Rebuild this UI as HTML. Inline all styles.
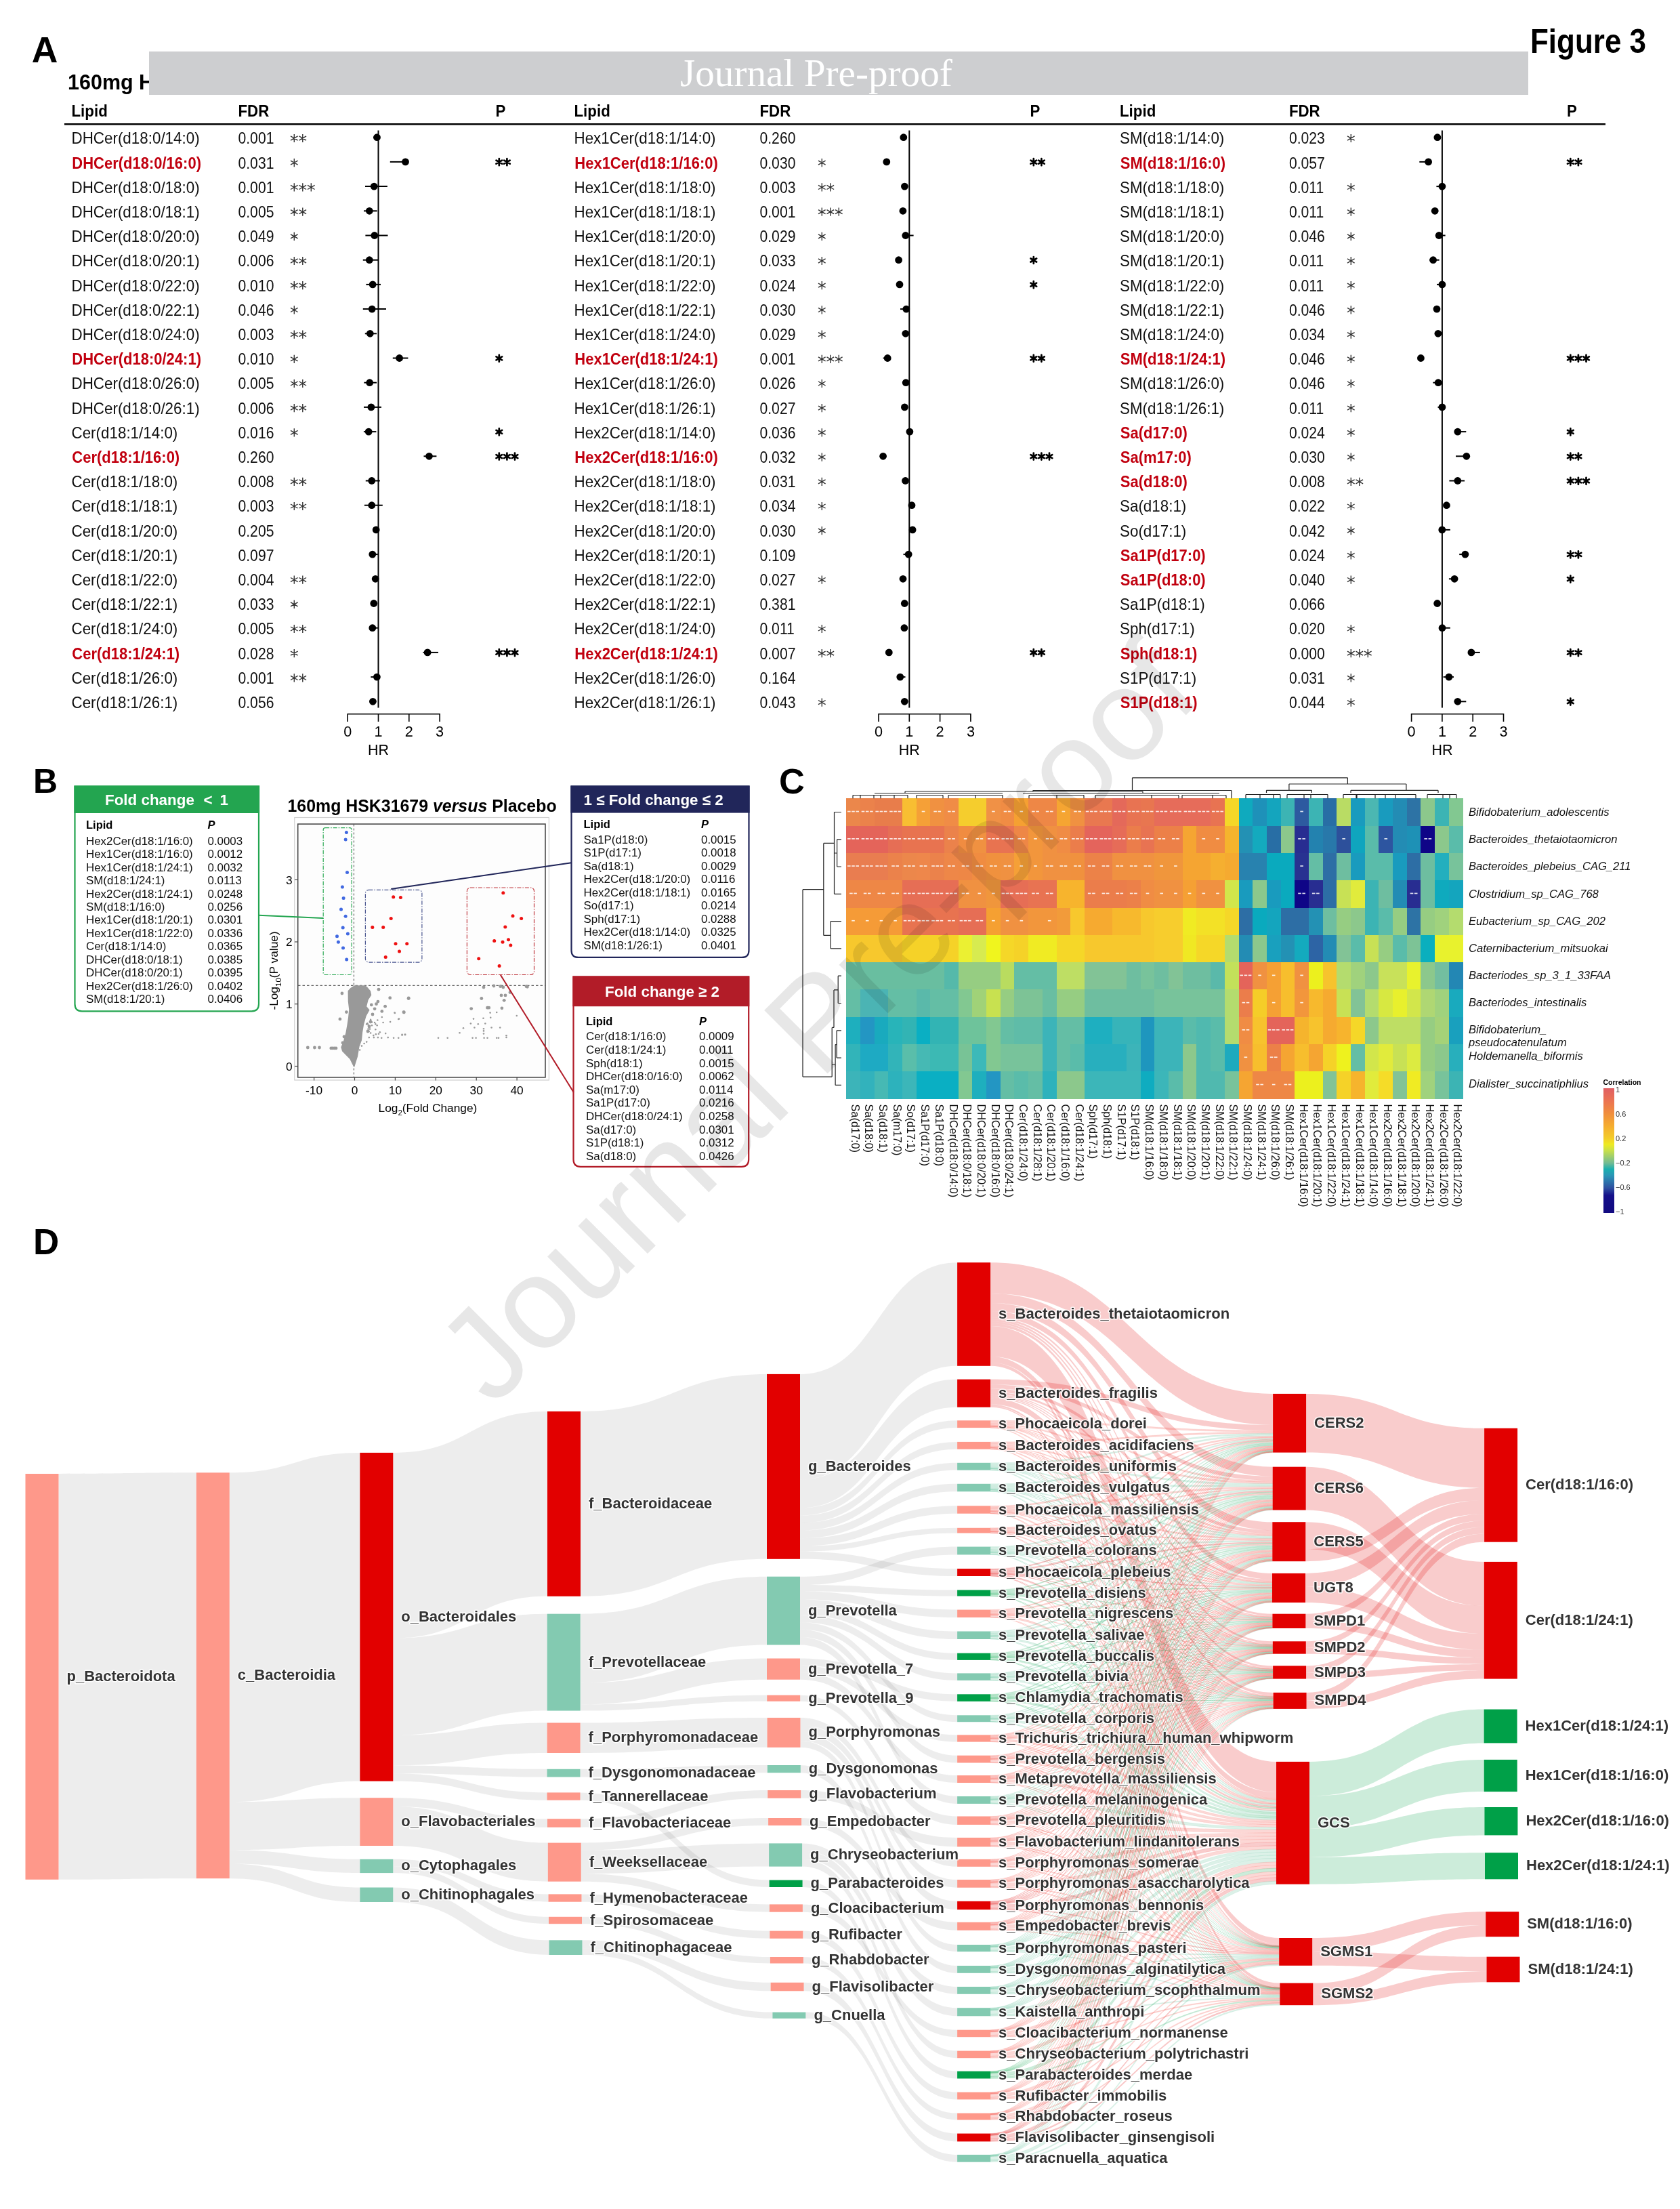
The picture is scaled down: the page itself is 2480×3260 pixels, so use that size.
<!DOCTYPE html>
<html><head><meta charset="utf-8"><title>Figure 3</title>
<style>
html,body{margin:0;padding:0;background:#fff;}
body{width:2480px;height:3260px;overflow:hidden;}
svg{display:block;font-family:"Liberation Sans",sans-serif;}
</style></head><body>
<svg width="2480" height="3260" viewBox="0 0 2480 3260" xmlns="http://www.w3.org/2000/svg">
<text x="46.8" y="91.8" font-size="53.5" font-weight="bold">A</text>
<text x="100" y="132.4" font-size="30.5" font-weight="bold">160mg HSK31679 versus Placebo</text>
<rect x="220" y="76" width="2036" height="64" fill="#cdced0"/>
<text x="1004" y="127.3" font-family="Liberation Serif, serif" font-size="57.2" fill="#fff">Journal Pre-proof</text>
<text x="2259" y="78" font-size="49.3" font-weight="bold" textLength="171" lengthAdjust="spacingAndGlyphs">Figure 3</text>
<text transform="translate(105.5,172.3) scale(0.918,1)" font-size="24.3" font-weight="bold">Lipid</text>
<text transform="translate(351.5,172.3) scale(0.918,1)" font-size="24.3" font-weight="bold">FDR</text>
<text transform="translate(731.5,172.3) scale(0.918,1)" font-size="24.3" font-weight="bold">P</text>
<text transform="translate(847.5,172.3) scale(0.918,1)" font-size="24.3" font-weight="bold">Lipid</text>
<text transform="translate(1121.5,172.3) scale(0.918,1)" font-size="24.3" font-weight="bold">FDR</text>
<text transform="translate(1520.5,172.3) scale(0.918,1)" font-size="24.3" font-weight="bold">P</text>
<text transform="translate(1653.0,172.3) scale(0.918,1)" font-size="24.3" font-weight="bold">Lipid</text>
<text transform="translate(1902.9,172.3) scale(0.918,1)" font-size="24.3" font-weight="bold">FDR</text>
<text transform="translate(2313.0,172.3) scale(0.918,1)" font-size="24.3" font-weight="bold">P</text>
<line x1="95" y1="183.3" x2="2370" y2="183.3" stroke="#000" stroke-width="2.4"/>
<line x1="558.5" y1="192.5" x2="558.5" y2="1044.6" stroke="#000" stroke-width="2"/>
<path d="M513.2 1065V1053.7H649.1V1065M558.5 1053.7V1065M603.8 1053.7V1065" fill="none" stroke="#000" stroke-width="1.6"/>
<text transform="translate(513.2,1086.7) scale(0.95,1)" font-size="22.8" text-anchor="middle">0</text>
<text transform="translate(558.5,1086.7) scale(0.95,1)" font-size="22.8" text-anchor="middle">1</text>
<text transform="translate(603.8,1086.7) scale(0.95,1)" font-size="22.8" text-anchor="middle">2</text>
<text transform="translate(649.1,1086.7) scale(0.95,1)" font-size="22.8" text-anchor="middle">3</text>
<text transform="translate(558.5,1114) scale(0.95,1)" font-size="22.6" text-anchor="middle">HR</text>
<text transform="translate(105.5,212.4) scale(0.945,1)" font-size="23.7" fill="#111">DHCer(d18:0/14:0)</text>
<text transform="translate(351.5,212.4) scale(0.885,1)" font-size="23.9" fill="#111">0.001</text>
<line x1="551" y1="202.7" x2="559" y2="202.7" stroke="#000" stroke-width="2"/>
<circle cx="556.5" cy="202.7" r="5.4"/>
<text transform="translate(106.3,248.6) scale(0.913,1)" font-size="24.1" font-weight="bold" fill="#c1000f">DHCer(d18:0/16:0)</text>
<text transform="translate(351.5,248.6) scale(0.885,1)" font-size="23.9" fill="#111">0.031</text>
<line x1="575.8" y1="238.9" x2="602" y2="238.9" stroke="#000" stroke-width="2"/>
<circle cx="598.5" cy="238.9" r="5.4"/>
<text transform="translate(105.5,284.8) scale(0.945,1)" font-size="23.7" fill="#111">DHCer(d18:0/18:0)</text>
<text transform="translate(351.5,284.8) scale(0.885,1)" font-size="23.9" fill="#111">0.001</text>
<line x1="539" y1="275.1" x2="571.9" y2="275.1" stroke="#000" stroke-width="2"/>
<circle cx="552.2" cy="275.1" r="5.4"/>
<text transform="translate(105.5,321.0) scale(0.945,1)" font-size="23.7" fill="#111">DHCer(d18:0/18:1)</text>
<text transform="translate(351.5,321.0) scale(0.885,1)" font-size="23.9" fill="#111">0.005</text>
<line x1="537" y1="311.3" x2="556.7" y2="311.3" stroke="#000" stroke-width="2"/>
<circle cx="545.3" cy="311.3" r="5.4"/>
<text transform="translate(105.5,357.2) scale(0.945,1)" font-size="23.7" fill="#111">DHCer(d18:0/20:0)</text>
<text transform="translate(351.5,357.2) scale(0.885,1)" font-size="23.9" fill="#111">0.049</text>
<line x1="539.4" y1="347.5" x2="572.5" y2="347.5" stroke="#000" stroke-width="2"/>
<circle cx="552.8" cy="347.5" r="5.4"/>
<text transform="translate(105.5,393.4) scale(0.945,1)" font-size="23.7" fill="#111">DHCer(d18:0/20:1)</text>
<text transform="translate(351.5,393.4) scale(0.885,1)" font-size="23.9" fill="#111">0.006</text>
<line x1="535.8" y1="383.7" x2="558" y2="383.7" stroke="#000" stroke-width="2"/>
<circle cx="545.3" cy="383.7" r="5.4"/>
<text transform="translate(105.5,429.6) scale(0.945,1)" font-size="23.7" fill="#111">DHCer(d18:0/22:0)</text>
<text transform="translate(351.5,429.6) scale(0.885,1)" font-size="23.9" fill="#111">0.010</text>
<line x1="540.4" y1="419.9" x2="562" y2="419.9" stroke="#000" stroke-width="2"/>
<circle cx="550.2" cy="419.9" r="5.4"/>
<text transform="translate(105.5,465.8) scale(0.945,1)" font-size="23.7" fill="#111">DHCer(d18:0/22:1)</text>
<text transform="translate(351.5,465.8) scale(0.885,1)" font-size="23.9" fill="#111">0.046</text>
<line x1="535.8" y1="456.1" x2="570" y2="456.1" stroke="#000" stroke-width="2"/>
<circle cx="549.2" cy="456.1" r="5.4"/>
<text transform="translate(105.5,502.0) scale(0.945,1)" font-size="23.7" fill="#111">DHCer(d18:0/24:0)</text>
<text transform="translate(351.5,502.0) scale(0.885,1)" font-size="23.9" fill="#111">0.003</text>
<line x1="538.8" y1="492.3" x2="556" y2="492.3" stroke="#000" stroke-width="2"/>
<circle cx="546.3" cy="492.3" r="5.4"/>
<text transform="translate(106.3,538.2) scale(0.913,1)" font-size="24.1" font-weight="bold" fill="#c1000f">DHCer(d18:0/24:1)</text>
<text transform="translate(351.5,538.2) scale(0.885,1)" font-size="23.9" fill="#111">0.010</text>
<line x1="579.8" y1="528.5" x2="602.4" y2="528.5" stroke="#000" stroke-width="2"/>
<circle cx="589.6" cy="528.5" r="5.4"/>
<text transform="translate(105.5,574.4) scale(0.945,1)" font-size="23.7" fill="#111">DHCer(d18:0/26:0)</text>
<text transform="translate(351.5,574.4) scale(0.885,1)" font-size="23.9" fill="#111">0.005</text>
<line x1="537.4" y1="564.7" x2="556" y2="564.7" stroke="#000" stroke-width="2"/>
<circle cx="545.7" cy="564.7" r="5.4"/>
<text transform="translate(105.5,610.6) scale(0.945,1)" font-size="23.7" fill="#111">DHCer(d18:0/26:1)</text>
<text transform="translate(351.5,610.6) scale(0.885,1)" font-size="23.9" fill="#111">0.006</text>
<line x1="537" y1="600.9" x2="563" y2="600.9" stroke="#000" stroke-width="2"/>
<circle cx="547.9" cy="600.9" r="5.4"/>
<text transform="translate(105.5,646.8) scale(0.945,1)" font-size="23.7" fill="#111">Cer(d18:1/14:0)</text>
<text transform="translate(351.5,646.8) scale(0.885,1)" font-size="23.9" fill="#111">0.016</text>
<line x1="536.9" y1="637.1" x2="555.4" y2="637.1" stroke="#000" stroke-width="2"/>
<circle cx="544.2" cy="637.1" r="5.4"/>
<text transform="translate(106.3,683.0) scale(0.913,1)" font-size="24.1" font-weight="bold" fill="#c1000f">Cer(d18:1/16:0)</text>
<text transform="translate(351.5,683.0) scale(0.885,1)" font-size="23.9" fill="#111">0.260</text>
<line x1="625.5" y1="673.3" x2="644.4" y2="673.3" stroke="#000" stroke-width="2"/>
<circle cx="633.5" cy="673.3" r="5.4"/>
<text transform="translate(105.5,719.2) scale(0.945,1)" font-size="23.7" fill="#111">Cer(d18:1/18:0)</text>
<text transform="translate(351.5,719.2) scale(0.885,1)" font-size="23.9" fill="#111">0.008</text>
<line x1="539.8" y1="709.5" x2="560.8" y2="709.5" stroke="#000" stroke-width="2"/>
<circle cx="548.8" cy="709.5" r="5.4"/>
<text transform="translate(105.5,755.4) scale(0.945,1)" font-size="23.7" fill="#111">Cer(d18:1/18:1)</text>
<text transform="translate(351.5,755.4) scale(0.885,1)" font-size="23.9" fill="#111">0.003</text>
<line x1="537.9" y1="745.7" x2="564.8" y2="745.7" stroke="#000" stroke-width="2"/>
<circle cx="548.8" cy="745.7" r="5.4"/>
<text transform="translate(105.5,791.6) scale(0.945,1)" font-size="23.7" fill="#111">Cer(d18:1/20:0)</text>
<text transform="translate(351.5,791.6) scale(0.885,1)" font-size="23.9" fill="#111">0.205</text>
<circle cx="555.2" cy="781.9" r="5.4"/>
<text transform="translate(105.5,827.8) scale(0.945,1)" font-size="23.7" fill="#111">Cer(d18:1/20:1)</text>
<text transform="translate(351.5,827.8) scale(0.885,1)" font-size="23.9" fill="#111">0.097</text>
<line x1="549.8" y1="818.1" x2="557.8" y2="818.1" stroke="#000" stroke-width="2"/>
<circle cx="549.8" cy="818.1" r="5.4"/>
<text transform="translate(105.5,864.0) scale(0.945,1)" font-size="23.7" fill="#111">Cer(d18:1/22:0)</text>
<text transform="translate(351.5,864.0) scale(0.885,1)" font-size="23.9" fill="#111">0.004</text>
<circle cx="554.2" cy="854.3" r="5.4"/>
<text transform="translate(105.5,900.2) scale(0.945,1)" font-size="23.7" fill="#111">Cer(d18:1/22:1)</text>
<text transform="translate(351.5,900.2) scale(0.885,1)" font-size="23.9" fill="#111">0.033</text>
<circle cx="551.8" cy="890.5" r="5.4"/>
<text transform="translate(105.5,936.4) scale(0.945,1)" font-size="23.7" fill="#111">Cer(d18:1/24:0)</text>
<text transform="translate(351.5,936.4) scale(0.885,1)" font-size="23.9" fill="#111">0.005</text>
<line x1="549.8" y1="926.7" x2="557.8" y2="926.7" stroke="#000" stroke-width="2"/>
<circle cx="549.8" cy="926.7" r="5.4"/>
<text transform="translate(106.3,972.6) scale(0.913,1)" font-size="24.1" font-weight="bold" fill="#c1000f">Cer(d18:1/24:1)</text>
<text transform="translate(351.5,972.6) scale(0.885,1)" font-size="23.9" fill="#111">0.028</text>
<line x1="624.5" y1="962.9" x2="647" y2="962.9" stroke="#000" stroke-width="2"/>
<circle cx="631.1" cy="962.9" r="5.4"/>
<text transform="translate(105.5,1008.8) scale(0.945,1)" font-size="23.7" fill="#111">Cer(d18:1/26:0)</text>
<text transform="translate(351.5,1008.8) scale(0.885,1)" font-size="23.9" fill="#111">0.001</text>
<line x1="547.4" y1="999.1" x2="556.4" y2="999.1" stroke="#000" stroke-width="2"/>
<circle cx="556.4" cy="999.1" r="5.4"/>
<text transform="translate(105.5,1045.0) scale(0.945,1)" font-size="23.7" fill="#111">Cer(d18:1/26:1)</text>
<text transform="translate(351.5,1045.0) scale(0.885,1)" font-size="23.9" fill="#111">0.056</text>
<circle cx="550.4" cy="1035.3" r="5.4"/>
<path d="M434.3 197.9L434.3 210.1M429.0 200.9L439.6 207.1M439.6 200.9L429.0 207.1M446.8 197.9L446.8 210.1M441.5 200.9L452.1 207.1M452.1 200.9L441.5 207.1M434.3 234.1L434.3 246.3M429.0 237.1L439.6 243.2M439.6 237.1L429.0 243.2M434.3 270.3L434.3 282.5M429.0 273.4L439.6 279.5M439.6 273.4L429.0 279.5M446.8 270.3L446.8 282.5M441.5 273.4L452.1 279.5M452.1 273.4L441.5 279.5M459.3 270.3L459.3 282.5M454.0 273.4L464.6 279.5M464.6 273.4L454.0 279.5M434.3 306.5L434.3 318.7M429.0 309.6L439.6 315.7M439.6 309.6L429.0 315.7M446.8 306.5L446.8 318.7M441.5 309.6L452.1 315.7M452.1 309.6L441.5 315.7M434.3 342.7L434.3 354.9M429.0 345.8L439.6 351.9M439.6 345.8L429.0 351.9M434.3 378.9L434.3 391.1M429.0 381.9L439.6 388.1M439.6 381.9L429.0 388.1M446.8 378.9L446.8 391.1M441.5 381.9L452.1 388.1M452.1 381.9L441.5 388.1M434.3 415.1L434.3 427.3M429.0 418.1L439.6 424.2M439.6 418.1L429.0 424.2M446.8 415.1L446.8 427.3M441.5 418.1L452.1 424.2M452.1 418.1L441.5 424.2M434.3 451.3L434.3 463.5M429.0 454.4L439.6 460.5M439.6 454.4L429.0 460.5M434.3 487.5L434.3 499.7M429.0 490.6L439.6 496.7M439.6 490.6L429.0 496.7M446.8 487.5L446.8 499.7M441.5 490.6L452.1 496.7M452.1 490.6L441.5 496.7M434.3 523.7L434.3 535.9M429.0 526.8L439.6 532.8M439.6 526.8L429.0 532.8M434.3 559.9L434.3 572.1M429.0 563.0L439.6 569.0M439.6 563.0L429.0 569.0M446.8 559.9L446.8 572.1M441.5 563.0L452.1 569.0M452.1 563.0L441.5 569.0M434.3 596.1L434.3 608.3M429.0 599.2L439.6 605.2M439.6 599.2L429.0 605.2M446.8 596.1L446.8 608.3M441.5 599.2L452.1 605.2M452.1 599.2L441.5 605.2M434.3 632.3L434.3 644.5M429.0 635.4L439.6 641.4M439.6 635.4L429.0 641.4M434.3 704.7L434.3 716.9M429.0 707.8L439.6 713.8M439.6 707.8L429.0 713.8M446.8 704.7L446.8 716.9M441.5 707.8L452.1 713.8M452.1 707.8L441.5 713.8M434.3 740.9L434.3 753.1M429.0 744.0L439.6 750.0M439.6 744.0L429.0 750.0M446.8 740.9L446.8 753.1M441.5 744.0L452.1 750.0M452.1 744.0L441.5 750.0M434.3 849.5L434.3 861.7M429.0 852.5L439.6 858.6M439.6 852.5L429.0 858.6M446.8 849.5L446.8 861.7M441.5 852.5L452.1 858.6M452.1 852.5L441.5 858.6M434.3 885.7L434.3 897.9M429.0 888.8L439.6 894.8M439.6 888.8L429.0 894.8M434.3 921.9L434.3 934.1M429.0 925.0L439.6 931.0M439.6 925.0L429.0 931.0M446.8 921.9L446.8 934.1M441.5 925.0L452.1 931.0M452.1 925.0L441.5 931.0M434.3 958.1L434.3 970.3M429.0 961.2L439.6 967.2M439.6 961.2L429.0 967.2M434.3 994.3L434.3 1006.5M429.0 997.4L439.6 1003.5M439.6 997.4L429.0 1003.5M446.8 994.3L446.8 1006.5M441.5 997.4L452.1 1003.5M452.1 997.4L441.5 1003.5" stroke="#333" stroke-width="1.4" fill="none"/>
<path d="M736.8 234.2L736.8 244.2M732.5 236.7L741.1 241.7M741.1 236.7L732.5 241.7M748.4 234.2L748.4 244.2M744.1 236.7L752.7 241.7M752.7 236.7L744.1 241.7M736.8 523.8L736.8 533.8M732.5 526.3L741.1 531.3M741.1 526.3L732.5 531.3M736.8 632.4L736.8 642.4M732.5 634.9L741.1 639.9M741.1 634.9L732.5 639.9M736.8 668.6L736.8 678.6M732.5 671.1L741.1 676.1M741.1 671.1L732.5 676.1M748.4 668.6L748.4 678.6M744.1 671.1L752.7 676.1M752.7 671.1L744.1 676.1M760.0 668.6L760.0 678.6M755.7 671.1L764.3 676.1M764.3 671.1L755.7 676.1M736.8 958.2L736.8 968.2M732.5 960.7L741.1 965.7M741.1 960.7L732.5 965.7M748.4 958.2L748.4 968.2M744.1 960.7L752.7 965.7M752.7 960.7L744.1 965.7M760.0 958.2L760.0 968.2M755.7 960.7L764.3 965.7M764.3 960.7L755.7 965.7" stroke="#000" stroke-width="2.7" stroke-linecap="round" fill="none"/>
<line x1="1342.3" y1="192.5" x2="1342.3" y2="1044.6" stroke="#000" stroke-width="2"/>
<path d="M1297.0 1065V1053.7H1432.9V1065M1342.3 1053.7V1065M1387.6 1053.7V1065" fill="none" stroke="#000" stroke-width="1.6"/>
<text transform="translate(1297.0,1086.7) scale(0.95,1)" font-size="22.8" text-anchor="middle">0</text>
<text transform="translate(1342.3,1086.7) scale(0.95,1)" font-size="22.8" text-anchor="middle">1</text>
<text transform="translate(1387.6,1086.7) scale(0.95,1)" font-size="22.8" text-anchor="middle">2</text>
<text transform="translate(1432.9,1086.7) scale(0.95,1)" font-size="22.8" text-anchor="middle">3</text>
<text transform="translate(1342.3,1114) scale(0.95,1)" font-size="22.6" text-anchor="middle">HR</text>
<text transform="translate(847.5,212.4) scale(0.945,1)" font-size="23.7" fill="#111">Hex1Cer(d18:1/14:0)</text>
<text transform="translate(1121.5,212.4) scale(0.885,1)" font-size="23.9" fill="#111">0.260</text>
<circle cx="1333.8" cy="202.7" r="5.4"/>
<text transform="translate(848.3,248.6) scale(0.913,1)" font-size="24.1" font-weight="bold" fill="#c1000f">Hex1Cer(d18:1/16:0)</text>
<text transform="translate(1121.5,248.6) scale(0.885,1)" font-size="23.9" fill="#111">0.030</text>
<circle cx="1308.8" cy="238.9" r="5.4"/>
<text transform="translate(847.5,284.8) scale(0.945,1)" font-size="23.7" fill="#111">Hex1Cer(d18:1/18:0)</text>
<text transform="translate(1121.5,284.8) scale(0.885,1)" font-size="23.9" fill="#111">0.003</text>
<circle cx="1335.4" cy="275.1" r="5.4"/>
<text transform="translate(847.5,321.0) scale(0.945,1)" font-size="23.7" fill="#111">Hex1Cer(d18:1/18:1)</text>
<text transform="translate(1121.5,321.0) scale(0.885,1)" font-size="23.9" fill="#111">0.001</text>
<circle cx="1332.9" cy="311.3" r="5.4"/>
<text transform="translate(847.5,357.2) scale(0.945,1)" font-size="23.7" fill="#111">Hex1Cer(d18:1/20:0)</text>
<text transform="translate(1121.5,357.2) scale(0.885,1)" font-size="23.9" fill="#111">0.029</text>
<line x1="1336.8" y1="347.5" x2="1348.6" y2="347.5" stroke="#000" stroke-width="2"/>
<circle cx="1336.8" cy="347.5" r="5.4"/>
<text transform="translate(847.5,393.4) scale(0.945,1)" font-size="23.7" fill="#111">Hex1Cer(d18:1/20:1)</text>
<text transform="translate(1121.5,393.4) scale(0.885,1)" font-size="23.9" fill="#111">0.033</text>
<circle cx="1326.6" cy="383.7" r="5.4"/>
<text transform="translate(847.5,429.6) scale(0.945,1)" font-size="23.7" fill="#111">Hex1Cer(d18:1/22:0)</text>
<text transform="translate(1121.5,429.6) scale(0.885,1)" font-size="23.9" fill="#111">0.024</text>
<circle cx="1328" cy="419.9" r="5.4"/>
<text transform="translate(847.5,465.8) scale(0.945,1)" font-size="23.7" fill="#111">Hex1Cer(d18:1/22:1)</text>
<text transform="translate(1121.5,465.8) scale(0.885,1)" font-size="23.9" fill="#111">0.030</text>
<line x1="1329" y1="456.1" x2="1337.8" y2="456.1" stroke="#000" stroke-width="2"/>
<circle cx="1337.8" cy="456.1" r="5.4"/>
<text transform="translate(847.5,502.0) scale(0.945,1)" font-size="23.7" fill="#111">Hex1Cer(d18:1/24:0)</text>
<text transform="translate(1121.5,502.0) scale(0.885,1)" font-size="23.9" fill="#111">0.029</text>
<circle cx="1336.8" cy="492.3" r="5.4"/>
<text transform="translate(848.3,538.2) scale(0.913,1)" font-size="24.1" font-weight="bold" fill="#c1000f">Hex1Cer(d18:1/24:1)</text>
<text transform="translate(1121.5,538.2) scale(0.885,1)" font-size="23.9" fill="#111">0.001</text>
<line x1="1303.7" y1="528.5" x2="1310.2" y2="528.5" stroke="#000" stroke-width="2"/>
<circle cx="1310.2" cy="528.5" r="5.4"/>
<text transform="translate(847.5,574.4) scale(0.945,1)" font-size="23.7" fill="#111">Hex1Cer(d18:1/26:0)</text>
<text transform="translate(1121.5,574.4) scale(0.885,1)" font-size="23.9" fill="#111">0.026</text>
<circle cx="1337.2" cy="564.7" r="5.4"/>
<text transform="translate(847.5,610.6) scale(0.945,1)" font-size="23.7" fill="#111">Hex1Cer(d18:1/26:1)</text>
<text transform="translate(1121.5,610.6) scale(0.885,1)" font-size="23.9" fill="#111">0.027</text>
<circle cx="1335.4" cy="600.9" r="5.4"/>
<text transform="translate(847.5,646.8) scale(0.945,1)" font-size="23.7" fill="#111">Hex2Cer(d18:1/14:0)</text>
<text transform="translate(1121.5,646.8) scale(0.885,1)" font-size="23.9" fill="#111">0.036</text>
<circle cx="1342.9" cy="637.1" r="5.4"/>
<text transform="translate(848.3,683.0) scale(0.913,1)" font-size="24.1" font-weight="bold" fill="#c1000f">Hex2Cer(d18:1/16:0)</text>
<text transform="translate(1121.5,683.0) scale(0.885,1)" font-size="23.9" fill="#111">0.032</text>
<circle cx="1303.6" cy="673.3" r="5.4"/>
<text transform="translate(847.5,719.2) scale(0.945,1)" font-size="23.7" fill="#111">Hex2Cer(d18:1/18:0)</text>
<text transform="translate(1121.5,719.2) scale(0.885,1)" font-size="23.9" fill="#111">0.031</text>
<circle cx="1336.5" cy="709.5" r="5.4"/>
<text transform="translate(847.5,755.4) scale(0.945,1)" font-size="23.7" fill="#111">Hex2Cer(d18:1/18:1)</text>
<text transform="translate(1121.5,755.4) scale(0.885,1)" font-size="23.9" fill="#111">0.034</text>
<circle cx="1346" cy="745.7" r="5.4"/>
<text transform="translate(847.5,791.6) scale(0.945,1)" font-size="23.7" fill="#111">Hex2Cer(d18:1/20:0)</text>
<text transform="translate(1121.5,791.6) scale(0.885,1)" font-size="23.9" fill="#111">0.030</text>
<circle cx="1347.1" cy="781.9" r="5.4"/>
<text transform="translate(847.5,827.8) scale(0.945,1)" font-size="23.7" fill="#111">Hex2Cer(d18:1/20:1)</text>
<text transform="translate(1121.5,827.8) scale(0.885,1)" font-size="23.9" fill="#111">0.109</text>
<line x1="1333.5" y1="818.1" x2="1341.2" y2="818.1" stroke="#000" stroke-width="2"/>
<circle cx="1341.2" cy="818.1" r="5.4"/>
<text transform="translate(847.5,864.0) scale(0.945,1)" font-size="23.7" fill="#111">Hex2Cer(d18:1/22:0)</text>
<text transform="translate(1121.5,864.0) scale(0.885,1)" font-size="23.9" fill="#111">0.027</text>
<circle cx="1333" cy="854.3" r="5.4"/>
<text transform="translate(847.5,900.2) scale(0.945,1)" font-size="23.7" fill="#111">Hex2Cer(d18:1/22:1)</text>
<text transform="translate(1121.5,900.2) scale(0.885,1)" font-size="23.9" fill="#111">0.381</text>
<circle cx="1335.3" cy="890.5" r="5.4"/>
<text transform="translate(847.5,936.4) scale(0.945,1)" font-size="23.7" fill="#111">Hex2Cer(d18:1/24:0)</text>
<text transform="translate(1121.5,936.4) scale(0.885,1)" font-size="23.9" fill="#111">0.011</text>
<circle cx="1334.9" cy="926.7" r="5.4"/>
<text transform="translate(848.3,972.6) scale(0.913,1)" font-size="24.1" font-weight="bold" fill="#c1000f">Hex2Cer(d18:1/24:1)</text>
<text transform="translate(1121.5,972.6) scale(0.885,1)" font-size="23.9" fill="#111">0.007</text>
<circle cx="1312.3" cy="962.9" r="5.4"/>
<text transform="translate(847.5,1008.8) scale(0.945,1)" font-size="23.7" fill="#111">Hex2Cer(d18:1/26:0)</text>
<text transform="translate(1121.5,1008.8) scale(0.885,1)" font-size="23.9" fill="#111">0.164</text>
<line x1="1328.8" y1="999.1" x2="1336.5" y2="999.1" stroke="#000" stroke-width="2"/>
<circle cx="1328.8" cy="999.1" r="5.4"/>
<text transform="translate(847.5,1045.0) scale(0.945,1)" font-size="23.7" fill="#111">Hex2Cer(d18:1/26:1)</text>
<text transform="translate(1121.5,1045.0) scale(0.885,1)" font-size="23.9" fill="#111">0.043</text>
<circle cx="1335.3" cy="1035.3" r="5.4"/>
<path d="M1213.3 234.1L1213.3 246.3M1208.0 237.1L1218.6 243.2M1218.6 237.1L1208.0 243.2M1213.3 270.3L1213.3 282.5M1208.0 273.4L1218.6 279.5M1218.6 273.4L1208.0 279.5M1225.8 270.3L1225.8 282.5M1220.5 273.4L1231.1 279.5M1231.1 273.4L1220.5 279.5M1213.3 306.5L1213.3 318.7M1208.0 309.6L1218.6 315.7M1218.6 309.6L1208.0 315.7M1225.8 306.5L1225.8 318.7M1220.5 309.6L1231.1 315.7M1231.1 309.6L1220.5 315.7M1238.3 306.5L1238.3 318.7M1233.0 309.6L1243.6 315.7M1243.6 309.6L1233.0 315.7M1213.3 342.7L1213.3 354.9M1208.0 345.8L1218.6 351.9M1218.6 345.8L1208.0 351.9M1213.3 378.9L1213.3 391.1M1208.0 381.9L1218.6 388.1M1218.6 381.9L1208.0 388.1M1213.3 415.1L1213.3 427.3M1208.0 418.1L1218.6 424.2M1218.6 418.1L1208.0 424.2M1213.3 451.3L1213.3 463.5M1208.0 454.4L1218.6 460.5M1218.6 454.4L1208.0 460.5M1213.3 487.5L1213.3 499.7M1208.0 490.6L1218.6 496.7M1218.6 490.6L1208.0 496.7M1213.3 523.7L1213.3 535.9M1208.0 526.8L1218.6 532.8M1218.6 526.8L1208.0 532.8M1225.8 523.7L1225.8 535.9M1220.5 526.8L1231.1 532.8M1231.1 526.8L1220.5 532.8M1238.3 523.7L1238.3 535.9M1233.0 526.8L1243.6 532.8M1243.6 526.8L1233.0 532.8M1213.3 559.9L1213.3 572.1M1208.0 563.0L1218.6 569.0M1218.6 563.0L1208.0 569.0M1213.3 596.1L1213.3 608.3M1208.0 599.2L1218.6 605.2M1218.6 599.2L1208.0 605.2M1213.3 632.3L1213.3 644.5M1208.0 635.4L1218.6 641.4M1218.6 635.4L1208.0 641.4M1213.3 668.5L1213.3 680.7M1208.0 671.5L1218.6 677.6M1218.6 671.5L1208.0 677.6M1213.3 704.7L1213.3 716.9M1208.0 707.8L1218.6 713.8M1218.6 707.8L1208.0 713.8M1213.3 740.9L1213.3 753.1M1208.0 744.0L1218.6 750.0M1218.6 744.0L1208.0 750.0M1213.3 777.1L1213.3 789.3M1208.0 780.2L1218.6 786.2M1218.6 780.2L1208.0 786.2M1213.3 849.5L1213.3 861.7M1208.0 852.5L1218.6 858.6M1218.6 852.5L1208.0 858.6M1213.3 921.9L1213.3 934.1M1208.0 925.0L1218.6 931.0M1218.6 925.0L1208.0 931.0M1213.3 958.1L1213.3 970.3M1208.0 961.2L1218.6 967.2M1218.6 961.2L1208.0 967.2M1225.8 958.1L1225.8 970.3M1220.5 961.2L1231.1 967.2M1231.1 961.2L1220.5 967.2M1213.3 1030.5L1213.3 1042.7M1208.0 1033.5L1218.6 1039.6M1218.6 1033.5L1208.0 1039.6" stroke="#333" stroke-width="1.4" fill="none"/>
<path d="M1525.8 234.2L1525.8 244.2M1521.5 236.7L1530.1 241.7M1530.1 236.7L1521.5 241.7M1537.4 234.2L1537.4 244.2M1533.1 236.7L1541.7 241.7M1541.7 236.7L1533.1 241.7M1525.8 379.0L1525.8 389.0M1521.5 381.5L1530.1 386.5M1530.1 381.5L1521.5 386.5M1525.8 415.2L1525.8 425.2M1521.5 417.7L1530.1 422.7M1530.1 417.7L1521.5 422.7M1525.8 523.8L1525.8 533.8M1521.5 526.3L1530.1 531.3M1530.1 526.3L1521.5 531.3M1537.4 523.8L1537.4 533.8M1533.1 526.3L1541.7 531.3M1541.7 526.3L1533.1 531.3M1525.8 668.6L1525.8 678.6M1521.5 671.1L1530.1 676.1M1530.1 671.1L1521.5 676.1M1537.4 668.6L1537.4 678.6M1533.1 671.1L1541.7 676.1M1541.7 671.1L1533.1 676.1M1549.0 668.6L1549.0 678.6M1544.7 671.1L1553.3 676.1M1553.3 671.1L1544.7 676.1M1525.8 958.2L1525.8 968.2M1521.5 960.7L1530.1 965.7M1530.1 960.7L1521.5 965.7M1537.4 958.2L1537.4 968.2M1533.1 960.7L1541.7 965.7M1541.7 960.7L1533.1 965.7" stroke="#000" stroke-width="2.7" stroke-linecap="round" fill="none"/>
<line x1="2128.9" y1="192.5" x2="2128.9" y2="1044.6" stroke="#000" stroke-width="2"/>
<path d="M2083.6 1065V1053.7H2219.5V1065M2128.9 1053.7V1065M2174.2 1053.7V1065" fill="none" stroke="#000" stroke-width="1.6"/>
<text transform="translate(2083.6,1086.7) scale(0.95,1)" font-size="22.8" text-anchor="middle">0</text>
<text transform="translate(2128.9,1086.7) scale(0.95,1)" font-size="22.8" text-anchor="middle">1</text>
<text transform="translate(2174.2,1086.7) scale(0.95,1)" font-size="22.8" text-anchor="middle">2</text>
<text transform="translate(2219.5,1086.7) scale(0.95,1)" font-size="22.8" text-anchor="middle">3</text>
<text transform="translate(2128.9,1114) scale(0.95,1)" font-size="22.6" text-anchor="middle">HR</text>
<text transform="translate(1653.0,212.4) scale(0.945,1)" font-size="23.7" fill="#111">SM(d18:1/14:0)</text>
<text transform="translate(1902.9,212.4) scale(0.885,1)" font-size="23.9" fill="#111">0.023</text>
<circle cx="2121.9" cy="202.7" r="5.4"/>
<text transform="translate(1653.8,248.6) scale(0.913,1)" font-size="24.1" font-weight="bold" fill="#c1000f">SM(d18:1/16:0)</text>
<text transform="translate(1902.9,248.6) scale(0.885,1)" font-size="23.9" fill="#111">0.057</text>
<line x1="2095.3" y1="238.9" x2="2108.6" y2="238.9" stroke="#000" stroke-width="2"/>
<circle cx="2108.6" cy="238.9" r="5.4"/>
<text transform="translate(1653.0,284.8) scale(0.945,1)" font-size="23.7" fill="#111">SM(d18:1/18:0)</text>
<text transform="translate(1902.9,284.8) scale(0.885,1)" font-size="23.9" fill="#111">0.011</text>
<line x1="2120.4" y1="275.1" x2="2128.9" y2="275.1" stroke="#000" stroke-width="2"/>
<circle cx="2128.9" cy="275.1" r="5.4"/>
<text transform="translate(1653.0,321.0) scale(0.945,1)" font-size="23.7" fill="#111">SM(d18:1/18:1)</text>
<text transform="translate(1902.9,321.0) scale(0.885,1)" font-size="23.9" fill="#111">0.011</text>
<circle cx="2118.2" cy="311.3" r="5.4"/>
<text transform="translate(1653.0,357.2) scale(0.945,1)" font-size="23.7" fill="#111">SM(d18:1/20:0)</text>
<text transform="translate(1902.9,357.2) scale(0.885,1)" font-size="23.9" fill="#111">0.046</text>
<line x1="2124.2" y1="347.5" x2="2133.6" y2="347.5" stroke="#000" stroke-width="2"/>
<circle cx="2124.2" cy="347.5" r="5.4"/>
<text transform="translate(1653.0,393.4) scale(0.945,1)" font-size="23.7" fill="#111">SM(d18:1/20:1)</text>
<text transform="translate(1902.9,393.4) scale(0.885,1)" font-size="23.9" fill="#111">0.011</text>
<line x1="2110.3" y1="383.7" x2="2124.6" y2="383.7" stroke="#000" stroke-width="2"/>
<circle cx="2115.6" cy="383.7" r="5.4"/>
<text transform="translate(1653.0,429.6) scale(0.945,1)" font-size="23.7" fill="#111">SM(d18:1/22:0)</text>
<text transform="translate(1902.9,429.6) scale(0.885,1)" font-size="23.9" fill="#111">0.011</text>
<line x1="2121" y1="419.9" x2="2128.9" y2="419.9" stroke="#000" stroke-width="2"/>
<circle cx="2128.9" cy="419.9" r="5.4"/>
<text transform="translate(1653.0,465.8) scale(0.945,1)" font-size="23.7" fill="#111">SM(d18:1/22:1)</text>
<text transform="translate(1902.9,465.8) scale(0.885,1)" font-size="23.9" fill="#111">0.046</text>
<circle cx="2121" cy="456.1" r="5.4"/>
<text transform="translate(1653.0,502.0) scale(0.945,1)" font-size="23.7" fill="#111">SM(d18:1/24:0)</text>
<text transform="translate(1902.9,502.0) scale(0.885,1)" font-size="23.9" fill="#111">0.034</text>
<circle cx="2122.9" cy="492.3" r="5.4"/>
<text transform="translate(1653.8,538.2) scale(0.913,1)" font-size="24.1" font-weight="bold" fill="#c1000f">SM(d18:1/24:1)</text>
<text transform="translate(1902.9,538.2) scale(0.885,1)" font-size="23.9" fill="#111">0.046</text>
<circle cx="2097.4" cy="528.5" r="5.4"/>
<text transform="translate(1653.0,574.4) scale(0.945,1)" font-size="23.7" fill="#111">SM(d18:1/26:0)</text>
<text transform="translate(1902.9,574.4) scale(0.885,1)" font-size="23.9" fill="#111">0.046</text>
<line x1="2115.4" y1="564.7" x2="2123.1" y2="564.7" stroke="#000" stroke-width="2"/>
<circle cx="2123.1" cy="564.7" r="5.4"/>
<text transform="translate(1653.0,610.6) scale(0.945,1)" font-size="23.7" fill="#111">SM(d18:1/26:1)</text>
<text transform="translate(1902.9,610.6) scale(0.885,1)" font-size="23.9" fill="#111">0.011</text>
<line x1="2122.5" y1="600.9" x2="2128.9" y2="600.9" stroke="#000" stroke-width="2"/>
<circle cx="2128.9" cy="600.9" r="5.4"/>
<text transform="translate(1653.8,646.8) scale(0.913,1)" font-size="24.1" font-weight="bold" fill="#c1000f">Sa(d17:0)</text>
<text transform="translate(1902.9,646.8) scale(0.885,1)" font-size="23.9" fill="#111">0.024</text>
<line x1="2151.8" y1="637.1" x2="2164.3" y2="637.1" stroke="#000" stroke-width="2"/>
<circle cx="2151.8" cy="637.1" r="5.4"/>
<text transform="translate(1653.8,683.0) scale(0.913,1)" font-size="24.1" font-weight="bold" fill="#c1000f">Sa(m17:0)</text>
<text transform="translate(1902.9,683.0) scale(0.885,1)" font-size="23.9" fill="#111">0.030</text>
<line x1="2149" y1="673.3" x2="2164.8" y2="673.3" stroke="#000" stroke-width="2"/>
<circle cx="2164.8" cy="673.3" r="5.4"/>
<text transform="translate(1653.8,719.2) scale(0.913,1)" font-size="24.1" font-weight="bold" fill="#c1000f">Sa(d18:0)</text>
<text transform="translate(1902.9,719.2) scale(0.885,1)" font-size="23.9" fill="#111">0.008</text>
<line x1="2139.4" y1="709.5" x2="2162" y2="709.5" stroke="#000" stroke-width="2"/>
<circle cx="2151.8" cy="709.5" r="5.4"/>
<text transform="translate(1653.0,755.4) scale(0.945,1)" font-size="23.7" fill="#111">Sa(d18:1)</text>
<text transform="translate(1902.9,755.4) scale(0.885,1)" font-size="23.9" fill="#111">0.022</text>
<circle cx="2135.4" cy="745.7" r="5.4"/>
<text transform="translate(1653.0,791.6) scale(0.945,1)" font-size="23.7" fill="#111">So(d17:1)</text>
<text transform="translate(1902.9,791.6) scale(0.885,1)" font-size="23.9" fill="#111">0.042</text>
<line x1="2128.8" y1="781.9" x2="2140.8" y2="781.9" stroke="#000" stroke-width="2"/>
<circle cx="2128.8" cy="781.9" r="5.4"/>
<text transform="translate(1653.8,827.8) scale(0.913,1)" font-size="24.1" font-weight="bold" fill="#c1000f">Sa1P(d17:0)</text>
<text transform="translate(1902.9,827.8) scale(0.885,1)" font-size="23.9" fill="#111">0.024</text>
<line x1="2154.2" y1="818.1" x2="2162.9" y2="818.1" stroke="#000" stroke-width="2"/>
<circle cx="2162.9" cy="818.1" r="5.4"/>
<text transform="translate(1653.8,864.0) scale(0.913,1)" font-size="24.1" font-weight="bold" fill="#c1000f">Sa1P(d18:0)</text>
<text transform="translate(1902.9,864.0) scale(0.885,1)" font-size="23.9" fill="#111">0.040</text>
<line x1="2138.9" y1="854.3" x2="2147.1" y2="854.3" stroke="#000" stroke-width="2"/>
<circle cx="2147.1" cy="854.3" r="5.4"/>
<text transform="translate(1653.0,900.2) scale(0.945,1)" font-size="23.7" fill="#111">Sa1P(d18:1)</text>
<text transform="translate(1902.9,900.2) scale(0.885,1)" font-size="23.9" fill="#111">0.066</text>
<circle cx="2121.7" cy="890.5" r="5.4"/>
<text transform="translate(1653.0,936.4) scale(0.945,1)" font-size="23.7" fill="#111">Sph(d17:1)</text>
<text transform="translate(1902.9,936.4) scale(0.885,1)" font-size="23.9" fill="#111">0.020</text>
<line x1="2129" y1="926.7" x2="2140.8" y2="926.7" stroke="#000" stroke-width="2"/>
<circle cx="2129" cy="926.7" r="5.4"/>
<text transform="translate(1653.8,972.6) scale(0.913,1)" font-size="24.1" font-weight="bold" fill="#c1000f">Sph(d18:1)</text>
<text transform="translate(1902.9,972.6) scale(0.885,1)" font-size="23.9" fill="#111">0.000</text>
<line x1="2171.9" y1="962.9" x2="2184.8" y2="962.9" stroke="#000" stroke-width="2"/>
<circle cx="2171.9" cy="962.9" r="5.4"/>
<text transform="translate(1653.0,1008.8) scale(0.945,1)" font-size="23.7" fill="#111">S1P(d17:1)</text>
<text transform="translate(1902.9,1008.8) scale(0.885,1)" font-size="23.9" fill="#111">0.031</text>
<line x1="2130.6" y1="999.1" x2="2146" y2="999.1" stroke="#000" stroke-width="2"/>
<circle cx="2138.9" cy="999.1" r="5.4"/>
<text transform="translate(1653.8,1045.0) scale(0.913,1)" font-size="24.1" font-weight="bold" fill="#c1000f">S1P(d18:1)</text>
<text transform="translate(1902.9,1045.0) scale(0.885,1)" font-size="23.9" fill="#111">0.044</text>
<line x1="2151.8" y1="1035.3" x2="2164.3" y2="1035.3" stroke="#000" stroke-width="2"/>
<circle cx="2151.8" cy="1035.3" r="5.4"/>
<path d="M1994.3 197.9L1994.3 210.1M1989.0 200.9L1999.6 207.1M1999.6 200.9L1989.0 207.1M1994.3 270.3L1994.3 282.5M1989.0 273.4L1999.6 279.5M1999.6 273.4L1989.0 279.5M1994.3 306.5L1994.3 318.7M1989.0 309.6L1999.6 315.7M1999.6 309.6L1989.0 315.7M1994.3 342.7L1994.3 354.9M1989.0 345.8L1999.6 351.9M1999.6 345.8L1989.0 351.9M1994.3 378.9L1994.3 391.1M1989.0 381.9L1999.6 388.1M1999.6 381.9L1989.0 388.1M1994.3 415.1L1994.3 427.3M1989.0 418.1L1999.6 424.2M1999.6 418.1L1989.0 424.2M1994.3 451.3L1994.3 463.5M1989.0 454.4L1999.6 460.5M1999.6 454.4L1989.0 460.5M1994.3 487.5L1994.3 499.7M1989.0 490.6L1999.6 496.7M1999.6 490.6L1989.0 496.7M1994.3 523.7L1994.3 535.9M1989.0 526.8L1999.6 532.8M1999.6 526.8L1989.0 532.8M1994.3 559.9L1994.3 572.1M1989.0 563.0L1999.6 569.0M1999.6 563.0L1989.0 569.0M1994.3 596.1L1994.3 608.3M1989.0 599.2L1999.6 605.2M1999.6 599.2L1989.0 605.2M1994.3 632.3L1994.3 644.5M1989.0 635.4L1999.6 641.4M1999.6 635.4L1989.0 641.4M1994.3 668.5L1994.3 680.7M1989.0 671.5L1999.6 677.6M1999.6 671.5L1989.0 677.6M1994.3 704.7L1994.3 716.9M1989.0 707.8L1999.6 713.8M1999.6 707.8L1989.0 713.8M2006.8 704.7L2006.8 716.9M2001.5 707.8L2012.1 713.8M2012.1 707.8L2001.5 713.8M1994.3 740.9L1994.3 753.1M1989.0 744.0L1999.6 750.0M1999.6 744.0L1989.0 750.0M1994.3 777.1L1994.3 789.3M1989.0 780.2L1999.6 786.2M1999.6 780.2L1989.0 786.2M1994.3 813.3L1994.3 825.5M1989.0 816.4L1999.6 822.5M1999.6 816.4L1989.0 822.5M1994.3 849.5L1994.3 861.7M1989.0 852.5L1999.6 858.6M1999.6 852.5L1989.0 858.6M1994.3 921.9L1994.3 934.1M1989.0 925.0L1999.6 931.0M1999.6 925.0L1989.0 931.0M1994.3 958.1L1994.3 970.3M1989.0 961.2L1999.6 967.2M1999.6 961.2L1989.0 967.2M2006.8 958.1L2006.8 970.3M2001.5 961.2L2012.1 967.2M2012.1 961.2L2001.5 967.2M2019.3 958.1L2019.3 970.3M2014.0 961.2L2024.6 967.2M2024.6 961.2L2014.0 967.2M1994.3 994.3L1994.3 1006.5M1989.0 997.4L1999.6 1003.5M1999.6 997.4L1989.0 1003.5M1994.3 1030.5L1994.3 1042.7M1989.0 1033.5L1999.6 1039.6M1999.6 1033.5L1989.0 1039.6" stroke="#333" stroke-width="1.4" fill="none"/>
<path d="M2318.3 234.2L2318.3 244.2M2314.0 236.7L2322.6 241.7M2322.6 236.7L2314.0 241.7M2329.9 234.2L2329.9 244.2M2325.6 236.7L2334.2 241.7M2334.2 236.7L2325.6 241.7M2318.3 523.8L2318.3 533.8M2314.0 526.3L2322.6 531.3M2322.6 526.3L2314.0 531.3M2329.9 523.8L2329.9 533.8M2325.6 526.3L2334.2 531.3M2334.2 526.3L2325.6 531.3M2341.5 523.8L2341.5 533.8M2337.2 526.3L2345.8 531.3M2345.8 526.3L2337.2 531.3M2318.3 632.4L2318.3 642.4M2314.0 634.9L2322.6 639.9M2322.6 634.9L2314.0 639.9M2318.3 668.6L2318.3 678.6M2314.0 671.1L2322.6 676.1M2322.6 671.1L2314.0 676.1M2329.9 668.6L2329.9 678.6M2325.6 671.1L2334.2 676.1M2334.2 671.1L2325.6 676.1M2318.3 704.8L2318.3 714.8M2314.0 707.3L2322.6 712.3M2322.6 707.3L2314.0 712.3M2329.9 704.8L2329.9 714.8M2325.6 707.3L2334.2 712.3M2334.2 707.3L2325.6 712.3M2341.5 704.8L2341.5 714.8M2337.2 707.3L2345.8 712.3M2345.8 707.3L2337.2 712.3M2318.3 813.4L2318.3 823.4M2314.0 815.9L2322.6 820.9M2322.6 815.9L2314.0 820.9M2329.9 813.4L2329.9 823.4M2325.6 815.9L2334.2 820.9M2334.2 815.9L2325.6 820.9M2318.3 849.6L2318.3 859.6M2314.0 852.1L2322.6 857.1M2322.6 852.1L2314.0 857.1M2318.3 958.2L2318.3 968.2M2314.0 960.7L2322.6 965.7M2322.6 960.7L2314.0 965.7M2329.9 958.2L2329.9 968.2M2325.6 960.7L2334.2 965.7M2334.2 960.7L2325.6 965.7M2318.3 1030.6L2318.3 1040.6M2314.0 1033.1L2322.6 1038.1M2322.6 1033.1L2314.0 1038.1" stroke="#000" stroke-width="2.7" stroke-linecap="round" fill="none"/>
<text x="49" y="1170" font-size="50" font-weight="bold">B</text>
<path d="M110.5 1160.5H382V1481.8Q382 1492.3 371.5 1492.3H121.0Q110.5 1492.3 110.5 1481.8Z" fill="#fff" stroke="#23a550" stroke-width="2.2"/>
<rect x="109.4" y="1159.4" width="273.7" height="40.6" fill="#23a550"/>
<text x="155" y="1188.3" font-size="22.4" font-weight="bold" fill="#fff">Fold change<tspan x="300.5">&lt;</tspan><tspan x="324.5">1</tspan></text>
<text x="127" y="1223.3" font-size="16.5" font-weight="bold">Lipid</text>
<text x="306.5" y="1223.3" font-size="16.5" font-weight="bold" font-style="italic">P</text>
<text x="127" y="1246.7" font-size="16.9" fill="#111">Hex2Cer(d18:1/16:0)</text>
<text x="306.5" y="1246.7" font-size="16.9" fill="#111">0.0003</text>
<text x="127" y="1266.1" font-size="16.9" fill="#111">Hex1Cer(d18:1/16:0)</text>
<text x="306.5" y="1266.1" font-size="16.9" fill="#111">0.0012</text>
<text x="127" y="1285.6" font-size="16.9" fill="#111">Hex1Cer(d18:1/24:1)</text>
<text x="306.5" y="1285.6" font-size="16.9" fill="#111">0.0032</text>
<text x="127" y="1305.0" font-size="16.9" fill="#111">SM(d18:1/24:1)</text>
<text x="306.5" y="1305.0" font-size="16.9" fill="#111">0.0113</text>
<text x="127" y="1324.5" font-size="16.9" fill="#111">Hex2Cer(d18:1/24:1)</text>
<text x="306.5" y="1324.5" font-size="16.9" fill="#111">0.0248</text>
<text x="127" y="1343.9" font-size="16.9" fill="#111">SM(d18:1/16:0)</text>
<text x="306.5" y="1343.9" font-size="16.9" fill="#111">0.0256</text>
<text x="127" y="1363.3" font-size="16.9" fill="#111">Hex1Cer(d18:1/20:1)</text>
<text x="306.5" y="1363.3" font-size="16.9" fill="#111">0.0301</text>
<text x="127" y="1382.8" font-size="16.9" fill="#111">Hex1Cer(d18:1/22:0)</text>
<text x="306.5" y="1382.8" font-size="16.9" fill="#111">0.0336</text>
<text x="127" y="1402.2" font-size="16.9" fill="#111">Cer(d18:1/14:0)</text>
<text x="306.5" y="1402.2" font-size="16.9" fill="#111">0.0365</text>
<text x="127" y="1421.7" font-size="16.9" fill="#111">DHCer(d18:0/18:1)</text>
<text x="306.5" y="1421.7" font-size="16.9" fill="#111">0.0385</text>
<text x="127" y="1441.1" font-size="16.9" fill="#111">DHCer(d18:0/20:1)</text>
<text x="306.5" y="1441.1" font-size="16.9" fill="#111">0.0395</text>
<text x="127" y="1460.5" font-size="16.9" fill="#111">Hex2Cer(d18:1/26:0)</text>
<text x="306.5" y="1460.5" font-size="16.9" fill="#111">0.0402</text>
<text x="127" y="1480.0" font-size="16.9" fill="#111">SM(d18:1/20:1)</text>
<text x="306.5" y="1480.0" font-size="16.9" fill="#111">0.0406</text>
<path d="M843.5 1160.5H1105.5V1402.4Q1105.5 1412.9 1095.0 1412.9H854.0Q843.5 1412.9 843.5 1402.4Z" fill="#fff" stroke="#21265a" stroke-width="2.2"/>
<rect x="842.4" y="1159.4" width="264.2" height="40.19999999999991" fill="#21265a"/>
<text x="861.5" y="1187.9" font-size="22.4" font-weight="bold" fill="#fff">1 ≤ Fold change ≤ 2</text>
<text x="861.5" y="1222" font-size="16.5" font-weight="bold">Lipid</text>
<text x="1035" y="1222" font-size="16.5" font-weight="bold" font-style="italic">P</text>
<text x="861.5" y="1244.6" font-size="16.9" fill="#111">Sa1P(d18:0)</text>
<text x="1035" y="1244.6" font-size="16.9" fill="#111">0.0015</text>
<text x="861.5" y="1264.1" font-size="16.9" fill="#111">S1P(d17:1)</text>
<text x="1035" y="1264.1" font-size="16.9" fill="#111">0.0018</text>
<text x="861.5" y="1283.7" font-size="16.9" fill="#111">Sa(d18:1)</text>
<text x="1035" y="1283.7" font-size="16.9" fill="#111">0.0029</text>
<text x="861.5" y="1303.2" font-size="16.9" fill="#111">Hex2Cer(d18:1/20:0)</text>
<text x="1035" y="1303.2" font-size="16.9" fill="#111">0.0116</text>
<text x="861.5" y="1322.8" font-size="16.9" fill="#111">Hex2Cer(d18:1/18:1)</text>
<text x="1035" y="1322.8" font-size="16.9" fill="#111">0.0165</text>
<text x="861.5" y="1342.3" font-size="16.9" fill="#111">So(d17:1)</text>
<text x="1035" y="1342.3" font-size="16.9" fill="#111">0.0214</text>
<text x="861.5" y="1361.8" font-size="16.9" fill="#111">Sph(d17:1)</text>
<text x="1035" y="1361.8" font-size="16.9" fill="#111">0.0288</text>
<text x="861.5" y="1381.4" font-size="16.9" fill="#111">Hex2Cer(d18:1/14:0)</text>
<text x="1035" y="1381.4" font-size="16.9" fill="#111">0.0325</text>
<text x="861.5" y="1400.9" font-size="16.9" fill="#111">SM(d18:1/26:1)</text>
<text x="1035" y="1400.9" font-size="16.9" fill="#111">0.0401</text>
<path d="M846.5 1441.5H1105.2V1711.3Q1105.2 1721.8 1094.7 1721.8H857.0Q846.5 1721.8 846.5 1711.3Z" fill="#fff" stroke="#b21c28" stroke-width="2.2"/>
<rect x="845.4" y="1440.4" width="260.90000000000003" height="44.80000000000005" fill="#b21c28"/>
<text x="893" y="1470.9" font-size="22.4" font-weight="bold" fill="#fff">Fold change ≥ 2</text>
<text x="865" y="1512.9" font-size="16.5" font-weight="bold">Lipid</text>
<text x="1032" y="1512.9" font-size="16.5" font-weight="bold" font-style="italic">P</text>
<text x="865" y="1535.2" font-size="16.9" fill="#111">Cer(d18:1/16:0)</text>
<text x="1032" y="1535.2" font-size="16.9" fill="#111">0.0009</text>
<text x="865" y="1554.8" font-size="16.9" fill="#111">Cer(d18:1/24:1)</text>
<text x="1032" y="1554.8" font-size="16.9" fill="#111">0.0011</text>
<text x="865" y="1574.5" font-size="16.9" fill="#111">Sph(d18:1)</text>
<text x="1032" y="1574.5" font-size="16.9" fill="#111">0.0015</text>
<text x="865" y="1594.1" font-size="16.9" fill="#111">DHCer(d18:0/16:0)</text>
<text x="1032" y="1594.1" font-size="16.9" fill="#111">0.0062</text>
<text x="865" y="1613.8" font-size="16.9" fill="#111">Sa(m17:0)</text>
<text x="1032" y="1613.8" font-size="16.9" fill="#111">0.0114</text>
<text x="865" y="1633.4" font-size="16.9" fill="#111">Sa1P(d17:0)</text>
<text x="1032" y="1633.4" font-size="16.9" fill="#111">0.0216</text>
<text x="865" y="1653.0" font-size="16.9" fill="#111">DHCer(d18:0/24:1)</text>
<text x="1032" y="1653.0" font-size="16.9" fill="#111">0.0258</text>
<text x="865" y="1672.7" font-size="16.9" fill="#111">Sa(d17:0)</text>
<text x="1032" y="1672.7" font-size="16.9" fill="#111">0.0301</text>
<text x="865" y="1692.3" font-size="16.9" fill="#111">S1P(d18:1)</text>
<text x="1032" y="1692.3" font-size="16.9" fill="#111">0.0312</text>
<text x="865" y="1712.0" font-size="16.9" fill="#111">Sa(d18:0)</text>
<text x="1032" y="1712.0" font-size="16.9" fill="#111">0.0426</text>
<text x="424.5" y="1198.3" font-size="24.9" font-weight="bold">160mg HSK31679 <tspan font-style="italic">versus</tspan> Placebo</text>
<rect x="434.8" y="1206.5" width="375.6" height="387.5" fill="none" stroke="#cfcfcf" stroke-width="1.2"/>
<rect x="439.7" y="1216.1" width="365.3" height="373.8" fill="#fdfdfd" stroke="#4a4a4a" stroke-width="1.6"/>
<line x1="435" y1="1298.3" x2="439.7" y2="1298.3" stroke="#4a4a4a" stroke-width="1.2"/>
<text x="431.5" y="1304.5" font-size="17.3" text-anchor="end">3</text>
<line x1="435" y1="1390" x2="439.7" y2="1390" stroke="#4a4a4a" stroke-width="1.2"/>
<text x="431.5" y="1396.2" font-size="17.3" text-anchor="end">2</text>
<line x1="435" y1="1481.7" x2="439.7" y2="1481.7" stroke="#4a4a4a" stroke-width="1.2"/>
<text x="431.5" y="1487.9" font-size="17.3" text-anchor="end">1</text>
<line x1="435" y1="1573.5" x2="439.7" y2="1573.5" stroke="#4a4a4a" stroke-width="1.2"/>
<text x="431.5" y="1579.7" font-size="17.3" text-anchor="end">0</text>
<line x1="463.6" y1="1590" x2="463.6" y2="1594.5" stroke="#4a4a4a" stroke-width="1.2"/>
<text x="463.6" y="1614.5" font-size="17.3" text-anchor="middle">-10</text>
<line x1="523.5" y1="1590" x2="523.5" y2="1594.5" stroke="#4a4a4a" stroke-width="1.2"/>
<text x="523.5" y="1614.5" font-size="17.3" text-anchor="middle">0</text>
<line x1="583.4" y1="1590" x2="583.4" y2="1594.5" stroke="#4a4a4a" stroke-width="1.2"/>
<text x="583.4" y="1614.5" font-size="17.3" text-anchor="middle">10</text>
<line x1="643.3" y1="1590" x2="643.3" y2="1594.5" stroke="#4a4a4a" stroke-width="1.2"/>
<text x="643.3" y="1614.5" font-size="17.3" text-anchor="middle">20</text>
<line x1="703.2" y1="1590" x2="703.2" y2="1594.5" stroke="#4a4a4a" stroke-width="1.2"/>
<text x="703.2" y="1614.5" font-size="17.3" text-anchor="middle">30</text>
<line x1="763.1" y1="1590" x2="763.1" y2="1594.5" stroke="#4a4a4a" stroke-width="1.2"/>
<text x="763.1" y="1614.5" font-size="17.3" text-anchor="middle">40</text>
<text x="631.4" y="1640.6" font-size="17.3" text-anchor="middle">Log<tspan font-size="11.5" dy="5">2</tspan><tspan dy="-5">(Fold Change)</tspan></text>
<text transform="translate(409.5,1432.5) rotate(-90)" font-size="17.3" text-anchor="middle">-Log<tspan font-size="11.5" dy="5">10</tspan><tspan dy="-5">(P value)</tspan></text>
<line x1="522.4" y1="1216.5" x2="522.4" y2="1589.5" stroke="#444" stroke-width="1" stroke-dasharray="3,3"/>
<line x1="440" y1="1454.3" x2="805" y2="1454.3" stroke="#444" stroke-width="1" stroke-dasharray="3.5,3"/>
<path d="M523.3 1454.3L538.8 1454.3L542 1456.5L547.1 1462.6L548.3 1468.6L543.6 1475.7L541.2 1485.2L545.6 1490.4L540.6 1499.5L537.2 1511.4L535.2 1523.3L534 1535.2L530.5 1544.8L528.1 1559L523.3 1574.5L522.1 1574.5L516.4 1563L505.1 1551.5L503.3 1545.4L507 1536.5L510.4 1524L512.6 1511.4L514 1501.9L515.2 1490L513.8 1478.1L513.6 1462.2L517.4 1457.9Z" fill="#999"/>
<g fill="#999"><circle cx="504.9" cy="1466" r="2.4"/><circle cx="575.7" cy="1472.7" r="2.4"/><circle cx="603.1" cy="1473.6" r="2.4"/><circle cx="568.6" cy="1485.2" r="2.4"/><circle cx="563.8" cy="1492.4" r="2.4"/><circle cx="596" cy="1493.6" r="2.4"/><circle cx="511.4" cy="1493.6" r="2.4"/><circle cx="501.9" cy="1503.9" r="2.4"/><circle cx="559" cy="1460.2" r="2.4"/><circle cx="557.9" cy="1478.1" r="2.4"/><circle cx="555.5" cy="1481.7" r="2.4"/><circle cx="548.3" cy="1482.9" r="2.4"/><circle cx="553.1" cy="1488.8" r="2.4"/><circle cx="454.3" cy="1546" r="2.4"/><circle cx="464.4" cy="1546" r="2.4"/><circle cx="471.5" cy="1546" r="2.4"/><circle cx="488.8" cy="1546.9" r="2.4"/><circle cx="491" cy="1546.9" r="2.4"/><circle cx="493.5" cy="1546.9" r="2.4"/><circle cx="496" cy="1546.9" r="2.4"/><circle cx="550" cy="1497" r="2.4"/><circle cx="547" cy="1508" r="2.4"/><circle cx="545" cy="1515" r="2.4"/><circle cx="543" cy="1522" r="2.4"/><circle cx="506" cy="1539" r="2.4"/><circle cx="508" cy="1530" r="2.4"/><circle cx="714" cy="1457" r="2.4"/><circle cx="729" cy="1455" r="2.4"/><circle cx="738.7" cy="1455.7" r="2.4"/><circle cx="742.8" cy="1457" r="2.4"/><circle cx="777" cy="1455.7" r="2.4"/><circle cx="778.4" cy="1456.3" r="2.4"/><circle cx="753" cy="1464.5" r="2.4"/><circle cx="710.8" cy="1473.5" r="2.4"/><circle cx="740" cy="1468.9" r="2.4"/><circle cx="746" cy="1468.9" r="2.4"/><circle cx="744.2" cy="1476.3" r="2.4"/><circle cx="695.7" cy="1488.6" r="2.4"/><circle cx="719.5" cy="1487.2" r="2.4"/><circle cx="721.7" cy="1487.2" r="2.4"/><circle cx="740.9" cy="1487.8" r="2.4"/><circle cx="603.2" cy="1473" r="2.4"/><circle cx="596.3" cy="1494" r="2.4"/><circle cx="582.9" cy="1495" r="1.3"/><circle cx="588.2" cy="1504" r="1.3"/><circle cx="576.1" cy="1508.1" r="1.3"/><circle cx="565.6" cy="1509" r="1.3"/><circle cx="563.8" cy="1501" r="1.3"/><circle cx="557.3" cy="1505.5" r="1.3"/><circle cx="547.1" cy="1504.9" r="1.3"/><circle cx="549" cy="1508.5" r="1.3"/><circle cx="553.1" cy="1509" r="1.3"/><circle cx="554.3" cy="1511.4" r="1.3"/><circle cx="556.7" cy="1513.2" r="1.3"/><circle cx="549" cy="1513.2" r="1.3"/><circle cx="554.3" cy="1519.2" r="1.3"/><circle cx="569.2" cy="1525.1" r="1.3"/><circle cx="593.6" cy="1527.5" r="1.3"/><circle cx="598.3" cy="1526.9" r="1.3"/><circle cx="572.7" cy="1531.1" r="1.3"/><circle cx="581.1" cy="1531.7" r="1.3"/><circle cx="588.2" cy="1531.7" r="1.3"/><circle cx="563.2" cy="1531.7" r="1.3"/><circle cx="557.9" cy="1531.1" r="1.3"/><circle cx="551.9" cy="1531.1" r="1.3"/><circle cx="544.8" cy="1531.1" r="1.3"/><circle cx="560.8" cy="1523.3" r="1.3"/><circle cx="559" cy="1525.7" r="1.3"/><circle cx="554.9" cy="1526.3" r="1.3"/><circle cx="551.3" cy="1528.1" r="1.3"/><circle cx="547.1" cy="1524.5" r="1.3"/><circle cx="544.8" cy="1522.1" r="1.3"/><circle cx="543.6" cy="1518.6" r="1.3"/><circle cx="546" cy="1518.6" r="1.3"/><circle cx="541.2" cy="1511.4" r="1.3"/><circle cx="542.4" cy="1510.2" r="1.3"/><circle cx="543.6" cy="1512.6" r="1.3"/><circle cx="541.2" cy="1537.6" r="1.3"/><circle cx="537.6" cy="1540" r="1.3"/><circle cx="534" cy="1543.6" r="1.3"/><circle cx="531.1" cy="1549.5" r="1.3"/><circle cx="733.2" cy="1494" r="1.3"/><circle cx="723.6" cy="1494.6" r="1.3"/><circle cx="762.8" cy="1499" r="1.3"/><circle cx="699" cy="1503.6" r="1.3"/><circle cx="713.5" cy="1502.8" r="1.3"/><circle cx="724.2" cy="1501.7" r="1.3"/><circle cx="694.9" cy="1510.5" r="1.3"/><circle cx="705.8" cy="1511.3" r="1.3"/><circle cx="716.3" cy="1510.5" r="1.3"/><circle cx="700.4" cy="1516.5" r="1.3"/><circle cx="714" cy="1518.2" r="1.3"/><circle cx="725.6" cy="1516.5" r="1.3"/><circle cx="738.2" cy="1516.5" r="1.3"/><circle cx="684" cy="1517.3" r="1.3"/><circle cx="678.5" cy="1524.2" r="1.3"/><circle cx="714" cy="1521.4" r="1.3"/><circle cx="714" cy="1525.5" r="1.3"/><circle cx="747.5" cy="1528.3" r="1.3"/><circle cx="697.6" cy="1531.8" r="1.3"/><circle cx="702.6" cy="1531.8" r="1.3"/><circle cx="714.6" cy="1531.8" r="1.3"/><circle cx="719.5" cy="1531.8" r="1.3"/><circle cx="733.2" cy="1531.8" r="1.3"/><circle cx="736" cy="1531.8" r="1.3"/><circle cx="747.5" cy="1531" r="1.3"/><circle cx="647" cy="1531.8" r="1.3"/><circle cx="660.7" cy="1531.8" r="1.3"/><circle cx="582.6" cy="1494.6" r="1.3"/><circle cx="589" cy="1503.6" r="1.3"/><circle cx="597.7" cy="1526.9" r="1.3"/><circle cx="593.6" cy="1526.9" r="1.3"/></g>
<rect x="477.2" y="1221.6" width="41.9" height="216.9" rx="3" fill="none" stroke="#2eaa56" stroke-width="1.2" stroke-dasharray="6,2,1.5,2"/>
<rect x="539.4" y="1313.3" width="83.5" height="106.8" rx="5" fill="none" stroke="#4a5690" stroke-width="1.2" stroke-dasharray="6,2,1.5,2"/>
<rect x="689.4" y="1310" width="99.1" height="128.5" rx="5" fill="none" stroke="#c0393f" stroke-width="1.2" stroke-dasharray="6,2,1.5,2"/>
<g fill="#4169e1"><circle cx="511.4" cy="1228.5" r="2.5"/><circle cx="510.1" cy="1238.9" r="2.5"/><circle cx="512.5" cy="1287.6" r="2.5"/><circle cx="505.4" cy="1309" r="2.5"/><circle cx="507.1" cy="1325.4" r="2.5"/><circle cx="503.5" cy="1342.1" r="2.5"/><circle cx="510.1" cy="1352.2" r="2.5"/><circle cx="506.2" cy="1368.9" r="2.5"/><circle cx="513.4" cy="1378" r="2.5"/><circle cx="497.5" cy="1381.8" r="2.5"/><circle cx="499.4" cy="1390.3" r="2.5"/><circle cx="506.5" cy="1399" r="2.5"/><circle cx="511.7" cy="1416" r="2.5"/></g>
<g fill="#ee1111"><circle cx="580.7" cy="1323.7" r="2.5"/><circle cx="591.4" cy="1324.6" r="2.5"/><circle cx="577.2" cy="1355.5" r="2.5"/><circle cx="549.8" cy="1368.4" r="2.5"/><circle cx="565.7" cy="1368.4" r="2.5"/><circle cx="584" cy="1392.7" r="2.5"/><circle cx="600.7" cy="1392.7" r="2.5"/><circle cx="589.5" cy="1404" r="2.5"/><circle cx="569.2" cy="1412.5" r="2.5"/><circle cx="742.8" cy="1317.7" r="2.5"/><circle cx="757" cy="1351.7" r="2.5"/><circle cx="769.6" cy="1355.5" r="2.5"/><circle cx="745.8" cy="1368.1" r="2.5"/><circle cx="729.7" cy="1388.6" r="2.5"/><circle cx="742" cy="1390.3" r="2.5"/><circle cx="750.5" cy="1386.7" r="2.5"/><circle cx="753.8" cy="1395" r="2.5"/><circle cx="706.7" cy="1414.7" r="2.5"/><circle cx="737.1" cy="1425.6" r="2.5"/></g>
<line x1="382" y1="1350.7" x2="477.2" y2="1355" stroke="#23a550" stroke-width="2"/>
<line x1="577.2" y1="1312" x2="843.5" y2="1273.2" stroke="#21265a" stroke-width="2"/>
<line x1="738.7" y1="1438.5" x2="846.8" y2="1612" stroke="#b21c28" stroke-width="2"/>
<text x="1150" y="1170.5" font-size="52.5" font-weight="bold">C</text>
<g shape-rendering="crispEdges">
<rect x="1249.20" y="1178.30" width="21.29" height="40.90" fill="rgb(235, 135, 75)"/>
<rect x="1269.89" y="1178.30" width="21.29" height="40.90" fill="rgb(235, 130, 75)"/>
<rect x="1290.58" y="1178.30" width="21.29" height="40.90" fill="rgb(232, 125, 75)"/>
<rect x="1311.27" y="1178.30" width="21.29" height="40.90" fill="rgb(232, 125, 75)"/>
<rect x="1331.96" y="1178.30" width="21.29" height="40.90" fill="rgb(248, 190, 50)"/>
<rect x="1352.65" y="1178.30" width="21.29" height="40.90" fill="rgb(245, 160, 55)"/>
<rect x="1373.34" y="1178.30" width="21.29" height="40.90" fill="rgb(240, 145, 65)"/>
<rect x="1394.03" y="1178.30" width="21.29" height="40.90" fill="rgb(240, 140, 70)"/>
<rect x="1414.72" y="1178.30" width="21.29" height="40.90" fill="rgb(245, 205, 45)"/>
<rect x="1435.41" y="1178.30" width="21.29" height="40.90" fill="rgb(245, 205, 45)"/>
<rect x="1456.10" y="1178.30" width="21.29" height="40.90" fill="rgb(240, 145, 70)"/>
<rect x="1476.79" y="1178.30" width="21.29" height="40.90" fill="rgb(240, 140, 68)"/>
<rect x="1497.48" y="1178.30" width="21.29" height="40.90" fill="rgb(245, 160, 50)"/>
<rect x="1518.17" y="1178.30" width="21.29" height="40.90" fill="rgb(238, 135, 70)"/>
<rect x="1538.86" y="1178.30" width="21.29" height="40.90" fill="rgb(238, 135, 70)"/>
<rect x="1559.55" y="1178.30" width="21.29" height="40.90" fill="rgb(245, 165, 50)"/>
<rect x="1580.24" y="1178.30" width="21.29" height="40.90" fill="rgb(240, 145, 65)"/>
<rect x="1600.93" y="1178.30" width="21.29" height="40.90" fill="rgb(233, 120, 80)"/>
<rect x="1621.62" y="1178.30" width="21.29" height="40.90" fill="rgb(233, 120, 80)"/>
<rect x="1642.31" y="1178.30" width="21.29" height="40.90" fill="rgb(228, 105, 90)"/>
<rect x="1663.00" y="1178.30" width="21.29" height="40.90" fill="rgb(232, 115, 82)"/>
<rect x="1683.69" y="1178.30" width="21.29" height="40.90" fill="rgb(232, 118, 80)"/>
<rect x="1704.38" y="1178.30" width="21.29" height="40.90" fill="rgb(230, 108, 90)"/>
<rect x="1725.07" y="1178.30" width="21.29" height="40.90" fill="rgb(230, 108, 90)"/>
<rect x="1745.76" y="1178.30" width="21.29" height="40.90" fill="rgb(230, 108, 90)"/>
<rect x="1766.45" y="1178.30" width="21.29" height="40.90" fill="rgb(230, 108, 90)"/>
<rect x="1787.14" y="1178.30" width="21.29" height="40.90" fill="rgb(232, 115, 82)"/>
<rect x="1807.83" y="1178.30" width="21.29" height="40.90" fill="rgb(245, 215, 40)"/>
<rect x="1828.52" y="1178.30" width="21.29" height="40.90" fill="rgb(15, 170, 190)"/>
<rect x="1849.21" y="1178.30" width="21.29" height="40.90" fill="rgb(30, 145, 185)"/>
<rect x="1869.90" y="1178.30" width="21.29" height="40.90" fill="rgb(20, 165, 190)"/>
<rect x="1890.59" y="1178.30" width="21.29" height="40.90" fill="rgb(60, 180, 180)"/>
<rect x="1911.28" y="1178.30" width="21.29" height="40.90" fill="rgb(45, 90, 160)"/>
<rect x="1931.97" y="1178.30" width="21.29" height="40.90" fill="rgb(60, 180, 180)"/>
<rect x="1952.66" y="1178.30" width="21.29" height="40.90" fill="rgb(40, 110, 165)"/>
<rect x="1973.35" y="1178.30" width="21.29" height="40.90" fill="rgb(185, 220, 100)"/>
<rect x="1994.04" y="1178.30" width="21.29" height="40.90" fill="rgb(25, 155, 190)"/>
<rect x="2014.73" y="1178.30" width="21.29" height="40.90" fill="rgb(75, 183, 178)"/>
<rect x="2035.42" y="1178.30" width="21.29" height="40.90" fill="rgb(25, 155, 190)"/>
<rect x="2056.11" y="1178.30" width="21.29" height="40.90" fill="rgb(35, 140, 180)"/>
<rect x="2076.80" y="1178.30" width="21.29" height="40.90" fill="rgb(45, 115, 165)"/>
<rect x="2097.49" y="1178.30" width="21.29" height="40.90" fill="rgb(140, 200, 140)"/>
<rect x="2118.18" y="1178.30" width="21.29" height="40.90" fill="rgb(60, 180, 180)"/>
<rect x="2138.87" y="1178.30" width="21.29" height="40.90" fill="rgb(130, 200, 145)"/>
<rect x="1249.20" y="1218.60" width="21.29" height="40.90" fill="rgb(228, 100, 90)"/>
<rect x="1269.89" y="1218.60" width="21.29" height="40.90" fill="rgb(228, 100, 90)"/>
<rect x="1290.58" y="1218.60" width="21.29" height="40.90" fill="rgb(228, 100, 90)"/>
<rect x="1311.27" y="1218.60" width="21.29" height="40.90" fill="rgb(230, 110, 85)"/>
<rect x="1331.96" y="1218.60" width="21.29" height="40.90" fill="rgb(232, 115, 80)"/>
<rect x="1352.65" y="1218.60" width="21.29" height="40.90" fill="rgb(232, 115, 80)"/>
<rect x="1373.34" y="1218.60" width="21.29" height="40.90" fill="rgb(232, 115, 80)"/>
<rect x="1394.03" y="1218.60" width="21.29" height="40.90" fill="rgb(235, 130, 75)"/>
<rect x="1414.72" y="1218.60" width="21.29" height="40.90" fill="rgb(240, 140, 65)"/>
<rect x="1435.41" y="1218.60" width="21.29" height="40.90" fill="rgb(240, 145, 65)"/>
<rect x="1456.10" y="1218.60" width="21.29" height="40.90" fill="rgb(232, 115, 80)"/>
<rect x="1476.79" y="1218.60" width="21.29" height="40.90" fill="rgb(232, 115, 82)"/>
<rect x="1497.48" y="1218.60" width="21.29" height="40.90" fill="rgb(238, 135, 70)"/>
<rect x="1518.17" y="1218.60" width="21.29" height="40.90" fill="rgb(242, 150, 60)"/>
<rect x="1538.86" y="1218.60" width="21.29" height="40.90" fill="rgb(240, 145, 65)"/>
<rect x="1559.55" y="1218.60" width="21.29" height="40.90" fill="rgb(240, 140, 68)"/>
<rect x="1580.24" y="1218.60" width="21.29" height="40.90" fill="rgb(235, 125, 75)"/>
<rect x="1600.93" y="1218.60" width="21.29" height="40.90" fill="rgb(228, 100, 92)"/>
<rect x="1621.62" y="1218.60" width="21.29" height="40.90" fill="rgb(228, 100, 92)"/>
<rect x="1642.31" y="1218.60" width="21.29" height="40.90" fill="rgb(230, 108, 88)"/>
<rect x="1663.00" y="1218.60" width="21.29" height="40.90" fill="rgb(235, 125, 75)"/>
<rect x="1683.69" y="1218.60" width="21.29" height="40.90" fill="rgb(232, 115, 82)"/>
<rect x="1704.38" y="1218.60" width="21.29" height="40.90" fill="rgb(236, 128, 72)"/>
<rect x="1725.07" y="1218.60" width="21.29" height="40.90" fill="rgb(236, 128, 72)"/>
<rect x="1745.76" y="1218.60" width="21.29" height="40.90" fill="rgb(245, 165, 50)"/>
<rect x="1766.45" y="1218.60" width="21.29" height="40.90" fill="rgb(240, 140, 66)"/>
<rect x="1787.14" y="1218.60" width="21.29" height="40.90" fill="rgb(240, 140, 66)"/>
<rect x="1807.83" y="1218.60" width="21.29" height="40.90" fill="rgb(245, 180, 45)"/>
<rect x="1828.52" y="1218.60" width="21.29" height="40.90" fill="rgb(35, 145, 180)"/>
<rect x="1849.21" y="1218.60" width="21.29" height="40.90" fill="rgb(20, 170, 190)"/>
<rect x="1869.90" y="1218.60" width="21.29" height="40.90" fill="rgb(40, 110, 165)"/>
<rect x="1890.59" y="1218.60" width="21.29" height="40.90" fill="rgb(140, 200, 140)"/>
<rect x="1911.28" y="1218.60" width="21.29" height="40.90" fill="rgb(40, 45, 145)"/>
<rect x="1931.97" y="1218.60" width="21.29" height="40.90" fill="rgb(35, 130, 175)"/>
<rect x="1952.66" y="1218.60" width="21.29" height="40.90" fill="rgb(40, 120, 170)"/>
<rect x="1973.35" y="1218.60" width="21.29" height="40.90" fill="rgb(45, 80, 155)"/>
<rect x="1994.04" y="1218.60" width="21.29" height="40.90" fill="rgb(15, 165, 190)"/>
<rect x="2014.73" y="1218.60" width="21.29" height="40.90" fill="rgb(90, 188, 170)"/>
<rect x="2035.42" y="1218.60" width="21.29" height="40.90" fill="rgb(45, 85, 160)"/>
<rect x="2056.11" y="1218.60" width="21.29" height="40.90" fill="rgb(35, 140, 180)"/>
<rect x="2076.80" y="1218.60" width="21.29" height="40.90" fill="rgb(30, 145, 182)"/>
<rect x="2097.49" y="1218.60" width="21.29" height="40.90" fill="rgb(15, 5, 135)"/>
<rect x="2118.18" y="1218.60" width="21.29" height="40.90" fill="rgb(140, 200, 140)"/>
<rect x="2138.87" y="1218.60" width="21.29" height="40.90" fill="rgb(90, 188, 170)"/>
<rect x="1249.20" y="1258.90" width="21.29" height="40.90" fill="rgb(233, 125, 80)"/>
<rect x="1269.89" y="1258.90" width="21.29" height="40.90" fill="rgb(233, 125, 80)"/>
<rect x="1290.58" y="1258.90" width="21.29" height="40.90" fill="rgb(233, 125, 80)"/>
<rect x="1311.27" y="1258.90" width="21.29" height="40.90" fill="rgb(235, 130, 75)"/>
<rect x="1331.96" y="1258.90" width="21.29" height="40.90" fill="rgb(236, 135, 75)"/>
<rect x="1352.65" y="1258.90" width="21.29" height="40.90" fill="rgb(238, 135, 75)"/>
<rect x="1373.34" y="1258.90" width="21.29" height="40.90" fill="rgb(235, 130, 75)"/>
<rect x="1394.03" y="1258.90" width="21.29" height="40.90" fill="rgb(238, 135, 72)"/>
<rect x="1414.72" y="1258.90" width="21.29" height="40.90" fill="rgb(238, 135, 70)"/>
<rect x="1435.41" y="1258.90" width="21.29" height="40.90" fill="rgb(240, 140, 65)"/>
<rect x="1456.10" y="1258.90" width="21.29" height="40.90" fill="rgb(240, 145, 62)"/>
<rect x="1476.79" y="1258.90" width="21.29" height="40.90" fill="rgb(240, 145, 65)"/>
<rect x="1497.48" y="1258.90" width="21.29" height="40.90" fill="rgb(245, 160, 55)"/>
<rect x="1518.17" y="1258.90" width="21.29" height="40.90" fill="rgb(242, 150, 60)"/>
<rect x="1538.86" y="1258.90" width="21.29" height="40.90" fill="rgb(240, 145, 65)"/>
<rect x="1559.55" y="1258.90" width="21.29" height="40.90" fill="rgb(240, 145, 65)"/>
<rect x="1580.24" y="1258.90" width="21.29" height="40.90" fill="rgb(240, 145, 62)"/>
<rect x="1600.93" y="1258.90" width="21.29" height="40.90" fill="rgb(236, 130, 72)"/>
<rect x="1621.62" y="1258.90" width="21.29" height="40.90" fill="rgb(236, 130, 72)"/>
<rect x="1642.31" y="1258.90" width="21.29" height="40.90" fill="rgb(240, 145, 65)"/>
<rect x="1663.00" y="1258.90" width="21.29" height="40.90" fill="rgb(240, 145, 65)"/>
<rect x="1683.69" y="1258.90" width="21.29" height="40.90" fill="rgb(240, 145, 65)"/>
<rect x="1704.38" y="1258.90" width="21.29" height="40.90" fill="rgb(240, 150, 60)"/>
<rect x="1725.07" y="1258.90" width="21.29" height="40.90" fill="rgb(240, 150, 60)"/>
<rect x="1745.76" y="1258.90" width="21.29" height="40.90" fill="rgb(245, 165, 50)"/>
<rect x="1766.45" y="1258.90" width="21.29" height="40.90" fill="rgb(245, 165, 50)"/>
<rect x="1787.14" y="1258.90" width="21.29" height="40.90" fill="rgb(245, 175, 48)"/>
<rect x="1807.83" y="1258.90" width="21.29" height="40.90" fill="rgb(245, 170, 48)"/>
<rect x="1828.52" y="1258.90" width="21.29" height="40.90" fill="rgb(40, 130, 175)"/>
<rect x="1849.21" y="1258.90" width="21.29" height="40.90" fill="rgb(40, 130, 175)"/>
<rect x="1869.90" y="1258.90" width="21.29" height="40.90" fill="rgb(10, 170, 190)"/>
<rect x="1890.59" y="1258.90" width="21.29" height="40.90" fill="rgb(10, 170, 190)"/>
<rect x="1911.28" y="1258.90" width="21.29" height="40.90" fill="rgb(40, 50, 145)"/>
<rect x="1931.97" y="1258.90" width="21.29" height="40.90" fill="rgb(100, 190, 165)"/>
<rect x="1952.66" y="1258.90" width="21.29" height="40.90" fill="rgb(45, 110, 165)"/>
<rect x="1973.35" y="1258.90" width="21.29" height="40.90" fill="rgb(110, 190, 160)"/>
<rect x="1994.04" y="1258.90" width="21.29" height="40.90" fill="rgb(25, 155, 190)"/>
<rect x="2014.73" y="1258.90" width="21.29" height="40.90" fill="rgb(90, 188, 170)"/>
<rect x="2035.42" y="1258.90" width="21.29" height="40.90" fill="rgb(90, 188, 170)"/>
<rect x="2056.11" y="1258.90" width="21.29" height="40.90" fill="rgb(25, 155, 190)"/>
<rect x="2076.80" y="1258.90" width="21.29" height="40.90" fill="rgb(45, 110, 165)"/>
<rect x="2097.49" y="1258.90" width="21.29" height="40.90" fill="rgb(110, 190, 160)"/>
<rect x="2118.18" y="1258.90" width="21.29" height="40.90" fill="rgb(35, 175, 190)"/>
<rect x="2138.87" y="1258.90" width="21.29" height="40.90" fill="rgb(120, 195, 155)"/>
<rect x="1249.20" y="1299.20" width="21.29" height="40.90" fill="rgb(238, 135, 70)"/>
<rect x="1269.89" y="1299.20" width="21.29" height="40.90" fill="rgb(238, 135, 70)"/>
<rect x="1290.58" y="1299.20" width="21.29" height="40.90" fill="rgb(238, 135, 70)"/>
<rect x="1311.27" y="1299.20" width="21.29" height="40.90" fill="rgb(238, 135, 70)"/>
<rect x="1331.96" y="1299.20" width="21.29" height="40.90" fill="rgb(230, 110, 85)"/>
<rect x="1352.65" y="1299.20" width="21.29" height="40.90" fill="rgb(230, 110, 85)"/>
<rect x="1373.34" y="1299.20" width="21.29" height="40.90" fill="rgb(230, 110, 85)"/>
<rect x="1394.03" y="1299.20" width="21.29" height="40.90" fill="rgb(230, 110, 85)"/>
<rect x="1414.72" y="1299.20" width="21.29" height="40.90" fill="rgb(240, 145, 65)"/>
<rect x="1435.41" y="1299.20" width="21.29" height="40.90" fill="rgb(240, 145, 65)"/>
<rect x="1456.10" y="1299.20" width="21.29" height="40.90" fill="rgb(240, 150, 60)"/>
<rect x="1476.79" y="1299.20" width="21.29" height="40.90" fill="rgb(230, 110, 85)"/>
<rect x="1497.48" y="1299.20" width="21.29" height="40.90" fill="rgb(230, 110, 85)"/>
<rect x="1518.17" y="1299.20" width="21.29" height="40.90" fill="rgb(232, 115, 82)"/>
<rect x="1538.86" y="1299.20" width="21.29" height="40.90" fill="rgb(232, 115, 82)"/>
<rect x="1559.55" y="1299.20" width="21.29" height="40.90" fill="rgb(247, 180, 45)"/>
<rect x="1580.24" y="1299.20" width="21.29" height="40.90" fill="rgb(247, 180, 45)"/>
<rect x="1600.93" y="1299.20" width="21.29" height="40.90" fill="rgb(235, 125, 75)"/>
<rect x="1621.62" y="1299.20" width="21.29" height="40.90" fill="rgb(235, 125, 75)"/>
<rect x="1642.31" y="1299.20" width="21.29" height="40.90" fill="rgb(235, 125, 75)"/>
<rect x="1663.00" y="1299.20" width="21.29" height="40.90" fill="rgb(236, 128, 73)"/>
<rect x="1683.69" y="1299.20" width="21.29" height="40.90" fill="rgb(240, 140, 68)"/>
<rect x="1704.38" y="1299.20" width="21.29" height="40.90" fill="rgb(240, 145, 65)"/>
<rect x="1725.07" y="1299.20" width="21.29" height="40.90" fill="rgb(240, 145, 65)"/>
<rect x="1745.76" y="1299.20" width="21.29" height="40.90" fill="rgb(245, 160, 52)"/>
<rect x="1766.45" y="1299.20" width="21.29" height="40.90" fill="rgb(240, 145, 65)"/>
<rect x="1787.14" y="1299.20" width="21.29" height="40.90" fill="rgb(240, 145, 65)"/>
<rect x="1807.83" y="1299.20" width="21.29" height="40.90" fill="rgb(210, 230, 75)"/>
<rect x="1828.52" y="1299.20" width="21.29" height="40.90" fill="rgb(25, 155, 190)"/>
<rect x="1849.21" y="1299.20" width="21.29" height="40.90" fill="rgb(140, 200, 140)"/>
<rect x="1869.90" y="1299.20" width="21.29" height="40.90" fill="rgb(25, 155, 190)"/>
<rect x="1890.59" y="1299.20" width="21.29" height="40.90" fill="rgb(10, 170, 190)"/>
<rect x="1911.28" y="1299.20" width="21.29" height="40.90" fill="rgb(15, 5, 135)"/>
<rect x="1931.97" y="1299.20" width="21.29" height="40.90" fill="rgb(40, 45, 145)"/>
<rect x="1952.66" y="1299.20" width="21.29" height="40.90" fill="rgb(45, 110, 165)"/>
<rect x="1973.35" y="1299.20" width="21.29" height="40.90" fill="rgb(200, 225, 85)"/>
<rect x="1994.04" y="1299.20" width="21.29" height="40.90" fill="rgb(225, 235, 60)"/>
<rect x="2014.73" y="1299.20" width="21.29" height="40.90" fill="rgb(60, 180, 180)"/>
<rect x="2035.42" y="1299.20" width="21.29" height="40.90" fill="rgb(110, 190, 160)"/>
<rect x="2056.11" y="1299.20" width="21.29" height="40.90" fill="rgb(35, 140, 180)"/>
<rect x="2076.80" y="1299.20" width="21.29" height="40.90" fill="rgb(40, 45, 145)"/>
<rect x="2097.49" y="1299.20" width="21.29" height="40.90" fill="rgb(110, 190, 160)"/>
<rect x="2118.18" y="1299.20" width="21.29" height="40.90" fill="rgb(15, 170, 190)"/>
<rect x="2138.87" y="1299.20" width="21.29" height="40.90" fill="rgb(20, 165, 190)"/>
<rect x="1249.20" y="1339.50" width="21.29" height="40.90" fill="rgb(245, 155, 55)"/>
<rect x="1269.89" y="1339.50" width="21.29" height="40.90" fill="rgb(245, 155, 55)"/>
<rect x="1290.58" y="1339.50" width="21.29" height="40.90" fill="rgb(245, 155, 55)"/>
<rect x="1311.27" y="1339.50" width="21.29" height="40.90" fill="rgb(245, 155, 55)"/>
<rect x="1331.96" y="1339.50" width="21.29" height="40.90" fill="rgb(232, 115, 80)"/>
<rect x="1352.65" y="1339.50" width="21.29" height="40.90" fill="rgb(232, 115, 80)"/>
<rect x="1373.34" y="1339.50" width="21.29" height="40.90" fill="rgb(232, 115, 80)"/>
<rect x="1394.03" y="1339.50" width="21.29" height="40.90" fill="rgb(232, 115, 80)"/>
<rect x="1414.72" y="1339.50" width="21.29" height="40.90" fill="rgb(230, 110, 85)"/>
<rect x="1435.41" y="1339.50" width="21.29" height="40.90" fill="rgb(230, 110, 85)"/>
<rect x="1456.10" y="1339.50" width="21.29" height="40.90" fill="rgb(245, 160, 50)"/>
<rect x="1476.79" y="1339.50" width="21.29" height="40.90" fill="rgb(240, 145, 65)"/>
<rect x="1497.48" y="1339.50" width="21.29" height="40.90" fill="rgb(240, 145, 65)"/>
<rect x="1518.17" y="1339.50" width="21.29" height="40.90" fill="rgb(242, 150, 60)"/>
<rect x="1538.86" y="1339.50" width="21.29" height="40.90" fill="rgb(242, 150, 60)"/>
<rect x="1559.55" y="1339.50" width="21.29" height="40.90" fill="rgb(242, 155, 58)"/>
<rect x="1580.24" y="1339.50" width="21.29" height="40.90" fill="rgb(247, 200, 45)"/>
<rect x="1600.93" y="1339.50" width="21.29" height="40.90" fill="rgb(246, 170, 48)"/>
<rect x="1621.62" y="1339.50" width="21.29" height="40.90" fill="rgb(246, 170, 48)"/>
<rect x="1642.31" y="1339.50" width="21.29" height="40.90" fill="rgb(247, 185, 45)"/>
<rect x="1663.00" y="1339.50" width="21.29" height="40.90" fill="rgb(247, 185, 45)"/>
<rect x="1683.69" y="1339.50" width="21.29" height="40.90" fill="rgb(247, 200, 45)"/>
<rect x="1704.38" y="1339.50" width="21.29" height="40.90" fill="rgb(247, 205, 45)"/>
<rect x="1725.07" y="1339.50" width="21.29" height="40.90" fill="rgb(247, 205, 45)"/>
<rect x="1745.76" y="1339.50" width="21.29" height="40.90" fill="rgb(240, 235, 35)"/>
<rect x="1766.45" y="1339.50" width="21.29" height="40.90" fill="rgb(243, 225, 38)"/>
<rect x="1787.14" y="1339.50" width="21.29" height="40.90" fill="rgb(243, 225, 38)"/>
<rect x="1807.83" y="1339.50" width="21.29" height="40.90" fill="rgb(245, 215, 40)"/>
<rect x="1828.52" y="1339.50" width="21.29" height="40.90" fill="rgb(45, 110, 165)"/>
<rect x="1849.21" y="1339.50" width="21.29" height="40.90" fill="rgb(10, 170, 190)"/>
<rect x="1869.90" y="1339.50" width="21.29" height="40.90" fill="rgb(20, 165, 190)"/>
<rect x="1890.59" y="1339.50" width="21.29" height="40.90" fill="rgb(45, 110, 165)"/>
<rect x="1911.28" y="1339.50" width="21.29" height="40.90" fill="rgb(45, 110, 165)"/>
<rect x="1931.97" y="1339.50" width="21.29" height="40.90" fill="rgb(35, 145, 180)"/>
<rect x="1952.66" y="1339.50" width="21.29" height="40.90" fill="rgb(110, 190, 160)"/>
<rect x="1973.35" y="1339.50" width="21.29" height="40.90" fill="rgb(150, 205, 130)"/>
<rect x="1994.04" y="1339.50" width="21.29" height="40.90" fill="rgb(140, 200, 140)"/>
<rect x="2014.73" y="1339.50" width="21.29" height="40.90" fill="rgb(60, 180, 180)"/>
<rect x="2035.42" y="1339.50" width="21.29" height="40.90" fill="rgb(90, 188, 170)"/>
<rect x="2056.11" y="1339.50" width="21.29" height="40.90" fill="rgb(150, 205, 130)"/>
<rect x="2076.80" y="1339.50" width="21.29" height="40.90" fill="rgb(45, 115, 165)"/>
<rect x="2097.49" y="1339.50" width="21.29" height="40.90" fill="rgb(150, 205, 130)"/>
<rect x="2118.18" y="1339.50" width="21.29" height="40.90" fill="rgb(160, 210, 125)"/>
<rect x="2138.87" y="1339.50" width="21.29" height="40.90" fill="rgb(180, 220, 110)"/>
<rect x="1249.20" y="1379.80" width="21.29" height="40.90" fill="rgb(247, 200, 45)"/>
<rect x="1269.89" y="1379.80" width="21.29" height="40.90" fill="rgb(247, 200, 45)"/>
<rect x="1290.58" y="1379.80" width="21.29" height="40.90" fill="rgb(247, 200, 45)"/>
<rect x="1311.27" y="1379.80" width="21.29" height="40.90" fill="rgb(247, 200, 45)"/>
<rect x="1331.96" y="1379.80" width="21.29" height="40.90" fill="rgb(245, 210, 40)"/>
<rect x="1352.65" y="1379.80" width="21.29" height="40.90" fill="rgb(245, 210, 40)"/>
<rect x="1373.34" y="1379.80" width="21.29" height="40.90" fill="rgb(245, 210, 40)"/>
<rect x="1394.03" y="1379.80" width="21.29" height="40.90" fill="rgb(245, 210, 40)"/>
<rect x="1414.72" y="1379.80" width="21.29" height="40.90" fill="rgb(235, 240, 50)"/>
<rect x="1435.41" y="1379.80" width="21.29" height="40.90" fill="rgb(215, 235, 80)"/>
<rect x="1456.10" y="1379.80" width="21.29" height="40.90" fill="rgb(240, 245, 30)"/>
<rect x="1476.79" y="1379.80" width="21.29" height="40.90" fill="rgb(245, 215, 40)"/>
<rect x="1497.48" y="1379.80" width="21.29" height="40.90" fill="rgb(245, 210, 40)"/>
<rect x="1518.17" y="1379.80" width="21.29" height="40.90" fill="rgb(240, 235, 35)"/>
<rect x="1538.86" y="1379.80" width="21.29" height="40.90" fill="rgb(240, 235, 35)"/>
<rect x="1559.55" y="1379.80" width="21.29" height="40.90" fill="rgb(245, 215, 40)"/>
<rect x="1580.24" y="1379.80" width="21.29" height="40.90" fill="rgb(245, 215, 40)"/>
<rect x="1600.93" y="1379.80" width="21.29" height="40.90" fill="rgb(247, 200, 45)"/>
<rect x="1621.62" y="1379.80" width="21.29" height="40.90" fill="rgb(247, 200, 45)"/>
<rect x="1642.31" y="1379.80" width="21.29" height="40.90" fill="rgb(247, 200, 45)"/>
<rect x="1663.00" y="1379.80" width="21.29" height="40.90" fill="rgb(247, 200, 45)"/>
<rect x="1683.69" y="1379.80" width="21.29" height="40.90" fill="rgb(247, 200, 45)"/>
<rect x="1704.38" y="1379.80" width="21.29" height="40.90" fill="rgb(247, 205, 45)"/>
<rect x="1725.07" y="1379.80" width="21.29" height="40.90" fill="rgb(247, 205, 45)"/>
<rect x="1745.76" y="1379.80" width="21.29" height="40.90" fill="rgb(240, 232, 35)"/>
<rect x="1766.45" y="1379.80" width="21.29" height="40.90" fill="rgb(245, 215, 40)"/>
<rect x="1787.14" y="1379.80" width="21.29" height="40.90" fill="rgb(245, 215, 40)"/>
<rect x="1807.83" y="1379.80" width="21.29" height="40.90" fill="rgb(180, 220, 110)"/>
<rect x="1828.52" y="1379.80" width="21.29" height="40.90" fill="rgb(35, 140, 180)"/>
<rect x="1849.21" y="1379.80" width="21.29" height="40.90" fill="rgb(140, 200, 140)"/>
<rect x="1869.90" y="1379.80" width="21.29" height="40.90" fill="rgb(25, 160, 190)"/>
<rect x="1890.59" y="1379.80" width="21.29" height="40.90" fill="rgb(35, 145, 180)"/>
<rect x="1911.28" y="1379.80" width="21.29" height="40.90" fill="rgb(20, 170, 190)"/>
<rect x="1931.97" y="1379.80" width="21.29" height="40.90" fill="rgb(45, 100, 165)"/>
<rect x="1952.66" y="1379.80" width="21.29" height="40.90" fill="rgb(35, 140, 180)"/>
<rect x="1973.35" y="1379.80" width="21.29" height="40.90" fill="rgb(130, 195, 150)"/>
<rect x="1994.04" y="1379.80" width="21.29" height="40.90" fill="rgb(90, 188, 170)"/>
<rect x="2014.73" y="1379.80" width="21.29" height="40.90" fill="rgb(200, 225, 85)"/>
<rect x="2035.42" y="1379.80" width="21.29" height="40.90" fill="rgb(150, 205, 130)"/>
<rect x="2056.11" y="1379.80" width="21.29" height="40.90" fill="rgb(90, 188, 170)"/>
<rect x="2076.80" y="1379.80" width="21.29" height="40.90" fill="rgb(125, 195, 150)"/>
<rect x="2097.49" y="1379.80" width="21.29" height="40.90" fill="rgb(10, 175, 190)"/>
<rect x="2118.18" y="1379.80" width="21.29" height="40.90" fill="rgb(232, 242, 45)"/>
<rect x="2138.87" y="1379.80" width="21.29" height="40.90" fill="rgb(232, 242, 45)"/>
<rect x="1249.20" y="1420.10" width="21.29" height="40.90" fill="rgb(105, 190, 160)"/>
<rect x="1269.89" y="1420.10" width="21.29" height="40.90" fill="rgb(105, 190, 160)"/>
<rect x="1290.58" y="1420.10" width="21.29" height="40.90" fill="rgb(105, 190, 160)"/>
<rect x="1311.27" y="1420.10" width="21.29" height="40.90" fill="rgb(105, 190, 160)"/>
<rect x="1331.96" y="1420.10" width="21.29" height="40.90" fill="rgb(105, 190, 160)"/>
<rect x="1352.65" y="1420.10" width="21.29" height="40.90" fill="rgb(105, 190, 160)"/>
<rect x="1373.34" y="1420.10" width="21.29" height="40.90" fill="rgb(105, 190, 160)"/>
<rect x="1394.03" y="1420.10" width="21.29" height="40.90" fill="rgb(85, 185, 170)"/>
<rect x="1414.72" y="1420.10" width="21.29" height="40.90" fill="rgb(150, 205, 130)"/>
<rect x="1435.41" y="1420.10" width="21.29" height="40.90" fill="rgb(150, 205, 130)"/>
<rect x="1456.10" y="1420.10" width="21.29" height="40.90" fill="rgb(150, 205, 130)"/>
<rect x="1476.79" y="1420.10" width="21.29" height="40.90" fill="rgb(185, 220, 95)"/>
<rect x="1497.48" y="1420.10" width="21.29" height="40.90" fill="rgb(100, 190, 165)"/>
<rect x="1518.17" y="1420.10" width="21.29" height="40.90" fill="rgb(100, 190, 165)"/>
<rect x="1538.86" y="1420.10" width="21.29" height="40.90" fill="rgb(100, 190, 165)"/>
<rect x="1559.55" y="1420.10" width="21.29" height="40.90" fill="rgb(190, 222, 100)"/>
<rect x="1580.24" y="1420.10" width="21.29" height="40.90" fill="rgb(190, 222, 100)"/>
<rect x="1600.93" y="1420.10" width="21.29" height="40.90" fill="rgb(130, 195, 150)"/>
<rect x="1621.62" y="1420.10" width="21.29" height="40.90" fill="rgb(130, 195, 150)"/>
<rect x="1642.31" y="1420.10" width="21.29" height="40.90" fill="rgb(130, 195, 150)"/>
<rect x="1663.00" y="1420.10" width="21.29" height="40.90" fill="rgb(110, 190, 160)"/>
<rect x="1683.69" y="1420.10" width="21.29" height="40.90" fill="rgb(120, 195, 155)"/>
<rect x="1704.38" y="1420.10" width="21.29" height="40.90" fill="rgb(110, 190, 160)"/>
<rect x="1725.07" y="1420.10" width="21.29" height="40.90" fill="rgb(130, 195, 150)"/>
<rect x="1745.76" y="1420.10" width="21.29" height="40.90" fill="rgb(110, 190, 160)"/>
<rect x="1766.45" y="1420.10" width="21.29" height="40.90" fill="rgb(110, 190, 160)"/>
<rect x="1787.14" y="1420.10" width="21.29" height="40.90" fill="rgb(90, 185, 170)"/>
<rect x="1807.83" y="1420.10" width="21.29" height="40.90" fill="rgb(195, 225, 90)"/>
<rect x="1828.52" y="1420.10" width="21.29" height="40.90" fill="rgb(228, 100, 90)"/>
<rect x="1849.21" y="1420.10" width="21.29" height="40.90" fill="rgb(240, 145, 65)"/>
<rect x="1869.90" y="1420.10" width="21.29" height="40.90" fill="rgb(245, 160, 52)"/>
<rect x="1890.59" y="1420.10" width="21.29" height="40.90" fill="rgb(247, 190, 45)"/>
<rect x="1911.28" y="1420.10" width="21.29" height="40.90" fill="rgb(240, 145, 65)"/>
<rect x="1931.97" y="1420.10" width="21.29" height="40.90" fill="rgb(236, 240, 30)"/>
<rect x="1952.66" y="1420.10" width="21.29" height="40.90" fill="rgb(247, 195, 45)"/>
<rect x="1973.35" y="1420.10" width="21.29" height="40.90" fill="rgb(180, 220, 110)"/>
<rect x="1994.04" y="1420.10" width="21.29" height="40.90" fill="rgb(160, 210, 125)"/>
<rect x="2014.73" y="1420.10" width="21.29" height="40.90" fill="rgb(140, 200, 140)"/>
<rect x="2035.42" y="1420.10" width="21.29" height="40.90" fill="rgb(200, 225, 90)"/>
<rect x="2056.11" y="1420.10" width="21.29" height="40.90" fill="rgb(200, 225, 90)"/>
<rect x="2076.80" y="1420.10" width="21.29" height="40.90" fill="rgb(232, 242, 45)"/>
<rect x="2097.49" y="1420.10" width="21.29" height="40.90" fill="rgb(140, 200, 140)"/>
<rect x="2118.18" y="1420.10" width="21.29" height="40.90" fill="rgb(115, 190, 160)"/>
<rect x="2138.87" y="1420.10" width="21.29" height="40.90" fill="rgb(35, 135, 180)"/>
<rect x="1249.20" y="1460.40" width="21.29" height="40.90" fill="rgb(100, 190, 165)"/>
<rect x="1269.89" y="1460.40" width="21.29" height="40.90" fill="rgb(75, 180, 180)"/>
<rect x="1290.58" y="1460.40" width="21.29" height="40.90" fill="rgb(75, 180, 180)"/>
<rect x="1311.27" y="1460.40" width="21.29" height="40.90" fill="rgb(100, 190, 165)"/>
<rect x="1331.96" y="1460.40" width="21.29" height="40.90" fill="rgb(100, 190, 165)"/>
<rect x="1352.65" y="1460.40" width="21.29" height="40.90" fill="rgb(90, 185, 170)"/>
<rect x="1373.34" y="1460.40" width="21.29" height="40.90" fill="rgb(100, 190, 165)"/>
<rect x="1394.03" y="1460.40" width="21.29" height="40.90" fill="rgb(100, 190, 165)"/>
<rect x="1414.72" y="1460.40" width="21.29" height="40.90" fill="rgb(130, 200, 145)"/>
<rect x="1435.41" y="1460.40" width="21.29" height="40.90" fill="rgb(160, 210, 120)"/>
<rect x="1456.10" y="1460.40" width="21.29" height="40.90" fill="rgb(200, 225, 80)"/>
<rect x="1476.79" y="1460.40" width="21.29" height="40.90" fill="rgb(150, 205, 130)"/>
<rect x="1497.48" y="1460.40" width="21.29" height="40.90" fill="rgb(125, 195, 150)"/>
<rect x="1518.17" y="1460.40" width="21.29" height="40.90" fill="rgb(125, 195, 150)"/>
<rect x="1538.86" y="1460.40" width="21.29" height="40.90" fill="rgb(105, 190, 162)"/>
<rect x="1559.55" y="1460.40" width="21.29" height="40.90" fill="rgb(150, 205, 130)"/>
<rect x="1580.24" y="1460.40" width="21.29" height="40.90" fill="rgb(150, 205, 130)"/>
<rect x="1600.93" y="1460.40" width="21.29" height="40.90" fill="rgb(110, 190, 160)"/>
<rect x="1621.62" y="1460.40" width="21.29" height="40.90" fill="rgb(110, 190, 160)"/>
<rect x="1642.31" y="1460.40" width="21.29" height="40.90" fill="rgb(110, 190, 160)"/>
<rect x="1663.00" y="1460.40" width="21.29" height="40.90" fill="rgb(110, 190, 160)"/>
<rect x="1683.69" y="1460.40" width="21.29" height="40.90" fill="rgb(110, 190, 160)"/>
<rect x="1704.38" y="1460.40" width="21.29" height="40.90" fill="rgb(120, 195, 155)"/>
<rect x="1725.07" y="1460.40" width="21.29" height="40.90" fill="rgb(120, 195, 155)"/>
<rect x="1745.76" y="1460.40" width="21.29" height="40.90" fill="rgb(120, 195, 155)"/>
<rect x="1766.45" y="1460.40" width="21.29" height="40.90" fill="rgb(120, 195, 155)"/>
<rect x="1787.14" y="1460.40" width="21.29" height="40.90" fill="rgb(120, 195, 155)"/>
<rect x="1807.83" y="1460.40" width="21.29" height="40.90" fill="rgb(180, 220, 110)"/>
<rect x="1828.52" y="1460.40" width="21.29" height="40.90" fill="rgb(235, 125, 75)"/>
<rect x="1849.21" y="1460.40" width="21.29" height="40.90" fill="rgb(245, 205, 40)"/>
<rect x="1869.90" y="1460.40" width="21.29" height="40.90" fill="rgb(245, 160, 52)"/>
<rect x="1890.59" y="1460.40" width="21.29" height="40.90" fill="rgb(247, 190, 45)"/>
<rect x="1911.28" y="1460.40" width="21.29" height="40.90" fill="rgb(242, 150, 60)"/>
<rect x="1931.97" y="1460.40" width="21.29" height="40.90" fill="rgb(247, 185, 45)"/>
<rect x="1952.66" y="1460.40" width="21.29" height="40.90" fill="rgb(246, 170, 48)"/>
<rect x="1973.35" y="1460.40" width="21.29" height="40.90" fill="rgb(200, 225, 85)"/>
<rect x="1994.04" y="1460.40" width="21.29" height="40.90" fill="rgb(130, 195, 150)"/>
<rect x="2014.73" y="1460.40" width="21.29" height="40.90" fill="rgb(180, 220, 110)"/>
<rect x="2035.42" y="1460.40" width="21.29" height="40.90" fill="rgb(215, 232, 65)"/>
<rect x="2056.11" y="1460.40" width="21.29" height="40.90" fill="rgb(232, 240, 45)"/>
<rect x="2076.80" y="1460.40" width="21.29" height="40.90" fill="rgb(210, 230, 75)"/>
<rect x="2097.49" y="1460.40" width="21.29" height="40.90" fill="rgb(175, 215, 115)"/>
<rect x="2118.18" y="1460.40" width="21.29" height="40.90" fill="rgb(160, 210, 125)"/>
<rect x="2138.87" y="1460.40" width="21.29" height="40.90" fill="rgb(25, 170, 190)"/>
<rect x="1249.20" y="1500.70" width="21.29" height="40.90" fill="rgb(30, 175, 190)"/>
<rect x="1269.89" y="1500.70" width="21.29" height="40.90" fill="rgb(35, 150, 195)"/>
<rect x="1290.58" y="1500.70" width="21.29" height="40.90" fill="rgb(25, 170, 190)"/>
<rect x="1311.27" y="1500.70" width="21.29" height="40.90" fill="rgb(40, 180, 185)"/>
<rect x="1331.96" y="1500.70" width="21.29" height="40.90" fill="rgb(50, 180, 180)"/>
<rect x="1352.65" y="1500.70" width="21.29" height="40.90" fill="rgb(10, 175, 195)"/>
<rect x="1373.34" y="1500.70" width="21.29" height="40.90" fill="rgb(50, 180, 180)"/>
<rect x="1394.03" y="1500.70" width="21.29" height="40.90" fill="rgb(50, 180, 180)"/>
<rect x="1414.72" y="1500.70" width="21.29" height="40.90" fill="rgb(110, 195, 155)"/>
<rect x="1435.41" y="1500.70" width="21.29" height="40.90" fill="rgb(110, 195, 155)"/>
<rect x="1456.10" y="1500.70" width="21.29" height="40.90" fill="rgb(130, 200, 145)"/>
<rect x="1476.79" y="1500.70" width="21.29" height="40.90" fill="rgb(100, 190, 165)"/>
<rect x="1497.48" y="1500.70" width="21.29" height="40.90" fill="rgb(95, 188, 168)"/>
<rect x="1518.17" y="1500.70" width="21.29" height="40.90" fill="rgb(95, 188, 168)"/>
<rect x="1538.86" y="1500.70" width="21.29" height="40.90" fill="rgb(60, 180, 185)"/>
<rect x="1559.55" y="1500.70" width="21.29" height="40.90" fill="rgb(100, 190, 165)"/>
<rect x="1580.24" y="1500.70" width="21.29" height="40.90" fill="rgb(100, 190, 165)"/>
<rect x="1600.93" y="1500.70" width="21.29" height="40.90" fill="rgb(30, 175, 192)"/>
<rect x="1621.62" y="1500.70" width="21.29" height="40.90" fill="rgb(30, 175, 192)"/>
<rect x="1642.31" y="1500.70" width="21.29" height="40.90" fill="rgb(55, 180, 185)"/>
<rect x="1663.00" y="1500.70" width="21.29" height="40.90" fill="rgb(55, 180, 185)"/>
<rect x="1683.69" y="1500.70" width="21.29" height="40.90" fill="rgb(30, 150, 190)"/>
<rect x="1704.38" y="1500.70" width="21.29" height="40.90" fill="rgb(60, 180, 185)"/>
<rect x="1725.07" y="1500.70" width="21.29" height="40.90" fill="rgb(60, 180, 185)"/>
<rect x="1745.76" y="1500.70" width="21.29" height="40.90" fill="rgb(90, 188, 170)"/>
<rect x="1766.45" y="1500.70" width="21.29" height="40.90" fill="rgb(80, 185, 175)"/>
<rect x="1787.14" y="1500.70" width="21.29" height="40.90" fill="rgb(90, 188, 170)"/>
<rect x="1807.83" y="1500.70" width="21.29" height="40.90" fill="rgb(180, 220, 110)"/>
<rect x="1828.52" y="1500.70" width="21.29" height="40.90" fill="rgb(240, 140, 68)"/>
<rect x="1849.21" y="1500.70" width="21.29" height="40.90" fill="rgb(247, 195, 45)"/>
<rect x="1869.90" y="1500.70" width="21.29" height="40.90" fill="rgb(228, 100, 90)"/>
<rect x="1890.59" y="1500.70" width="21.29" height="40.90" fill="rgb(228, 100, 90)"/>
<rect x="1911.28" y="1500.70" width="21.29" height="40.90" fill="rgb(245, 180, 45)"/>
<rect x="1931.97" y="1500.70" width="21.29" height="40.90" fill="rgb(247, 195, 45)"/>
<rect x="1952.66" y="1500.70" width="21.29" height="40.90" fill="rgb(246, 170, 48)"/>
<rect x="1973.35" y="1500.70" width="21.29" height="40.90" fill="rgb(247, 180, 45)"/>
<rect x="1994.04" y="1500.70" width="21.29" height="40.90" fill="rgb(245, 215, 40)"/>
<rect x="2014.73" y="1500.70" width="21.29" height="40.90" fill="rgb(140, 200, 140)"/>
<rect x="2035.42" y="1500.70" width="21.29" height="40.90" fill="rgb(190, 222, 100)"/>
<rect x="2056.11" y="1500.70" width="21.29" height="40.90" fill="rgb(190, 222, 100)"/>
<rect x="2076.80" y="1500.70" width="21.29" height="40.90" fill="rgb(190, 222, 100)"/>
<rect x="2097.49" y="1500.70" width="21.29" height="40.90" fill="rgb(150, 205, 130)"/>
<rect x="2118.18" y="1500.70" width="21.29" height="40.90" fill="rgb(165, 210, 120)"/>
<rect x="2138.87" y="1500.70" width="21.29" height="40.90" fill="rgb(25, 160, 190)"/>
<rect x="1249.20" y="1541.00" width="21.29" height="40.90" fill="rgb(50, 180, 185)"/>
<rect x="1269.89" y="1541.00" width="21.29" height="40.90" fill="rgb(30, 170, 195)"/>
<rect x="1290.58" y="1541.00" width="21.29" height="40.90" fill="rgb(30, 170, 195)"/>
<rect x="1311.27" y="1541.00" width="21.29" height="40.90" fill="rgb(50, 180, 185)"/>
<rect x="1331.96" y="1541.00" width="21.29" height="40.90" fill="rgb(90, 190, 170)"/>
<rect x="1352.65" y="1541.00" width="21.29" height="40.90" fill="rgb(70, 185, 180)"/>
<rect x="1373.34" y="1541.00" width="21.29" height="40.90" fill="rgb(60, 185, 180)"/>
<rect x="1394.03" y="1541.00" width="21.29" height="40.90" fill="rgb(60, 185, 180)"/>
<rect x="1414.72" y="1541.00" width="21.29" height="40.90" fill="rgb(120, 195, 150)"/>
<rect x="1435.41" y="1541.00" width="21.29" height="40.90" fill="rgb(60, 185, 185)"/>
<rect x="1456.10" y="1541.00" width="21.29" height="40.90" fill="rgb(130, 200, 145)"/>
<rect x="1476.79" y="1541.00" width="21.29" height="40.90" fill="rgb(120, 195, 155)"/>
<rect x="1497.48" y="1541.00" width="21.29" height="40.90" fill="rgb(120, 195, 155)"/>
<rect x="1518.17" y="1541.00" width="21.29" height="40.90" fill="rgb(120, 195, 155)"/>
<rect x="1538.86" y="1541.00" width="21.29" height="40.90" fill="rgb(60, 180, 185)"/>
<rect x="1559.55" y="1541.00" width="21.29" height="40.90" fill="rgb(100, 190, 165)"/>
<rect x="1580.24" y="1541.00" width="21.29" height="40.90" fill="rgb(90, 188, 170)"/>
<rect x="1600.93" y="1541.00" width="21.29" height="40.90" fill="rgb(40, 175, 190)"/>
<rect x="1621.62" y="1541.00" width="21.29" height="40.90" fill="rgb(40, 175, 190)"/>
<rect x="1642.31" y="1541.00" width="21.29" height="40.90" fill="rgb(40, 175, 190)"/>
<rect x="1663.00" y="1541.00" width="21.29" height="40.90" fill="rgb(60, 180, 185)"/>
<rect x="1683.69" y="1541.00" width="21.29" height="40.90" fill="rgb(30, 150, 190)"/>
<rect x="1704.38" y="1541.00" width="21.29" height="40.90" fill="rgb(60, 180, 185)"/>
<rect x="1725.07" y="1541.00" width="21.29" height="40.90" fill="rgb(60, 180, 185)"/>
<rect x="1745.76" y="1541.00" width="21.29" height="40.90" fill="rgb(140, 200, 140)"/>
<rect x="1766.45" y="1541.00" width="21.29" height="40.90" fill="rgb(80, 185, 175)"/>
<rect x="1787.14" y="1541.00" width="21.29" height="40.90" fill="rgb(90, 188, 170)"/>
<rect x="1807.83" y="1541.00" width="21.29" height="40.90" fill="rgb(30, 170, 190)"/>
<rect x="1828.52" y="1541.00" width="21.29" height="40.90" fill="rgb(240, 145, 65)"/>
<rect x="1849.21" y="1541.00" width="21.29" height="40.90" fill="rgb(247, 190, 45)"/>
<rect x="1869.90" y="1541.00" width="21.29" height="40.90" fill="rgb(236, 128, 72)"/>
<rect x="1890.59" y="1541.00" width="21.29" height="40.90" fill="rgb(245, 165, 50)"/>
<rect x="1911.28" y="1541.00" width="21.29" height="40.90" fill="rgb(247, 190, 45)"/>
<rect x="1931.97" y="1541.00" width="21.29" height="40.90" fill="rgb(245, 165, 50)"/>
<rect x="1952.66" y="1541.00" width="21.29" height="40.90" fill="rgb(245, 210, 40)"/>
<rect x="1973.35" y="1541.00" width="21.29" height="40.90" fill="rgb(238, 242, 30)"/>
<rect x="1994.04" y="1541.00" width="21.29" height="40.90" fill="rgb(100, 190, 165)"/>
<rect x="2014.73" y="1541.00" width="21.29" height="40.90" fill="rgb(210, 230, 75)"/>
<rect x="2035.42" y="1541.00" width="21.29" height="40.90" fill="rgb(225, 235, 60)"/>
<rect x="2056.11" y="1541.00" width="21.29" height="40.90" fill="rgb(200, 225, 85)"/>
<rect x="2076.80" y="1541.00" width="21.29" height="40.90" fill="rgb(220, 235, 65)"/>
<rect x="2097.49" y="1541.00" width="21.29" height="40.90" fill="rgb(150, 205, 130)"/>
<rect x="2118.18" y="1541.00" width="21.29" height="40.90" fill="rgb(140, 200, 140)"/>
<rect x="2138.87" y="1541.00" width="21.29" height="40.90" fill="rgb(40, 175, 188)"/>
<rect x="1249.20" y="1581.30" width="21.29" height="40.90" fill="rgb(60, 180, 185)"/>
<rect x="1269.89" y="1581.30" width="21.29" height="40.90" fill="rgb(50, 178, 188)"/>
<rect x="1290.58" y="1581.30" width="21.29" height="40.90" fill="rgb(70, 185, 180)"/>
<rect x="1311.27" y="1581.30" width="21.29" height="40.90" fill="rgb(45, 178, 188)"/>
<rect x="1331.96" y="1581.30" width="21.29" height="40.90" fill="rgb(60, 182, 185)"/>
<rect x="1352.65" y="1581.30" width="21.29" height="40.90" fill="rgb(10, 175, 195)"/>
<rect x="1373.34" y="1581.30" width="21.29" height="40.90" fill="rgb(10, 175, 195)"/>
<rect x="1394.03" y="1581.30" width="21.29" height="40.90" fill="rgb(10, 175, 195)"/>
<rect x="1414.72" y="1581.30" width="21.29" height="40.90" fill="rgb(130, 200, 145)"/>
<rect x="1435.41" y="1581.30" width="21.29" height="40.90" fill="rgb(30, 175, 190)"/>
<rect x="1456.10" y="1581.30" width="21.29" height="40.90" fill="rgb(35, 150, 195)"/>
<rect x="1476.79" y="1581.30" width="21.29" height="40.90" fill="rgb(100, 190, 165)"/>
<rect x="1497.48" y="1581.30" width="21.29" height="40.90" fill="rgb(90, 188, 170)"/>
<rect x="1518.17" y="1581.30" width="21.29" height="40.90" fill="rgb(100, 190, 165)"/>
<rect x="1538.86" y="1581.30" width="21.29" height="40.90" fill="rgb(45, 178, 188)"/>
<rect x="1559.55" y="1581.30" width="21.29" height="40.90" fill="rgb(140, 200, 140)"/>
<rect x="1580.24" y="1581.30" width="21.29" height="40.90" fill="rgb(140, 200, 140)"/>
<rect x="1600.93" y="1581.30" width="21.29" height="40.90" fill="rgb(60, 182, 185)"/>
<rect x="1621.62" y="1581.30" width="21.29" height="40.90" fill="rgb(60, 182, 185)"/>
<rect x="1642.31" y="1581.30" width="21.29" height="40.90" fill="rgb(60, 182, 185)"/>
<rect x="1663.00" y="1581.30" width="21.29" height="40.90" fill="rgb(60, 182, 185)"/>
<rect x="1683.69" y="1581.30" width="21.29" height="40.90" fill="rgb(15, 172, 192)"/>
<rect x="1704.38" y="1581.30" width="21.29" height="40.90" fill="rgb(60, 182, 185)"/>
<rect x="1725.07" y="1581.30" width="21.29" height="40.90" fill="rgb(90, 188, 170)"/>
<rect x="1745.76" y="1581.30" width="21.29" height="40.90" fill="rgb(140, 200, 140)"/>
<rect x="1766.45" y="1581.30" width="21.29" height="40.90" fill="rgb(80, 185, 175)"/>
<rect x="1787.14" y="1581.30" width="21.29" height="40.90" fill="rgb(80, 185, 175)"/>
<rect x="1807.83" y="1581.30" width="21.29" height="40.90" fill="rgb(120, 195, 155)"/>
<rect x="1828.52" y="1581.30" width="21.29" height="40.90" fill="rgb(245, 165, 50)"/>
<rect x="1849.21" y="1581.30" width="21.29" height="40.90" fill="rgb(238, 135, 70)"/>
<rect x="1869.90" y="1581.30" width="21.29" height="40.90" fill="rgb(238, 135, 70)"/>
<rect x="1890.59" y="1581.30" width="21.29" height="40.90" fill="rgb(238, 135, 70)"/>
<rect x="1911.28" y="1581.30" width="21.29" height="40.90" fill="rgb(236, 240, 30)"/>
<rect x="1931.97" y="1581.30" width="21.29" height="40.90" fill="rgb(236, 240, 30)"/>
<rect x="1952.66" y="1581.30" width="21.29" height="40.90" fill="rgb(130, 195, 150)"/>
<rect x="1973.35" y="1581.30" width="21.29" height="40.90" fill="rgb(245, 210, 40)"/>
<rect x="1994.04" y="1581.30" width="21.29" height="40.90" fill="rgb(246, 180, 45)"/>
<rect x="2014.73" y="1581.30" width="21.29" height="40.90" fill="rgb(225, 235, 60)"/>
<rect x="2035.42" y="1581.30" width="21.29" height="40.90" fill="rgb(245, 220, 40)"/>
<rect x="2056.11" y="1581.30" width="21.29" height="40.90" fill="rgb(130, 195, 150)"/>
<rect x="2076.80" y="1581.30" width="21.29" height="40.90" fill="rgb(240, 235, 35)"/>
<rect x="2097.49" y="1581.30" width="21.29" height="40.90" fill="rgb(160, 210, 125)"/>
<rect x="2118.18" y="1581.30" width="21.29" height="40.90" fill="rgb(120, 195, 155)"/>
<rect x="2138.87" y="1581.30" width="21.29" height="40.90" fill="rgb(60, 180, 180)"/>
</g>
<g fill="#fff" fill-opacity="0.85"><rect x="1251.0" y="1196.7" width="4.6" height="1.7"/><rect x="1257.2" y="1196.7" width="4.6" height="1.7"/><rect x="1263.4" y="1196.7" width="4.6" height="1.7"/><rect x="1271.7" y="1196.7" width="4.6" height="1.7"/><rect x="1277.9" y="1196.7" width="4.6" height="1.7"/><rect x="1284.1" y="1196.7" width="4.6" height="1.7"/><rect x="1292.4" y="1196.7" width="4.6" height="1.7"/><rect x="1298.6" y="1196.7" width="4.6" height="1.7"/><rect x="1304.8" y="1196.7" width="4.6" height="1.7"/><rect x="1313.1" y="1196.7" width="4.6" height="1.7"/><rect x="1319.3" y="1196.7" width="4.6" height="1.7"/><rect x="1325.5" y="1196.7" width="4.6" height="1.7"/><rect x="1360.7" y="1196.7" width="4.6" height="1.7"/><rect x="1378.3" y="1196.7" width="4.6" height="1.7"/><rect x="1384.5" y="1196.7" width="4.6" height="1.7"/><rect x="1399.0" y="1196.7" width="4.6" height="1.7"/><rect x="1405.2" y="1196.7" width="4.6" height="1.7"/><rect x="1464.1" y="1196.7" width="4.6" height="1.7"/><rect x="1481.7" y="1196.7" width="4.6" height="1.7"/><rect x="1487.9" y="1196.7" width="4.6" height="1.7"/><rect x="1505.5" y="1196.7" width="4.6" height="1.7"/><rect x="1523.1" y="1196.7" width="4.6" height="1.7"/><rect x="1529.3" y="1196.7" width="4.6" height="1.7"/><rect x="1543.8" y="1196.7" width="4.6" height="1.7"/><rect x="1550.0" y="1196.7" width="4.6" height="1.7"/><rect x="1567.6" y="1196.7" width="4.6" height="1.7"/><rect x="1585.2" y="1196.7" width="4.6" height="1.7"/><rect x="1591.4" y="1196.7" width="4.6" height="1.7"/><rect x="1602.8" y="1196.7" width="4.6" height="1.7"/><rect x="1609.0" y="1196.7" width="4.6" height="1.7"/><rect x="1615.2" y="1196.7" width="4.6" height="1.7"/><rect x="1623.5" y="1196.7" width="4.6" height="1.7"/><rect x="1629.7" y="1196.7" width="4.6" height="1.7"/><rect x="1635.9" y="1196.7" width="4.6" height="1.7"/><rect x="1644.2" y="1196.7" width="4.6" height="1.7"/><rect x="1650.4" y="1196.7" width="4.6" height="1.7"/><rect x="1656.6" y="1196.7" width="4.6" height="1.7"/><rect x="1664.8" y="1196.7" width="4.6" height="1.7"/><rect x="1671.0" y="1196.7" width="4.6" height="1.7"/><rect x="1677.2" y="1196.7" width="4.6" height="1.7"/><rect x="1685.5" y="1196.7" width="4.6" height="1.7"/><rect x="1691.7" y="1196.7" width="4.6" height="1.7"/><rect x="1697.9" y="1196.7" width="4.6" height="1.7"/><rect x="1706.2" y="1196.7" width="4.6" height="1.7"/><rect x="1712.4" y="1196.7" width="4.6" height="1.7"/><rect x="1718.6" y="1196.7" width="4.6" height="1.7"/><rect x="1726.9" y="1196.7" width="4.6" height="1.7"/><rect x="1733.1" y="1196.7" width="4.6" height="1.7"/><rect x="1739.3" y="1196.7" width="4.6" height="1.7"/><rect x="1747.6" y="1196.7" width="4.6" height="1.7"/><rect x="1753.8" y="1196.7" width="4.6" height="1.7"/><rect x="1760.0" y="1196.7" width="4.6" height="1.7"/><rect x="1768.3" y="1196.7" width="4.6" height="1.7"/><rect x="1774.5" y="1196.7" width="4.6" height="1.7"/><rect x="1780.7" y="1196.7" width="4.6" height="1.7"/><rect x="1789.0" y="1196.7" width="4.6" height="1.7"/><rect x="1795.2" y="1196.7" width="4.6" height="1.7"/><rect x="1801.4" y="1196.7" width="4.6" height="1.7"/><rect x="1919.3" y="1196.7" width="4.6" height="1.7"/><rect x="1251.0" y="1237.0" width="4.6" height="1.7"/><rect x="1257.2" y="1237.0" width="4.6" height="1.7"/><rect x="1263.4" y="1237.0" width="4.6" height="1.7"/><rect x="1271.7" y="1237.0" width="4.6" height="1.7"/><rect x="1277.9" y="1237.0" width="4.6" height="1.7"/><rect x="1284.1" y="1237.0" width="4.6" height="1.7"/><rect x="1292.4" y="1237.0" width="4.6" height="1.7"/><rect x="1298.6" y="1237.0" width="4.6" height="1.7"/><rect x="1304.8" y="1237.0" width="4.6" height="1.7"/><rect x="1313.1" y="1237.0" width="4.6" height="1.7"/><rect x="1319.3" y="1237.0" width="4.6" height="1.7"/><rect x="1325.5" y="1237.0" width="4.6" height="1.7"/><rect x="1333.8" y="1237.0" width="4.6" height="1.7"/><rect x="1340.0" y="1237.0" width="4.6" height="1.7"/><rect x="1346.2" y="1237.0" width="4.6" height="1.7"/><rect x="1354.5" y="1237.0" width="4.6" height="1.7"/><rect x="1360.7" y="1237.0" width="4.6" height="1.7"/><rect x="1366.9" y="1237.0" width="4.6" height="1.7"/><rect x="1375.2" y="1237.0" width="4.6" height="1.7"/><rect x="1381.4" y="1237.0" width="4.6" height="1.7"/><rect x="1387.6" y="1237.0" width="4.6" height="1.7"/><rect x="1399.0" y="1237.0" width="4.6" height="1.7"/><rect x="1405.2" y="1237.0" width="4.6" height="1.7"/><rect x="1422.8" y="1237.0" width="4.6" height="1.7"/><rect x="1440.4" y="1237.0" width="4.6" height="1.7"/><rect x="1446.6" y="1237.0" width="4.6" height="1.7"/><rect x="1457.9" y="1237.0" width="4.6" height="1.7"/><rect x="1464.1" y="1237.0" width="4.6" height="1.7"/><rect x="1470.3" y="1237.0" width="4.6" height="1.7"/><rect x="1478.6" y="1237.0" width="4.6" height="1.7"/><rect x="1484.8" y="1237.0" width="4.6" height="1.7"/><rect x="1491.0" y="1237.0" width="4.6" height="1.7"/><rect x="1502.4" y="1237.0" width="4.6" height="1.7"/><rect x="1508.6" y="1237.0" width="4.6" height="1.7"/><rect x="1526.2" y="1237.0" width="4.6" height="1.7"/><rect x="1543.8" y="1237.0" width="4.6" height="1.7"/><rect x="1550.0" y="1237.0" width="4.6" height="1.7"/><rect x="1564.5" y="1237.0" width="4.6" height="1.7"/><rect x="1570.7" y="1237.0" width="4.6" height="1.7"/><rect x="1582.1" y="1237.0" width="4.6" height="1.7"/><rect x="1588.3" y="1237.0" width="4.6" height="1.7"/><rect x="1594.5" y="1237.0" width="4.6" height="1.7"/><rect x="1602.8" y="1237.0" width="4.6" height="1.7"/><rect x="1609.0" y="1237.0" width="4.6" height="1.7"/><rect x="1615.2" y="1237.0" width="4.6" height="1.7"/><rect x="1623.5" y="1237.0" width="4.6" height="1.7"/><rect x="1629.7" y="1237.0" width="4.6" height="1.7"/><rect x="1635.9" y="1237.0" width="4.6" height="1.7"/><rect x="1644.2" y="1237.0" width="4.6" height="1.7"/><rect x="1650.4" y="1237.0" width="4.6" height="1.7"/><rect x="1656.6" y="1237.0" width="4.6" height="1.7"/><rect x="1664.8" y="1237.0" width="4.6" height="1.7"/><rect x="1671.0" y="1237.0" width="4.6" height="1.7"/><rect x="1677.2" y="1237.0" width="4.6" height="1.7"/><rect x="1685.5" y="1237.0" width="4.6" height="1.7"/><rect x="1691.7" y="1237.0" width="4.6" height="1.7"/><rect x="1697.9" y="1237.0" width="4.6" height="1.7"/><rect x="1709.3" y="1237.0" width="4.6" height="1.7"/><rect x="1715.5" y="1237.0" width="4.6" height="1.7"/><rect x="1730.0" y="1237.0" width="4.6" height="1.7"/><rect x="1736.2" y="1237.0" width="4.6" height="1.7"/><rect x="1774.5" y="1237.0" width="4.6" height="1.7"/><rect x="1795.2" y="1237.0" width="4.6" height="1.7"/><rect x="1916.2" y="1237.0" width="4.6" height="1.7"/><rect x="1922.4" y="1237.0" width="4.6" height="1.7"/><rect x="1981.4" y="1237.0" width="4.6" height="1.7"/><rect x="2043.5" y="1237.0" width="4.6" height="1.7"/><rect x="2102.4" y="1237.0" width="4.6" height="1.7"/><rect x="2108.6" y="1237.0" width="4.6" height="1.7"/><rect x="1251.0" y="1277.2" width="4.6" height="1.7"/><rect x="1257.2" y="1277.2" width="4.6" height="1.7"/><rect x="1263.4" y="1277.2" width="4.6" height="1.7"/><rect x="1271.7" y="1277.2" width="4.6" height="1.7"/><rect x="1277.9" y="1277.2" width="4.6" height="1.7"/><rect x="1284.1" y="1277.2" width="4.6" height="1.7"/><rect x="1292.4" y="1277.2" width="4.6" height="1.7"/><rect x="1298.6" y="1277.2" width="4.6" height="1.7"/><rect x="1304.8" y="1277.2" width="4.6" height="1.7"/><rect x="1316.2" y="1277.2" width="4.6" height="1.7"/><rect x="1322.4" y="1277.2" width="4.6" height="1.7"/><rect x="1333.8" y="1277.2" width="4.6" height="1.7"/><rect x="1340.0" y="1277.2" width="4.6" height="1.7"/><rect x="1346.2" y="1277.2" width="4.6" height="1.7"/><rect x="1357.6" y="1277.2" width="4.6" height="1.7"/><rect x="1363.8" y="1277.2" width="4.6" height="1.7"/><rect x="1375.2" y="1277.2" width="4.6" height="1.7"/><rect x="1381.4" y="1277.2" width="4.6" height="1.7"/><rect x="1387.6" y="1277.2" width="4.6" height="1.7"/><rect x="1399.0" y="1277.2" width="4.6" height="1.7"/><rect x="1405.2" y="1277.2" width="4.6" height="1.7"/><rect x="1419.7" y="1277.2" width="4.6" height="1.7"/><rect x="1425.9" y="1277.2" width="4.6" height="1.7"/><rect x="1440.4" y="1277.2" width="4.6" height="1.7"/><rect x="1446.6" y="1277.2" width="4.6" height="1.7"/><rect x="1461.0" y="1277.2" width="4.6" height="1.7"/><rect x="1467.2" y="1277.2" width="4.6" height="1.7"/><rect x="1481.7" y="1277.2" width="4.6" height="1.7"/><rect x="1487.9" y="1277.2" width="4.6" height="1.7"/><rect x="1505.5" y="1277.2" width="4.6" height="1.7"/><rect x="1526.2" y="1277.2" width="4.6" height="1.7"/><rect x="1543.8" y="1277.2" width="4.6" height="1.7"/><rect x="1550.0" y="1277.2" width="4.6" height="1.7"/><rect x="1564.5" y="1277.2" width="4.6" height="1.7"/><rect x="1570.7" y="1277.2" width="4.6" height="1.7"/><rect x="1585.2" y="1277.2" width="4.6" height="1.7"/><rect x="1591.4" y="1277.2" width="4.6" height="1.7"/><rect x="1605.9" y="1277.2" width="4.6" height="1.7"/><rect x="1612.1" y="1277.2" width="4.6" height="1.7"/><rect x="1626.6" y="1277.2" width="4.6" height="1.7"/><rect x="1632.8" y="1277.2" width="4.6" height="1.7"/><rect x="1647.3" y="1277.2" width="4.6" height="1.7"/><rect x="1653.5" y="1277.2" width="4.6" height="1.7"/><rect x="1667.9" y="1277.2" width="4.6" height="1.7"/><rect x="1674.1" y="1277.2" width="4.6" height="1.7"/><rect x="1688.6" y="1277.2" width="4.6" height="1.7"/><rect x="1694.8" y="1277.2" width="4.6" height="1.7"/><rect x="1712.4" y="1277.2" width="4.6" height="1.7"/><rect x="1733.1" y="1277.2" width="4.6" height="1.7"/><rect x="1919.3" y="1277.2" width="4.6" height="1.7"/><rect x="1254.1" y="1317.6" width="4.6" height="1.7"/><rect x="1260.3" y="1317.6" width="4.6" height="1.7"/><rect x="1274.8" y="1317.6" width="4.6" height="1.7"/><rect x="1281.0" y="1317.6" width="4.6" height="1.7"/><rect x="1295.5" y="1317.6" width="4.6" height="1.7"/><rect x="1301.7" y="1317.6" width="4.6" height="1.7"/><rect x="1316.2" y="1317.6" width="4.6" height="1.7"/><rect x="1322.4" y="1317.6" width="4.6" height="1.7"/><rect x="1333.8" y="1317.6" width="4.6" height="1.7"/><rect x="1340.0" y="1317.6" width="4.6" height="1.7"/><rect x="1346.2" y="1317.6" width="4.6" height="1.7"/><rect x="1354.5" y="1317.6" width="4.6" height="1.7"/><rect x="1360.7" y="1317.6" width="4.6" height="1.7"/><rect x="1366.9" y="1317.6" width="4.6" height="1.7"/><rect x="1375.2" y="1317.6" width="4.6" height="1.7"/><rect x="1381.4" y="1317.6" width="4.6" height="1.7"/><rect x="1387.6" y="1317.6" width="4.6" height="1.7"/><rect x="1395.9" y="1317.6" width="4.6" height="1.7"/><rect x="1402.1" y="1317.6" width="4.6" height="1.7"/><rect x="1408.3" y="1317.6" width="4.6" height="1.7"/><rect x="1419.7" y="1317.6" width="4.6" height="1.7"/><rect x="1425.9" y="1317.6" width="4.6" height="1.7"/><rect x="1443.5" y="1317.6" width="4.6" height="1.7"/><rect x="1464.1" y="1317.6" width="4.6" height="1.7"/><rect x="1478.6" y="1317.6" width="4.6" height="1.7"/><rect x="1484.8" y="1317.6" width="4.6" height="1.7"/><rect x="1491.0" y="1317.6" width="4.6" height="1.7"/><rect x="1499.3" y="1317.6" width="4.6" height="1.7"/><rect x="1505.5" y="1317.6" width="4.6" height="1.7"/><rect x="1511.7" y="1317.6" width="4.6" height="1.7"/><rect x="1523.1" y="1317.6" width="4.6" height="1.7"/><rect x="1529.3" y="1317.6" width="4.6" height="1.7"/><rect x="1543.8" y="1317.6" width="4.6" height="1.7"/><rect x="1550.0" y="1317.6" width="4.6" height="1.7"/><rect x="1605.9" y="1317.6" width="4.6" height="1.7"/><rect x="1612.1" y="1317.6" width="4.6" height="1.7"/><rect x="1626.6" y="1317.6" width="4.6" height="1.7"/><rect x="1632.8" y="1317.6" width="4.6" height="1.7"/><rect x="1647.3" y="1317.6" width="4.6" height="1.7"/><rect x="1653.5" y="1317.6" width="4.6" height="1.7"/><rect x="1667.9" y="1317.6" width="4.6" height="1.7"/><rect x="1674.1" y="1317.6" width="4.6" height="1.7"/><rect x="1691.7" y="1317.6" width="4.6" height="1.7"/><rect x="1712.4" y="1317.6" width="4.6" height="1.7"/><rect x="1733.1" y="1317.6" width="4.6" height="1.7"/><rect x="1753.8" y="1317.6" width="4.6" height="1.7"/><rect x="1774.5" y="1317.6" width="4.6" height="1.7"/><rect x="1795.2" y="1317.6" width="4.6" height="1.7"/><rect x="1916.2" y="1317.6" width="4.6" height="1.7"/><rect x="1922.4" y="1317.6" width="4.6" height="1.7"/><rect x="1936.9" y="1317.6" width="4.6" height="1.7"/><rect x="1943.1" y="1317.6" width="4.6" height="1.7"/><rect x="2081.7" y="1317.6" width="4.6" height="1.7"/><rect x="2087.9" y="1317.6" width="4.6" height="1.7"/><rect x="1257.2" y="1357.9" width="4.6" height="1.7"/><rect x="1277.9" y="1357.9" width="4.6" height="1.7"/><rect x="1298.6" y="1357.9" width="4.6" height="1.7"/><rect x="1319.3" y="1357.9" width="4.6" height="1.7"/><rect x="1333.8" y="1357.9" width="4.6" height="1.7"/><rect x="1340.0" y="1357.9" width="4.6" height="1.7"/><rect x="1346.2" y="1357.9" width="4.6" height="1.7"/><rect x="1354.5" y="1357.9" width="4.6" height="1.7"/><rect x="1360.7" y="1357.9" width="4.6" height="1.7"/><rect x="1366.9" y="1357.9" width="4.6" height="1.7"/><rect x="1375.2" y="1357.9" width="4.6" height="1.7"/><rect x="1381.4" y="1357.9" width="4.6" height="1.7"/><rect x="1387.6" y="1357.9" width="4.6" height="1.7"/><rect x="1399.0" y="1357.9" width="4.6" height="1.7"/><rect x="1405.2" y="1357.9" width="4.6" height="1.7"/><rect x="1416.6" y="1357.9" width="4.6" height="1.7"/><rect x="1422.8" y="1357.9" width="4.6" height="1.7"/><rect x="1429.0" y="1357.9" width="4.6" height="1.7"/><rect x="1440.4" y="1357.9" width="4.6" height="1.7"/><rect x="1446.6" y="1357.9" width="4.6" height="1.7"/><rect x="1464.1" y="1357.9" width="4.6" height="1.7"/><rect x="1484.8" y="1357.9" width="4.6" height="1.7"/><rect x="1505.5" y="1357.9" width="4.6" height="1.7"/><rect x="1546.9" y="1357.9" width="4.6" height="1.7"/><rect x="1830.4" y="1438.5" width="4.6" height="1.7"/><rect x="1836.6" y="1438.5" width="4.6" height="1.7"/><rect x="1842.8" y="1438.5" width="4.6" height="1.7"/><rect x="1857.3" y="1438.5" width="4.6" height="1.7"/><rect x="1877.9" y="1438.5" width="4.6" height="1.7"/><rect x="1919.3" y="1438.5" width="4.6" height="1.7"/><rect x="1833.5" y="1478.8" width="4.6" height="1.7"/><rect x="1839.7" y="1478.8" width="4.6" height="1.7"/><rect x="1877.9" y="1478.8" width="4.6" height="1.7"/><rect x="1919.3" y="1478.8" width="4.6" height="1.7"/><rect x="1833.5" y="1519.0" width="4.6" height="1.7"/><rect x="1839.7" y="1519.0" width="4.6" height="1.7"/><rect x="1871.7" y="1519.0" width="4.6" height="1.7"/><rect x="1877.9" y="1519.0" width="4.6" height="1.7"/><rect x="1884.1" y="1519.0" width="4.6" height="1.7"/><rect x="1892.4" y="1519.0" width="4.6" height="1.7"/><rect x="1898.6" y="1519.0" width="4.6" height="1.7"/><rect x="1904.8" y="1519.0" width="4.6" height="1.7"/><rect x="1836.6" y="1559.4" width="4.6" height="1.7"/><rect x="1874.8" y="1559.4" width="4.6" height="1.7"/><rect x="1881.0" y="1559.4" width="4.6" height="1.7"/><rect x="1854.2" y="1599.7" width="4.6" height="1.7"/><rect x="1860.4" y="1599.7" width="4.6" height="1.7"/><rect x="1877.9" y="1599.7" width="4.6" height="1.7"/><rect x="1895.5" y="1599.7" width="4.6" height="1.7"/><rect x="1901.7" y="1599.7" width="4.6" height="1.7"/></g>
<g font-size="16.3" fill="#111"><text transform="translate(1256.6,1629.5) rotate(90)">Sa(d17:0)</text><text transform="translate(1277.3,1629.5) rotate(90)">Sa(d18:0)</text><text transform="translate(1298.0,1629.5) rotate(90)">Sa(d18:1)</text><text transform="translate(1318.7,1629.5) rotate(90)">Sa(m17:0)</text><text transform="translate(1339.4,1629.5) rotate(90)">So(d17:1)</text><text transform="translate(1360.1,1629.5) rotate(90)">Sa1P(d17:0)</text><text transform="translate(1380.8,1629.5) rotate(90)">Sa1P(d18:0)</text><text transform="translate(1401.5,1629.5) rotate(90)">DHCer(d18:0/14:0)</text><text transform="translate(1422.2,1629.5) rotate(90)">DHCer(d18:0/18:1)</text><text transform="translate(1442.9,1629.5) rotate(90)">DHCer(d18:0/20:1)</text><text transform="translate(1463.5,1629.5) rotate(90)">DHCer(d18:0/16:0)</text><text transform="translate(1484.2,1629.5) rotate(90)">DHCer(d18:0/24:1)</text><text transform="translate(1504.9,1629.5) rotate(90)">Cer(d18:1/24:0)</text><text transform="translate(1525.6,1629.5) rotate(90)">Cer(d18:1/28:1)</text><text transform="translate(1546.3,1629.5) rotate(90)">Cer(d18:1/20:1)</text><text transform="translate(1567.0,1629.5) rotate(90)">Cer(d18:1/16:0)</text><text transform="translate(1587.7,1629.5) rotate(90)">Cer(d18:1/24:1)</text><text transform="translate(1608.4,1629.5) rotate(90)">Sph(d17:1)</text><text transform="translate(1629.1,1629.5) rotate(90)">Sph(d18:1)</text><text transform="translate(1649.8,1629.5) rotate(90)">S1P(d17:1)</text><text transform="translate(1670.4,1629.5) rotate(90)">S1P(d18:1)</text><text transform="translate(1691.1,1629.5) rotate(90)">SM(d18:1/16:0)</text><text transform="translate(1711.8,1629.5) rotate(90)">SM(d18:1/18:0)</text><text transform="translate(1732.5,1629.5) rotate(90)">SM(d18:1/18:1)</text><text transform="translate(1753.2,1629.5) rotate(90)">SM(d18:1/20:0)</text><text transform="translate(1773.9,1629.5) rotate(90)">SM(d18:1/20:1)</text><text transform="translate(1794.6,1629.5) rotate(90)">SM(d18:1/22:0)</text><text transform="translate(1815.3,1629.5) rotate(90)">SM(d18:1/22:1)</text><text transform="translate(1836.0,1629.5) rotate(90)">SM(d18:1/24:0)</text><text transform="translate(1856.7,1629.5) rotate(90)">SM(d18:1/24:1)</text><text transform="translate(1877.3,1629.5) rotate(90)">SM(d18:1/26:0)</text><text transform="translate(1898.0,1629.5) rotate(90)">SM(d18:1/26:1)</text><text transform="translate(1918.7,1629.5) rotate(90)">Hex1Cer(d18:1/16:0)</text><text transform="translate(1939.4,1629.5) rotate(90)">Hex1Cer(d18:1/20:1)</text><text transform="translate(1960.1,1629.5) rotate(90)">Hex1Cer(d18:1/22:0)</text><text transform="translate(1980.8,1629.5) rotate(90)">Hex1Cer(d18:1/24:1)</text><text transform="translate(2001.5,1629.5) rotate(90)">Hex1Cer(d18:1/18:1)</text><text transform="translate(2022.2,1629.5) rotate(90)">Hex1Cer(d18:1/14:0)</text><text transform="translate(2042.9,1629.5) rotate(90)">Hex2Cer(d18:1/16:0)</text><text transform="translate(2063.6,1629.5) rotate(90)">Hex2Cer(d18:1/18:1)</text><text transform="translate(2084.2,1629.5) rotate(90)">Hex2Cer(d18:1/20:0)</text><text transform="translate(2104.9,1629.5) rotate(90)">Hex2Cer(d18:1/24:1)</text><text transform="translate(2125.6,1629.5) rotate(90)">Hex2Cer(d18:1/26:0)</text><text transform="translate(2146.3,1629.5) rotate(90)">Hex2Cer(d18:1/22:0)</text></g>
<g font-size="16.6" font-style="italic" fill="#111"><text x="2168" y="1203.8">Bifidobaterium_adolescentis</text><text x="2168" y="1244.1">Bacteroides_thetaiotaomicron</text><text x="2168" y="1284.4">Bacteroides_plebeius_CAG_211</text><text x="2168" y="1324.7">Clostridium_sp_CAG_768</text><text x="2168" y="1365">Eubacterium_sp_CAG_202</text><text x="2168" y="1405.3">Caternibacterium_mitsuokai</text><text x="2168" y="1445">Bacteriodes_sp_3_1_33FAA</text><text x="2168" y="1484.6">Bacteriodes_intestinalis</text><text x="2168" y="1524.5">Bifidobaterium_</text><text x="2168" y="1543.6">pseudocatenulatum</text><text x="2168" y="1564.2">Holdemanella_biformis</text><text x="2168" y="1604.5">Dialister_succinatiphlius</text></g>
<path d="M1671.5 1147.8H1989.4M1671.5 1147.8V1166.5M1989.4 1147.8V1157.0M1902.9 1157.0H2075.9M1902.9 1157.0V1166.3M2075.9 1157.0V1166.3M1524.8 1166.5H1817.9M1817.9 1166.5V1178.3M1524.8 1166.5V1168.0M1336.0 1168.0H1687.0M1336.0 1168.0V1170.5M1687.0 1168.0V1170.5M1291.0 1170.5H1480.0M1510.0 1170.5H1740.0M1600.0 1170.5H1800.0M1259.0 1173.5H1290.0M1259.0 1173.5V1178.3M1290.0 1173.5V1178.3M1290.0 1173.5H1340.0M1290.0 1173.5V1178.3M1340.0 1173.5V1178.3M1300.0 1173.5H1340.0M1300.0 1173.5V1178.3M1340.0 1173.5V1178.3M1353.0 1173.5H1392.0M1353.0 1173.5V1178.3M1392.0 1173.5V1178.3M1400.0 1173.5H1440.0M1400.0 1173.5V1178.3M1440.0 1173.5V1178.3M1440.0 1173.5H1480.0M1440.0 1173.5V1178.3M1480.0 1173.5V1178.3M1519.0 1173.5H1560.0M1519.0 1173.5V1178.3M1560.0 1173.5V1178.3M1560.0 1173.5H1600.0M1560.0 1173.5V1178.3M1600.0 1173.5V1178.3M1617.0 1173.5H1660.0M1617.0 1173.5V1178.3M1660.0 1173.5V1178.3M1660.0 1173.5H1700.0M1660.0 1173.5V1178.3M1700.0 1173.5V1178.3M1700.0 1173.5H1740.0M1700.0 1173.5V1178.3M1740.0 1173.5V1178.3M1745.0 1173.5H1790.0M1745.0 1173.5V1178.3M1790.0 1173.5V1178.3M1790.0 1173.5H1810.0M1790.0 1173.5V1178.3M1810.0 1173.5V1178.3M1270.0 1173.5H1320.0M1270.0 1173.5V1178.3M1320.0 1173.5V1178.3M1869.5 1166.3H1936.3M1869.5 1166.3V1170.0M1936.3 1166.3V1170.0M1994.0 1166.3H2123.0M1994.0 1166.3V1170.0M2123.0 1166.3V1170.0M1839.0 1172.5H1880.0M1839.0 1172.5V1178.3M1880.0 1172.5V1178.3M1860.0 1172.5H1890.0M1860.0 1172.5V1178.3M1890.0 1172.5V1178.3M1900.0 1172.5H1935.0M1900.0 1172.5V1178.3M1935.0 1172.5V1178.3M1925.0 1172.5H1960.0M1925.0 1172.5V1178.3M1960.0 1172.5V1178.3M1983.0 1172.5H2003.0M1983.0 1172.5V1178.3M2003.0 1172.5V1178.3M2002.0 1172.5H2045.0M2002.0 1172.5V1178.3M2045.0 1172.5V1178.3M2030.0 1172.5H2060.0M2030.0 1172.5V1178.3M2060.0 1172.5V1178.3M2060.0 1172.5H2090.0M2060.0 1172.5V1178.3M2090.0 1172.5V1178.3M2107.0 1172.5H2140.0M2107.0 1172.5V1178.3M2140.0 1172.5V1178.3M2130.0 1172.5H2150.0M2130.0 1172.5V1178.3M2150.0 1172.5V1178.3M1185.0 1312.7V1589.1M1185.0 1312.7H1215.8M1185.0 1589.1H1228.2M1215.8 1244.4V1380.4M1215.8 1244.4H1231.5M1215.8 1380.4H1226.2M1231.5 1198.5V1319.3M1231.5 1198.5H1241.9M1231.5 1319.3H1241.9M1231.5 1259.0H1235.6M1235.6 1238.8V1279.0M1235.6 1238.8H1241.9M1235.6 1279.0H1241.9M1226.2 1359.6V1399.9M1226.2 1359.6H1241.9M1226.2 1399.9H1241.9M1228.2 1516.4V1589.1M1228.2 1516.4H1231.0M1231.0 1460.9V1516.4M1231.0 1460.9H1237.2M1237.2 1440.2V1480.5M1237.2 1440.2H1241.9M1237.2 1480.5H1241.9M1228.2 1571.0H1233.1M1233.1 1541.6V1601.4M1233.1 1601.4H1241.9M1233.1 1541.6H1235.1M1235.1 1520.8V1561.1M1235.1 1520.8H1241.9M1235.1 1561.1H1241.9" fill="none" stroke="#222" stroke-width="1.2"/>
<defs><linearGradient id="cb" x1="0" y1="0" x2="0" y2="1"><stop offset="0" stop-color="#e05f64"/><stop offset="0.1" stop-color="#eb7352"/><stop offset="0.2" stop-color="#f08d3d"/><stop offset="0.3" stop-color="#f5ac30"/><stop offset="0.4" stop-color="#f3cc2a"/><stop offset="0.45" stop-color="#eeea22"/><stop offset="0.5" stop-color="#c8e04a"/><stop offset="0.6" stop-color="#72bb94"/><stop offset="0.65" stop-color="#1aafaf"/><stop offset="0.7" stop-color="#2a96b6"/><stop offset="0.8" stop-color="#2e50a0"/><stop offset="0.86" stop-color="#15108a"/><stop offset="1" stop-color="#120a80"/></linearGradient></defs>
<rect x="2367" y="1606" width="16" height="184" fill="url(#cb)"/>
<text x="2366.5" y="1600.5" font-size="10.5" font-weight="bold">Correlation</text>
<text x="2385" y="1612" font-size="11" fill="#333">1</text>
<text x="2385" y="1648" font-size="11" fill="#333">0.6</text>
<text x="2385" y="1684" font-size="11" fill="#333">0.2</text>
<text x="2385" y="1720" font-size="11" fill="#333">−0.2</text>
<text x="2385" y="1756" font-size="11" fill="#333">−0.6</text>
<text x="2385" y="1792" font-size="11" fill="#333">−1</text>
<text x="49" y="1851" font-size="53" font-weight="bold">D</text>
<path d="M86.5 2175.0C188.2 2175.0 188.2 2173.3 289.8 2173.3L289.8 2772.2C188.2 2772.2 188.2 2773.8 86.5 2773.8Z" fill="rgba(0,0,0,0.072)"/>
<path d="M338.8 2173.3C435.0 2173.3 435.0 2143.9 531.3 2143.9L531.3 2628.6C435.0 2628.6 435.0 2659.3 338.8 2659.3Z" fill="rgba(0,0,0,0.072)"/>
<path d="M338.8 2659.3C435.0 2659.3 435.0 2653.2 531.3 2653.2L531.3 2724.0C435.0 2724.0 435.0 2730.3 338.8 2730.3Z" fill="rgba(0,0,0,0.072)"/>
<path d="M338.8 2730.3C435.0 2730.3 435.0 2743.8 531.3 2743.8L531.3 2764.1C435.0 2764.1 435.0 2750.6 338.8 2750.6Z" fill="rgba(0,0,0,0.072)"/>
<path d="M338.8 2750.6C435.0 2750.6 435.0 2785.5 531.3 2785.5L531.3 2807.0C435.0 2807.0 435.0 2772.2 338.8 2772.2Z" fill="rgba(0,0,0,0.072)"/>
<path d="M580.3 2143.9C694.1 2143.9 694.1 2082.9 808.0 2082.9L808.0 2355.8C694.1 2355.8 694.1 2417.6 580.3 2417.6Z" fill="rgba(0,0,0,0.072)"/>
<path d="M580.3 2417.6C694.0 2417.6 694.0 2381.7 807.7 2381.7L807.7 2524.6C694.0 2524.6 694.0 2560.9 580.3 2560.9Z" fill="rgba(0,0,0,0.072)"/>
<path d="M580.3 2560.9C693.9 2560.9 693.9 2542.5 807.6 2542.5L807.6 2587.0C693.9 2587.0 693.9 2605.5 580.3 2605.5Z" fill="rgba(0,0,0,0.072)"/>
<path d="M580.3 2605.5C693.9 2605.5 693.9 2610.8 807.5 2610.8L807.5 2622.5C693.9 2622.5 693.9 2617.3 580.3 2617.3Z" fill="rgba(0,0,0,0.072)"/>
<path d="M580.3 2617.3C693.9 2617.3 693.9 2645.4 807.5 2645.4L807.5 2656.7C693.9 2656.7 693.9 2628.6 580.3 2628.6Z" fill="rgba(0,0,0,0.072)"/>
<path d="M580.3 2653.2C694.2 2653.2 694.2 2684.2 808.0 2684.2L808.0 2696.7C694.2 2696.7 694.2 2665.9 580.3 2665.9Z" fill="rgba(0,0,0,0.072)"/>
<path d="M580.3 2665.9C694.6 2665.9 694.6 2719.6 808.8 2719.6L808.8 2776.7C694.6 2776.7 694.6 2724.0 580.3 2724.0Z" fill="rgba(0,0,0,0.072)"/>
<path d="M580.3 2743.8C694.9 2743.8 694.9 2795.4 809.5 2795.4L809.5 2806.7C694.9 2806.7 694.9 2754.3 580.3 2754.3Z" fill="rgba(0,0,0,0.072)"/>
<path d="M580.3 2754.3C695.1 2754.3 695.1 2828.8 810.0 2828.8L810.0 2839.2C695.1 2839.2 695.1 2764.1 580.3 2764.1Z" fill="rgba(0,0,0,0.072)"/>
<path d="M580.3 2785.5C695.4 2785.5 695.4 2863.3 810.5 2863.3L810.5 2885.0C695.4 2885.0 695.4 2807.0 580.3 2807.0Z" fill="rgba(0,0,0,0.072)"/>
<path d="M857.0 2082.9C994.5 2082.9 994.5 2027.9 1132.0 2027.9L1132.0 2300.8C994.5 2300.8 994.5 2355.8 857.0 2355.8Z" fill="rgba(0,0,0,0.072)"/>
<path d="M856.7 2381.7C994.4 2381.7 994.4 2326.7 1132.0 2326.7L1132.0 2427.5C994.4 2427.5 994.4 2483.7 856.7 2483.7Z" fill="rgba(0,0,0,0.072)"/>
<path d="M856.7 2483.7C994.4 2483.7 994.4 2447.5 1132.0 2447.5L1132.0 2478.8C994.4 2478.8 994.4 2515.4 856.7 2515.4Z" fill="rgba(0,0,0,0.072)"/>
<path d="M856.7 2515.4C994.4 2515.4 994.4 2501.7 1132.2 2501.7L1132.2 2510.8C994.4 2510.8 994.4 2524.6 856.7 2524.6Z" fill="rgba(0,0,0,0.072)"/>
<path d="M856.6 2542.5C994.5 2542.5 994.5 2535.0 1132.5 2535.0L1132.5 2578.8C994.5 2578.8 994.5 2587.0 856.6 2587.0Z" fill="rgba(0,0,0,0.072)"/>
<path d="M856.5 2610.8C994.7 2610.8 994.7 2605.0 1132.8 2605.0L1132.8 2616.2C994.7 2616.2 994.7 2622.5 856.5 2622.5Z" fill="rgba(0,0,0,0.072)"/>
<path d="M856.5 2645.4C996.0 2645.4 996.0 2774.6 1135.6 2774.6L1135.6 2785.0C996.0 2785.0 996.0 2656.7 856.5 2656.7Z" fill="rgba(0,0,0,0.072)"/>
<path d="M857.0 2684.2C995.1 2684.2 995.1 2642.0 1133.2 2642.0L1133.2 2653.8C995.1 2653.8 995.1 2696.7 857.0 2696.7Z" fill="rgba(0,0,0,0.072)"/>
<path d="M857.8 2719.6C995.9 2719.6 995.9 2683.0 1134.1 2683.0L1134.1 2694.0C995.9 2694.0 995.9 2730.7 857.8 2730.7Z" fill="rgba(0,0,0,0.072)"/>
<path d="M857.8 2730.7C996.5 2730.7 996.5 2720.4 1135.1 2720.4L1135.1 2754.6C996.5 2754.6 996.5 2765.3 857.8 2765.3Z" fill="rgba(0,0,0,0.072)"/>
<path d="M857.8 2765.3C996.9 2765.3 996.9 2810.4 1135.9 2810.4L1135.9 2821.7C996.9 2821.7 996.9 2776.7 857.8 2776.7Z" fill="rgba(0,0,0,0.072)"/>
<path d="M858.5 2795.4C997.4 2795.4 997.4 2849.6 1136.3 2849.6L1136.3 2860.8C997.4 2860.8 997.4 2806.7 858.5 2806.7Z" fill="rgba(0,0,0,0.072)"/>
<path d="M859.0 2828.8C997.9 2828.8 997.9 2888.0 1136.9 2888.0L1136.9 2897.5C997.9 2897.5 997.9 2839.2 859.0 2839.2Z" fill="rgba(0,0,0,0.072)"/>
<path d="M859.5 2863.3C998.6 2863.3 998.6 2925.8 1137.6 2925.8L1137.6 2938.3C998.6 2938.3 998.6 2875.8 859.5 2875.8Z" fill="rgba(0,0,0,0.072)"/>
<path d="M859.5 2875.8C1000.0 2875.8 1000.0 2969.6 1140.4 2969.6L1140.4 2978.8C1000.0 2978.8 1000.0 2885.0 859.5 2885.0Z" fill="rgba(0,0,0,0.072)"/>
<path d="M1181.0 2027.9C1297.0 2027.9 1297.0 1863.2 1413.1 1863.2L1413.1 2015.8C1297.0 2015.8 1297.0 2183.5 1181.0 2183.5Z" fill="rgba(0,0,0,0.072)"/>
<path d="M1181.0 2183.5C1297.0 2183.5 1297.0 2035.6 1413.1 2035.6L1413.1 2076.8C1297.0 2076.8 1297.0 2225.5 1181.0 2225.5Z" fill="rgba(0,0,0,0.072)"/>
<path d="M1181.0 2225.5C1297.0 2225.5 1297.0 2096.3 1413.1 2096.3L1413.1 2107.1C1297.0 2107.1 1297.0 2236.6 1181.0 2236.6Z" fill="rgba(0,0,0,0.072)"/>
<path d="M1181.0 2236.6C1297.0 2236.6 1297.0 2127.9 1413.1 2127.9L1413.1 2138.7C1297.0 2138.7 1297.0 2247.6 1181.0 2247.6Z" fill="rgba(0,0,0,0.072)"/>
<path d="M1181.0 2247.6C1297.0 2247.6 1297.0 2158.8 1413.1 2158.8L1413.1 2169.6C1297.0 2169.6 1297.0 2258.6 1181.0 2258.6Z" fill="rgba(0,0,0,0.072)"/>
<path d="M1181.0 2258.6C1297.0 2258.6 1297.0 2189.8 1413.1 2189.8L1413.1 2201.2C1297.0 2201.2 1297.0 2270.2 1181.0 2270.2Z" fill="rgba(0,0,0,0.072)"/>
<path d="M1181.0 2270.2C1297.0 2270.2 1297.0 2222.3 1413.1 2222.3L1413.1 2233.7C1297.0 2233.7 1297.0 2281.8 1181.0 2281.8Z" fill="rgba(0,0,0,0.072)"/>
<path d="M1181.0 2281.8C1297.0 2281.8 1297.0 2254.8 1413.1 2254.8L1413.1 2262.5C1297.0 2262.5 1297.0 2289.7 1181.0 2289.7Z" fill="rgba(0,0,0,0.072)"/>
<path d="M1181.0 2289.7C1297.0 2289.7 1297.0 2315.1 1413.1 2315.1L1413.1 2326.0C1297.0 2326.0 1297.0 2300.8 1181.0 2300.8Z" fill="rgba(0,0,0,0.072)"/>
<path d="M1181.0 2326.7C1297.0 2326.7 1297.0 2282.6 1413.1 2282.6L1413.1 2294.4C1297.0 2294.4 1297.0 2339.1 1181.0 2339.1Z" fill="rgba(0,0,0,0.072)"/>
<path d="M1181.0 2339.1C1297.0 2339.1 1297.0 2346.5 1413.1 2346.5L1413.1 2355.5C1297.0 2355.5 1297.0 2348.5 1181.0 2348.5Z" fill="rgba(0,0,0,0.072)"/>
<path d="M1181.0 2348.5C1297.0 2348.5 1297.0 2375.6 1413.1 2375.6L1413.1 2387.0C1297.0 2387.0 1297.0 2360.5 1181.0 2360.5Z" fill="rgba(0,0,0,0.072)"/>
<path d="M1181.0 2360.5C1297.0 2360.5 1297.0 2407.5 1413.1 2407.5L1413.1 2419.0C1297.0 2419.0 1297.0 2372.6 1181.0 2372.6Z" fill="rgba(0,0,0,0.072)"/>
<path d="M1181.0 2372.6C1297.0 2372.6 1297.0 2439.7 1413.1 2439.7L1413.1 2449.9C1297.0 2449.9 1297.0 2383.3 1181.0 2383.3Z" fill="rgba(0,0,0,0.072)"/>
<path d="M1181.0 2383.3C1297.0 2383.3 1297.0 2469.4 1413.1 2469.4L1413.1 2479.9C1297.0 2479.9 1297.0 2394.3 1181.0 2394.3Z" fill="rgba(0,0,0,0.072)"/>
<path d="M1181.0 2394.3C1297.0 2394.3 1297.0 2531.3 1413.1 2531.3L1413.1 2541.2C1297.0 2541.2 1297.0 2404.7 1181.0 2404.7Z" fill="rgba(0,0,0,0.072)"/>
<path d="M1181.0 2404.7C1297.0 2404.7 1297.0 2590.7 1413.1 2590.7L1413.1 2601.5C1297.0 2601.5 1297.0 2416.1 1181.0 2416.1Z" fill="rgba(0,0,0,0.072)"/>
<path d="M1181.0 2416.1C1297.0 2416.1 1297.0 2651.0 1413.1 2651.0L1413.1 2661.9C1297.0 2661.9 1297.0 2427.5 1181.0 2427.5Z" fill="rgba(0,0,0,0.072)"/>
<path d="M1181.0 2447.5C1297.0 2447.5 1297.0 2500.3 1413.1 2500.3L1413.1 2510.9C1297.0 2510.9 1297.0 2457.9 1181.0 2457.9Z" fill="rgba(0,0,0,0.072)"/>
<path d="M1181.0 2457.9C1297.0 2457.9 1297.0 2560.4 1413.1 2560.4L1413.1 2570.6C1297.0 2570.6 1297.0 2468.0 1181.0 2468.0Z" fill="rgba(0,0,0,0.072)"/>
<path d="M1181.0 2468.0C1297.0 2468.0 1297.0 2620.1 1413.1 2620.1L1413.1 2631.0C1297.0 2631.0 1297.0 2478.8 1181.0 2478.8Z" fill="rgba(0,0,0,0.072)"/>
<path d="M1181.2 2501.7C1297.1 2501.7 1297.1 2680.5 1413.1 2680.5L1413.1 2692.9C1297.1 2692.9 1297.1 2510.8 1181.2 2510.8Z" fill="rgba(0,0,0,0.072)"/>
<path d="M1181.5 2535.0C1297.3 2535.0 1297.3 2743.9 1413.1 2743.9L1413.1 2754.8C1297.3 2754.8 1297.3 2545.6 1181.5 2545.6Z" fill="rgba(0,0,0,0.072)"/>
<path d="M1181.5 2545.6C1297.3 2545.6 1297.3 2774.0 1413.1 2774.0L1413.1 2785.7C1297.3 2785.7 1297.3 2556.9 1181.5 2556.9Z" fill="rgba(0,0,0,0.072)"/>
<path d="M1181.5 2556.9C1297.3 2556.9 1297.3 2805.8 1413.1 2805.8L1413.1 2818.2C1297.3 2818.2 1297.3 2568.9 1181.5 2568.9Z" fill="rgba(0,0,0,0.072)"/>
<path d="M1181.5 2568.9C1297.3 2568.9 1297.3 2870.0 1413.1 2870.0L1413.1 2880.2C1297.3 2880.2 1297.3 2578.8 1181.5 2578.8Z" fill="rgba(0,0,0,0.072)"/>
<path d="M1181.8 2605.0C1297.5 2605.0 1297.5 2901.0 1413.1 2901.0L1413.1 2911.8C1297.5 2911.8 1297.5 2616.2 1181.8 2616.2Z" fill="rgba(0,0,0,0.072)"/>
<path d="M1182.2 2642.0C1297.6 2642.0 1297.6 2712.0 1413.1 2712.0L1413.1 2725.4C1297.6 2725.4 1297.6 2653.8 1182.2 2653.8Z" fill="rgba(0,0,0,0.072)"/>
<path d="M1183.1 2683.0C1298.1 2683.0 1298.1 2836.8 1413.1 2836.8L1413.1 2848.7C1298.1 2848.7 1298.1 2694.0 1183.1 2694.0Z" fill="rgba(0,0,0,0.072)"/>
<path d="M1184.1 2720.4C1298.6 2720.4 1298.6 2932.0 1413.1 2932.0L1413.1 2942.8C1298.6 2942.8 1298.6 2731.4 1184.1 2731.4Z" fill="rgba(0,0,0,0.072)"/>
<path d="M1184.1 2731.4C1298.6 2731.4 1298.6 2963.2 1413.1 2963.2L1413.1 2975.3C1298.6 2975.3 1298.6 2743.8 1184.1 2743.8Z" fill="rgba(0,0,0,0.072)"/>
<path d="M1184.1 2743.8C1298.6 2743.8 1298.6 3026.6 1413.1 3026.6L1413.1 3037.2C1298.6 3037.2 1298.6 2754.6 1184.1 2754.6Z" fill="rgba(0,0,0,0.072)"/>
<path d="M1184.6 2774.6C1298.8 2774.6 1298.8 3056.7 1413.1 3056.7L1413.1 3067.5C1298.8 3067.5 1298.8 2785.0 1184.6 2785.0Z" fill="rgba(0,0,0,0.072)"/>
<path d="M1184.9 2810.4C1299.0 2810.4 1299.0 2995.7 1413.1 2995.7L1413.1 3006.2C1299.0 3006.2 1299.0 2821.7 1184.9 2821.7Z" fill="rgba(0,0,0,0.072)"/>
<path d="M1185.3 2849.6C1299.2 2849.6 1299.2 3087.6 1413.1 3087.6L1413.1 3098.4C1299.2 3098.4 1299.2 2860.8 1185.3 2860.8Z" fill="rgba(0,0,0,0.072)"/>
<path d="M1185.9 2888.0C1299.5 2888.0 1299.5 3118.6 1413.1 3118.6L1413.1 3128.5C1299.5 3128.5 1299.5 2897.5 1185.9 2897.5Z" fill="rgba(0,0,0,0.072)"/>
<path d="M1186.6 2925.8C1299.9 2925.8 1299.9 3148.6 1413.1 3148.6L1413.1 3160.4C1299.9 3160.4 1299.9 2938.3 1186.6 2938.3Z" fill="rgba(0,0,0,0.072)"/>
<path d="M1189.4 2969.6C1301.3 2969.6 1301.3 3179.9 1413.1 3179.9L1413.1 3190.7C1301.3 3190.7 1301.3 2978.8 1189.4 2978.8Z" fill="rgba(0,0,0,0.072)"/>
<path d="M1462.1 1863.2C1670.6 1863.2 1670.6 2056.9 1879.1 2056.9L1879.1 2103.0C1670.6 2103.0 1670.6 1909.1 1462.1 1909.1Z" fill="rgba(226,0,0,0.2)"/>
<path d="M1462.1 2035.6C1670.6 2035.6 1670.6 2103.0 1879.1 2103.0L1879.1 2111.0C1670.6 2111.0 1670.6 2043.6 1462.1 2043.6Z" fill="rgba(226,0,0,0.2)"/>
<path d="M1462.1 1909.1C1670.4 1909.1 1670.4 2164.7 1878.7 2164.7L1878.7 2178.7C1670.4 2178.7 1670.4 1923.0 1462.1 1923.0Z" fill="rgba(226,0,0,0.2)"/>
<path d="M1462.1 2043.6C1670.4 2043.6 1670.4 2178.7 1878.7 2178.7L1878.7 2184.7C1670.4 2184.7 1670.4 2049.6 1462.1 2049.6Z" fill="rgba(226,0,0,0.2)"/>
<path d="M1462.1 1923.0C1670.2 1923.0 1670.2 2246.2 1878.3 2246.2L1878.3 2258.2C1670.2 2258.2 1670.2 1935.0 1462.1 1935.0Z" fill="rgba(226,0,0,0.2)"/>
<path d="M1462.1 2049.6C1670.2 2049.6 1670.2 2258.2 1878.3 2258.2L1878.3 2263.2C1670.2 2263.2 1670.2 2054.6 1462.1 2054.6Z" fill="rgba(226,0,0,0.2)"/>
<path d="M1462.1 1935.0C1670.1 1935.0 1670.1 2321.9 1878.0 2321.9L1878.0 2330.9C1670.1 2330.9 1670.1 1944.0 1462.1 1944.0Z" fill="rgba(226,0,0,0.2)"/>
<path d="M1462.1 2054.6C1670.1 2054.6 1670.1 2330.9 1878.0 2330.9L1878.0 2333.9C1670.1 2333.9 1670.1 2057.6 1462.1 2057.6Z" fill="rgba(226,0,0,0.2)"/>
<path d="M1462.1 1944.0C1670.2 1944.0 1670.2 2381.7 1878.4 2381.7L1878.4 2384.7C1670.2 2384.7 1670.2 1947.0 1462.1 1947.0Z" fill="rgba(226,0,0,0.2)"/>
<path d="M1462.1 2057.6C1670.2 2057.6 1670.2 2384.7 1878.4 2384.7L1878.4 2386.2C1670.2 2386.2 1670.2 2059.1 1462.1 2059.1Z" fill="rgba(226,0,0,0.2)"/>
<path d="M1462.1 1947.0C1670.4 1947.0 1670.4 2422.3 1878.8 2422.3L1878.8 2425.3C1670.4 2425.3 1670.4 1950.0 1462.1 1950.0Z" fill="rgba(226,0,0,0.2)"/>
<path d="M1462.1 2059.1C1670.4 2059.1 1670.4 2425.3 1878.8 2425.3L1878.8 2426.8C1670.4 2426.8 1670.4 2060.6 1462.1 2060.6Z" fill="rgba(226,0,0,0.2)"/>
<path d="M1462.1 1950.0C1670.6 1950.0 1670.6 2458.4 1879.1 2458.4L1879.1 2461.4C1670.6 2461.4 1670.6 1953.0 1462.1 1953.0Z" fill="rgba(226,0,0,0.2)"/>
<path d="M1462.1 2060.6C1670.6 2060.6 1670.6 2461.4 1879.1 2461.4L1879.1 2462.9C1670.6 2462.9 1670.6 2062.1 1462.1 2062.1Z" fill="rgba(226,0,0,0.2)"/>
<path d="M1462.1 1953.0C1670.9 1953.0 1670.9 2497.9 1879.6 2497.9L1879.6 2501.9C1670.9 2501.9 1670.9 1957.0 1462.1 1957.0Z" fill="rgba(226,0,0,0.2)"/>
<path d="M1462.1 2062.1C1670.9 2062.1 1670.9 2501.9 1879.6 2501.9L1879.6 2503.4C1670.9 2503.4 1670.9 2063.6 1462.1 2063.6Z" fill="rgba(226,0,0,0.2)"/>
<path d="M1462.1 1957.0C1673.1 1957.0 1673.1 2599.9 1884.0 2599.9L1884.0 2645.0C1673.1 2645.0 1673.1 2001.8 1462.1 2001.8Z" fill="rgba(226,0,0,0.2)"/>
<path d="M1462.1 2063.6C1673.1 2063.6 1673.1 2645.0 1884.0 2645.0L1884.0 2654.0C1673.1 2654.0 1673.1 2072.6 1462.1 2072.6Z" fill="rgba(226,0,0,0.2)"/>
<path d="M1462.1 2001.8C1675.2 2001.8 1675.2 2860.0 1888.2 2860.0L1888.2 2869.0C1675.2 2869.0 1675.2 2010.8 1462.1 2010.8Z" fill="rgba(226,0,0,0.2)"/>
<path d="M1462.1 2072.6C1675.2 2072.6 1675.2 2869.0 1888.2 2869.0L1888.2 2871.5C1675.2 2871.5 1675.2 2075.1 1462.1 2075.1Z" fill="rgba(226,0,0,0.2)"/>
<path d="M1462.1 2010.8C1675.7 2010.8 1675.7 2926.6 1889.3 2926.6L1889.3 2931.6C1675.7 2931.6 1675.7 2015.8 1462.1 2015.8Z" fill="rgba(226,0,0,0.2)"/>
<path d="M1462.1 2075.1C1675.7 2075.1 1675.7 2931.6 1889.3 2931.6L1889.3 2933.3C1675.7 2933.3 1675.7 2076.8 1462.1 2076.8Z" fill="rgba(226,0,0,0.2)"/>
<path d="M1462.1 2096.3C1670.6 2096.3 1670.6 2111.0 1879.1 2111.0L1879.1 2113.2C1670.6 2113.2 1670.6 2098.5 1462.1 2098.5Z" fill="rgba(240,60,50,0.2)" stroke="rgba(240,60,50,0.2)" stroke-width="0.5"/>
<path d="M1462.1 2098.5C1670.4 2098.5 1670.4 2184.7 1878.7 2184.7L1878.7 2187.1C1670.4 2187.1 1670.4 2100.9 1462.1 2100.9Z" fill="rgba(240,60,50,0.2)" stroke="rgba(240,60,50,0.2)" stroke-width="0.5"/>
<path d="M1462.1 2100.9C1670.2 2100.9 1670.2 2263.2 1878.3 2263.2L1878.3 2265.1C1670.2 2265.1 1670.2 2102.8 1462.1 2102.8Z" fill="rgba(240,60,50,0.2)" stroke="rgba(240,60,50,0.2)" stroke-width="0.5"/>
<path d="M1462.1 2102.8C1670.1 2102.8 1670.1 2333.9 1878.0 2333.9L1878.0 2335.1C1670.1 2335.1 1670.1 2103.9 1462.1 2103.9Z" fill="rgba(240,60,50,0.2)" stroke="rgba(240,60,50,0.2)" stroke-width="0.5"/>
<path d="M1462.1 2103.9C1670.2 2103.9 1670.2 2386.2 1878.4 2386.2L1878.4 2386.7C1670.2 2386.7 1670.2 2104.4 1462.1 2104.4Z" fill="rgba(240,60,50,0.2)" stroke="rgba(240,60,50,0.2)" stroke-width="0.5"/>
<path d="M1462.1 2104.4C1670.4 2104.4 1670.4 2426.8 1878.8 2426.8L1878.8 2427.2C1670.4 2427.2 1670.4 2104.8 1462.1 2104.8Z" fill="rgba(240,60,50,0.2)" stroke="rgba(240,60,50,0.2)" stroke-width="0.5"/>
<path d="M1462.1 2104.8C1670.6 2104.8 1670.6 2462.9 1879.1 2462.9L1879.1 2463.3C1670.6 2463.3 1670.6 2105.2 1462.1 2105.2Z" fill="rgba(240,60,50,0.2)" stroke="rgba(240,60,50,0.2)" stroke-width="0.5"/>
<path d="M1462.1 2105.2C1670.9 2105.2 1670.9 2503.4 1879.6 2503.4L1879.6 2503.8C1670.9 2503.8 1670.9 2105.6 1462.1 2105.6Z" fill="rgba(240,60,50,0.2)" stroke="rgba(240,60,50,0.2)" stroke-width="0.5"/>
<path d="M1462.1 2105.6C1673.1 2105.6 1673.1 2654.0 1884.0 2654.0L1884.0 2655.3C1673.1 2655.3 1673.1 2106.9 1462.1 2106.9Z" fill="rgba(240,60,50,0.2)" stroke="rgba(240,60,50,0.2)" stroke-width="0.5"/>
<path d="M1462.1 2106.9C1675.2 2106.9 1675.2 2871.5 1888.2 2871.5L1888.2 2871.7C1675.2 2871.7 1675.2 2107.0 1462.1 2107.0Z" fill="rgba(240,60,50,0.2)" stroke="rgba(240,60,50,0.2)" stroke-width="0.5"/>
<path d="M1462.1 2107.0C1675.7 2107.0 1675.7 2933.3 1889.3 2933.3L1889.3 2933.4C1675.7 2933.4 1675.7 2107.1 1462.1 2107.1Z" fill="rgba(240,60,50,0.2)" stroke="rgba(240,60,50,0.2)" stroke-width="0.5"/>
<path d="M1462.1 2127.9C1670.6 2127.9 1670.6 2113.2 1879.1 2113.2L1879.1 2115.3C1670.6 2115.3 1670.6 2130.0 1462.1 2130.0Z" fill="rgba(240,60,50,0.2)" stroke="rgba(240,60,50,0.2)" stroke-width="0.5"/>
<path d="M1462.1 2130.0C1670.4 2130.0 1670.4 2187.1 1878.7 2187.1L1878.7 2189.5C1670.4 2189.5 1670.4 2132.3 1462.1 2132.3Z" fill="rgba(240,60,50,0.2)" stroke="rgba(240,60,50,0.2)" stroke-width="0.5"/>
<path d="M1462.1 2132.3C1670.2 2132.3 1670.2 2265.1 1878.3 2265.1L1878.3 2266.9C1670.2 2266.9 1670.2 2134.2 1462.1 2134.2Z" fill="rgba(240,60,50,0.2)" stroke="rgba(240,60,50,0.2)" stroke-width="0.5"/>
<path d="M1462.1 2134.2C1670.1 2134.2 1670.1 2335.1 1878.0 2335.1L1878.0 2336.2C1670.1 2336.2 1670.1 2135.3 1462.1 2135.3Z" fill="rgba(240,60,50,0.2)" stroke="rgba(240,60,50,0.2)" stroke-width="0.5"/>
<path d="M1462.1 2135.3C1670.2 2135.3 1670.2 2386.7 1878.4 2386.7L1878.4 2387.3C1670.2 2387.3 1670.2 2135.9 1462.1 2135.9Z" fill="rgba(240,60,50,0.2)" stroke="rgba(240,60,50,0.2)" stroke-width="0.5"/>
<path d="M1462.1 2135.9C1670.4 2135.9 1670.4 2427.2 1878.8 2427.2L1878.8 2427.6C1670.4 2427.6 1670.4 2136.3 1462.1 2136.3Z" fill="rgba(240,60,50,0.2)" stroke="rgba(240,60,50,0.2)" stroke-width="0.5"/>
<path d="M1462.1 2136.3C1670.6 2136.3 1670.6 2463.3 1879.1 2463.3L1879.1 2463.6C1670.6 2463.6 1670.6 2136.6 1462.1 2136.6Z" fill="rgba(240,60,50,0.2)" stroke="rgba(240,60,50,0.2)" stroke-width="0.5"/>
<path d="M1462.1 2136.6C1670.9 2136.6 1670.9 2503.8 1879.6 2503.8L1879.6 2504.2C1670.9 2504.2 1670.9 2137.1 1462.1 2137.1Z" fill="rgba(240,60,50,0.2)" stroke="rgba(240,60,50,0.2)" stroke-width="0.5"/>
<path d="M1462.1 2137.1C1673.1 2137.1 1673.1 2655.3 1884.0 2655.3L1884.0 2656.7C1673.1 2656.7 1673.1 2138.5 1462.1 2138.5Z" fill="rgba(240,60,50,0.2)" stroke="rgba(240,60,50,0.2)" stroke-width="0.5"/>
<path d="M1462.1 2138.5C1675.2 2138.5 1675.2 2871.7 1888.2 2871.7L1888.2 2871.8C1675.2 2871.8 1675.2 2138.6 1462.1 2138.6Z" fill="rgba(240,60,50,0.2)" stroke="rgba(240,60,50,0.2)" stroke-width="0.5"/>
<path d="M1462.1 2138.6C1675.7 2138.6 1675.7 2933.4 1889.3 2933.4L1889.3 2933.5C1675.7 2933.5 1675.7 2138.7 1462.1 2138.7Z" fill="rgba(240,60,50,0.2)" stroke="rgba(240,60,50,0.2)" stroke-width="0.5"/>
<path d="M1462.1 2158.8C1670.6 2158.8 1670.6 2115.3 1879.1 2115.3L1879.1 2117.3C1670.6 2117.3 1670.6 2160.8 1462.1 2160.8Z" fill="rgba(60,180,130,0.18)" stroke="rgba(60,180,130,0.18)" stroke-width="0.5"/>
<path d="M1462.1 2160.8C1670.4 2160.8 1670.4 2189.5 1878.7 2189.5L1878.7 2191.8C1670.4 2191.8 1670.4 2163.1 1462.1 2163.1Z" fill="rgba(60,180,130,0.18)" stroke="rgba(60,180,130,0.18)" stroke-width="0.5"/>
<path d="M1462.1 2163.1C1670.2 2163.1 1670.2 2266.9 1878.3 2266.9L1878.3 2268.7C1670.2 2268.7 1670.2 2164.9 1462.1 2164.9Z" fill="rgba(60,180,130,0.18)" stroke="rgba(60,180,130,0.18)" stroke-width="0.5"/>
<path d="M1462.1 2164.9C1670.1 2164.9 1670.1 2336.2 1878.0 2336.2L1878.0 2337.4C1670.1 2337.4 1670.1 2166.1 1462.1 2166.1Z" fill="rgba(60,180,130,0.18)" stroke="rgba(60,180,130,0.18)" stroke-width="0.5"/>
<path d="M1462.1 2166.1C1670.2 2166.1 1670.2 2387.3 1878.4 2387.3L1878.4 2387.8C1670.2 2387.8 1670.2 2166.6 1462.1 2166.6Z" fill="rgba(60,180,130,0.18)" stroke="rgba(60,180,130,0.18)" stroke-width="0.5"/>
<path d="M1462.1 2166.6C1670.4 2166.6 1670.4 2427.6 1878.8 2427.6L1878.8 2428.0C1670.4 2428.0 1670.4 2167.0 1462.1 2167.0Z" fill="rgba(60,180,130,0.18)" stroke="rgba(60,180,130,0.18)" stroke-width="0.5"/>
<path d="M1462.1 2167.0C1670.6 2167.0 1670.6 2463.6 1879.1 2463.6L1879.1 2464.0C1670.6 2464.0 1670.6 2167.4 1462.1 2167.4Z" fill="rgba(60,180,130,0.18)" stroke="rgba(60,180,130,0.18)" stroke-width="0.5"/>
<path d="M1462.1 2167.4C1670.9 2167.4 1670.9 2504.2 1879.6 2504.2L1879.6 2504.6C1670.9 2504.6 1670.9 2167.8 1462.1 2167.8Z" fill="rgba(60,180,130,0.18)" stroke="rgba(60,180,130,0.18)" stroke-width="0.5"/>
<path d="M1462.1 2167.8C1673.1 2167.8 1673.1 2656.7 1884.0 2656.7L1884.0 2658.2C1673.1 2658.2 1673.1 2169.3 1462.1 2169.3Z" fill="rgba(60,180,130,0.18)" stroke="rgba(60,180,130,0.18)" stroke-width="0.5"/>
<path d="M1462.1 2169.3C1675.2 2169.3 1675.2 2871.8 1888.2 2871.8L1888.2 2872.0C1675.2 2872.0 1675.2 2169.5 1462.1 2169.5Z" fill="rgba(60,180,130,0.18)" stroke="rgba(60,180,130,0.18)" stroke-width="0.5"/>
<path d="M1462.1 2169.5C1675.7 2169.5 1675.7 2933.5 1889.3 2933.5L1889.3 2933.6C1675.7 2933.6 1675.7 2169.6 1462.1 2169.6Z" fill="rgba(60,180,130,0.18)" stroke="rgba(60,180,130,0.18)" stroke-width="0.5"/>
<path d="M1462.1 2189.8C1670.6 2189.8 1670.6 2117.3 1879.1 2117.3L1879.1 2119.3C1670.6 2119.3 1670.6 2191.8 1462.1 2191.8Z" fill="rgba(60,180,130,0.18)" stroke="rgba(60,180,130,0.18)" stroke-width="0.5"/>
<path d="M1462.1 2191.8C1670.4 2191.8 1670.4 2191.8 1878.7 2191.8L1878.7 2194.1C1670.4 2194.1 1670.4 2194.1 1462.1 2194.1Z" fill="rgba(60,180,130,0.18)" stroke="rgba(60,180,130,0.18)" stroke-width="0.5"/>
<path d="M1462.1 2194.1C1670.2 2194.1 1670.2 2268.7 1878.3 2268.7L1878.3 2270.6C1670.2 2270.6 1670.2 2196.0 1462.1 2196.0Z" fill="rgba(60,180,130,0.18)" stroke="rgba(60,180,130,0.18)" stroke-width="0.5"/>
<path d="M1462.1 2196.0C1670.1 2196.0 1670.1 2337.4 1878.0 2337.4L1878.0 2338.6C1670.1 2338.6 1670.1 2197.3 1462.1 2197.3Z" fill="rgba(60,180,130,0.18)" stroke="rgba(60,180,130,0.18)" stroke-width="0.5"/>
<path d="M1462.1 2197.3C1670.2 2197.3 1670.2 2387.8 1878.4 2387.8L1878.4 2388.4C1670.2 2388.4 1670.2 2197.8 1462.1 2197.8Z" fill="rgba(60,180,130,0.18)" stroke="rgba(60,180,130,0.18)" stroke-width="0.5"/>
<path d="M1462.1 2197.8C1670.4 2197.8 1670.4 2428.0 1878.8 2428.0L1878.8 2428.4C1670.4 2428.4 1670.4 2198.3 1462.1 2198.3Z" fill="rgba(60,180,130,0.18)" stroke="rgba(60,180,130,0.18)" stroke-width="0.5"/>
<path d="M1462.1 2198.3C1670.6 2198.3 1670.6 2464.0 1879.1 2464.0L1879.1 2464.5C1670.6 2464.5 1670.6 2198.7 1462.1 2198.7Z" fill="rgba(60,180,130,0.18)" stroke="rgba(60,180,130,0.18)" stroke-width="0.5"/>
<path d="M1462.1 2198.7C1670.9 2198.7 1670.9 2504.6 1879.6 2504.6L1879.6 2505.1C1670.9 2505.1 1670.9 2199.2 1462.1 2199.2Z" fill="rgba(60,180,130,0.18)" stroke="rgba(60,180,130,0.18)" stroke-width="0.5"/>
<path d="M1462.1 2199.2C1673.1 2199.2 1673.1 2658.2 1884.0 2658.2L1884.0 2659.9C1673.1 2659.9 1673.1 2200.9 1462.1 2200.9Z" fill="rgba(60,180,130,0.18)" stroke="rgba(60,180,130,0.18)" stroke-width="0.5"/>
<path d="M1462.1 2200.9C1675.2 2200.9 1675.2 2872.0 1888.2 2872.0L1888.2 2872.2C1675.2 2872.2 1675.2 2201.1 1462.1 2201.1Z" fill="rgba(60,180,130,0.18)" stroke="rgba(60,180,130,0.18)" stroke-width="0.5"/>
<path d="M1462.1 2201.1C1675.7 2201.1 1675.7 2933.6 1889.3 2933.6L1889.3 2933.8C1675.7 2933.8 1675.7 2201.2 1462.1 2201.2Z" fill="rgba(60,180,130,0.18)" stroke="rgba(60,180,130,0.18)" stroke-width="0.5"/>
<path d="M1462.1 2222.3C1670.6 2222.3 1670.6 2119.3 1879.1 2119.3L1879.1 2121.2C1670.6 2121.2 1670.6 2224.2 1462.1 2224.2Z" fill="rgba(240,60,50,0.2)" stroke="rgba(240,60,50,0.2)" stroke-width="0.5"/>
<path d="M1462.1 2224.2C1670.4 2224.2 1670.4 2194.1 1878.7 2194.1L1878.7 2196.4C1670.4 2196.4 1670.4 2226.5 1462.1 2226.5Z" fill="rgba(240,60,50,0.2)" stroke="rgba(240,60,50,0.2)" stroke-width="0.5"/>
<path d="M1462.1 2226.5C1670.2 2226.5 1670.2 2270.6 1878.3 2270.6L1878.3 2272.5C1670.2 2272.5 1670.2 2228.3 1462.1 2228.3Z" fill="rgba(240,60,50,0.2)" stroke="rgba(240,60,50,0.2)" stroke-width="0.5"/>
<path d="M1462.1 2228.3C1670.1 2228.3 1670.1 2338.6 1878.0 2338.6L1878.0 2339.9C1670.1 2339.9 1670.1 2229.5 1462.1 2229.5Z" fill="rgba(240,60,50,0.2)" stroke="rgba(240,60,50,0.2)" stroke-width="0.5"/>
<path d="M1462.1 2229.5C1670.2 2229.5 1670.2 2388.4 1878.4 2388.4L1878.4 2389.0C1670.2 2389.0 1670.2 2230.1 1462.1 2230.1Z" fill="rgba(240,60,50,0.2)" stroke="rgba(240,60,50,0.2)" stroke-width="0.5"/>
<path d="M1462.1 2230.1C1670.4 2230.1 1670.4 2428.4 1878.8 2428.4L1878.8 2428.9C1670.4 2428.9 1670.4 2230.6 1462.1 2230.6Z" fill="rgba(240,60,50,0.2)" stroke="rgba(240,60,50,0.2)" stroke-width="0.5"/>
<path d="M1462.1 2230.6C1670.6 2230.6 1670.6 2464.5 1879.1 2464.5L1879.1 2464.9C1670.6 2464.9 1670.6 2231.0 1462.1 2231.0Z" fill="rgba(240,60,50,0.2)" stroke="rgba(240,60,50,0.2)" stroke-width="0.5"/>
<path d="M1462.1 2231.0C1670.9 2231.0 1670.9 2505.1 1879.6 2505.1L1879.6 2505.6C1670.9 2505.6 1670.9 2231.5 1462.1 2231.5Z" fill="rgba(240,60,50,0.2)" stroke="rgba(240,60,50,0.2)" stroke-width="0.5"/>
<path d="M1462.1 2231.5C1673.1 2231.5 1673.1 2659.9 1884.0 2659.9L1884.0 2661.8C1673.1 2661.8 1673.1 2233.3 1462.1 2233.3Z" fill="rgba(240,60,50,0.2)" stroke="rgba(240,60,50,0.2)" stroke-width="0.5"/>
<path d="M1462.1 2233.3C1675.2 2233.3 1675.2 2872.2 1888.2 2872.2L1888.2 2872.4C1675.2 2872.4 1675.2 2233.6 1462.1 2233.6Z" fill="rgba(240,60,50,0.2)" stroke="rgba(240,60,50,0.2)" stroke-width="0.5"/>
<path d="M1462.1 2233.6C1675.7 2233.6 1675.7 2933.8 1889.3 2933.8L1889.3 2933.9C1675.7 2933.9 1675.7 2233.7 1462.1 2233.7Z" fill="rgba(240,60,50,0.2)" stroke="rgba(240,60,50,0.2)" stroke-width="0.5"/>
<path d="M1462.1 2254.8C1670.6 2254.8 1670.6 2121.2 1879.1 2121.2L1879.1 2122.4C1670.6 2122.4 1670.6 2256.0 1462.1 2256.0Z" fill="rgba(240,60,50,0.2)" stroke="rgba(240,60,50,0.2)" stroke-width="0.5"/>
<path d="M1462.1 2256.0C1670.4 2256.0 1670.4 2196.4 1878.7 2196.4L1878.7 2197.8C1670.4 2197.8 1670.4 2257.5 1462.1 2257.5Z" fill="rgba(240,60,50,0.2)" stroke="rgba(240,60,50,0.2)" stroke-width="0.5"/>
<path d="M1462.1 2257.5C1670.2 2257.5 1670.2 2272.5 1878.3 2272.5L1878.3 2273.7C1670.2 2273.7 1670.2 2258.7 1462.1 2258.7Z" fill="rgba(240,60,50,0.2)" stroke="rgba(240,60,50,0.2)" stroke-width="0.5"/>
<path d="M1462.1 2258.7C1670.1 2258.7 1670.1 2339.9 1878.0 2339.9L1878.0 2340.7C1670.1 2340.7 1670.1 2259.6 1462.1 2259.6Z" fill="rgba(240,60,50,0.2)" stroke="rgba(240,60,50,0.2)" stroke-width="0.5"/>
<path d="M1462.1 2259.6C1670.2 2259.6 1670.2 2389.0 1878.4 2389.0L1878.4 2389.4C1670.2 2389.4 1670.2 2260.0 1462.1 2260.0Z" fill="rgba(240,60,50,0.2)" stroke="rgba(240,60,50,0.2)" stroke-width="0.5"/>
<path d="M1462.1 2260.0C1670.4 2260.0 1670.4 2428.9 1878.8 2428.9L1878.8 2429.2C1670.4 2429.2 1670.4 2260.3 1462.1 2260.3Z" fill="rgba(240,60,50,0.2)" stroke="rgba(240,60,50,0.2)" stroke-width="0.5"/>
<path d="M1462.1 2260.3C1670.6 2260.3 1670.6 2464.9 1879.1 2464.9L1879.1 2465.2C1670.6 2465.2 1670.6 2260.6 1462.1 2260.6Z" fill="rgba(240,60,50,0.2)" stroke="rgba(240,60,50,0.2)" stroke-width="0.5"/>
<path d="M1462.1 2260.6C1670.9 2260.6 1670.9 2505.6 1879.6 2505.6L1879.6 2505.9C1670.9 2505.9 1670.9 2260.9 1462.1 2260.9Z" fill="rgba(240,60,50,0.2)" stroke="rgba(240,60,50,0.2)" stroke-width="0.5"/>
<path d="M1462.1 2260.9C1673.1 2260.9 1673.1 2661.8 1884.0 2661.8L1884.0 2663.1C1673.1 2663.1 1673.1 2262.2 1462.1 2262.2Z" fill="rgba(240,60,50,0.2)" stroke="rgba(240,60,50,0.2)" stroke-width="0.5"/>
<path d="M1462.1 2262.2C1675.2 2262.2 1675.2 2872.4 1888.2 2872.4L1888.2 2872.5C1675.2 2872.5 1675.2 2262.4 1462.1 2262.4Z" fill="rgba(240,60,50,0.2)" stroke="rgba(240,60,50,0.2)" stroke-width="0.5"/>
<path d="M1462.1 2262.4C1675.7 2262.4 1675.7 2933.9 1889.3 2933.9L1889.3 2934.0C1675.7 2934.0 1675.7 2262.5 1462.1 2262.5Z" fill="rgba(240,60,50,0.2)" stroke="rgba(240,60,50,0.2)" stroke-width="0.5"/>
<path d="M1462.1 2282.6C1670.6 2282.6 1670.6 2122.4 1879.1 2122.4L1879.1 2124.2C1670.6 2124.2 1670.6 2284.4 1462.1 2284.4Z" fill="rgba(60,180,130,0.18)" stroke="rgba(60,180,130,0.18)" stroke-width="0.5"/>
<path d="M1462.1 2284.4C1670.4 2284.4 1670.4 2197.8 1878.7 2197.8L1878.7 2200.0C1670.4 2200.0 1670.4 2286.5 1462.1 2286.5Z" fill="rgba(60,180,130,0.18)" stroke="rgba(60,180,130,0.18)" stroke-width="0.5"/>
<path d="M1462.1 2286.5C1670.2 2286.5 1670.2 2273.7 1878.3 2273.7L1878.3 2275.6C1670.2 2275.6 1670.2 2288.4 1462.1 2288.4Z" fill="rgba(60,180,130,0.18)" stroke="rgba(60,180,130,0.18)" stroke-width="0.5"/>
<path d="M1462.1 2288.4C1670.1 2288.4 1670.1 2340.7 1878.0 2340.7L1878.0 2342.0C1670.1 2342.0 1670.1 2289.7 1462.1 2289.7Z" fill="rgba(60,180,130,0.18)" stroke="rgba(60,180,130,0.18)" stroke-width="0.5"/>
<path d="M1462.1 2289.7C1670.2 2289.7 1670.2 2389.4 1878.4 2389.4L1878.4 2390.1C1670.2 2390.1 1670.2 2290.3 1462.1 2290.3Z" fill="rgba(60,180,130,0.18)" stroke="rgba(60,180,130,0.18)" stroke-width="0.5"/>
<path d="M1462.1 2290.3C1670.4 2290.3 1670.4 2429.2 1878.8 2429.2L1878.8 2429.7C1670.4 2429.7 1670.4 2290.8 1462.1 2290.8Z" fill="rgba(60,180,130,0.18)" stroke="rgba(60,180,130,0.18)" stroke-width="0.5"/>
<path d="M1462.1 2290.8C1670.6 2290.8 1670.6 2465.2 1879.1 2465.2L1879.1 2465.7C1670.6 2465.7 1670.6 2291.2 1462.1 2291.2Z" fill="rgba(60,180,130,0.18)" stroke="rgba(60,180,130,0.18)" stroke-width="0.5"/>
<path d="M1462.1 2291.2C1670.9 2291.2 1670.9 2505.9 1879.6 2505.9L1879.6 2506.5C1670.9 2506.5 1670.9 2291.8 1462.1 2291.8Z" fill="rgba(60,180,130,0.18)" stroke="rgba(60,180,130,0.18)" stroke-width="0.5"/>
<path d="M1462.1 2291.8C1673.1 2291.8 1673.1 2663.1 1884.0 2663.1L1884.0 2665.3C1673.1 2665.3 1673.1 2294.0 1462.1 2294.0Z" fill="rgba(60,180,130,0.18)" stroke="rgba(60,180,130,0.18)" stroke-width="0.5"/>
<path d="M1462.1 2294.0C1675.2 2294.0 1675.2 2872.5 1888.2 2872.5L1888.2 2872.8C1675.2 2872.8 1675.2 2294.2 1462.1 2294.2Z" fill="rgba(60,180,130,0.18)" stroke="rgba(60,180,130,0.18)" stroke-width="0.5"/>
<path d="M1462.1 2294.2C1675.7 2294.2 1675.7 2934.0 1889.3 2934.0L1889.3 2934.2C1675.7 2934.2 1675.7 2294.4 1462.1 2294.4Z" fill="rgba(60,180,130,0.18)" stroke="rgba(60,180,130,0.18)" stroke-width="0.5"/>
<path d="M1462.1 2315.1C1670.6 2315.1 1670.6 2124.2 1879.1 2124.2L1879.1 2125.7C1670.6 2125.7 1670.6 2316.6 1462.1 2316.6Z" fill="rgba(226,0,0,0.2)" stroke="rgba(226,0,0,0.2)" stroke-width="0.5"/>
<path d="M1462.1 2316.6C1670.4 2316.6 1670.4 2200.0 1878.7 2200.0L1878.7 2202.0C1670.4 2202.0 1670.4 2318.6 1462.1 2318.6Z" fill="rgba(226,0,0,0.2)" stroke="rgba(226,0,0,0.2)" stroke-width="0.5"/>
<path d="M1462.1 2318.6C1670.2 2318.6 1670.2 2275.6 1878.3 2275.6L1878.3 2277.2C1670.2 2277.2 1670.2 2320.2 1462.1 2320.2Z" fill="rgba(226,0,0,0.2)" stroke="rgba(226,0,0,0.2)" stroke-width="0.5"/>
<path d="M1462.1 2320.2C1670.1 2320.2 1670.1 2342.0 1878.0 2342.0L1878.0 2343.1C1670.1 2343.1 1670.1 2321.4 1462.1 2321.4Z" fill="rgba(226,0,0,0.2)" stroke="rgba(226,0,0,0.2)" stroke-width="0.5"/>
<path d="M1462.1 2321.4C1670.2 2321.4 1670.2 2390.1 1878.4 2390.1L1878.4 2390.6C1670.2 2390.6 1670.2 2322.0 1462.1 2322.0Z" fill="rgba(226,0,0,0.2)" stroke="rgba(226,0,0,0.2)" stroke-width="0.5"/>
<path d="M1462.1 2322.0C1670.4 2322.0 1670.4 2429.7 1878.8 2429.7L1878.8 2430.1C1670.4 2430.1 1670.4 2322.4 1462.1 2322.4Z" fill="rgba(226,0,0,0.2)" stroke="rgba(226,0,0,0.2)" stroke-width="0.5"/>
<path d="M1462.1 2322.4C1670.6 2322.4 1670.6 2465.7 1879.1 2465.7L1879.1 2466.1C1670.6 2466.1 1670.6 2322.9 1462.1 2322.9Z" fill="rgba(226,0,0,0.2)" stroke="rgba(226,0,0,0.2)" stroke-width="0.5"/>
<path d="M1462.1 2322.9C1670.9 2322.9 1670.9 2506.5 1879.6 2506.5L1879.6 2507.0C1670.9 2507.0 1670.9 2323.4 1462.1 2323.4Z" fill="rgba(226,0,0,0.2)" stroke="rgba(226,0,0,0.2)" stroke-width="0.5"/>
<path d="M1462.1 2323.4C1673.1 2323.4 1673.1 2665.3 1884.0 2665.3L1884.0 2667.5C1673.1 2667.5 1673.1 2325.5 1462.1 2325.5Z" fill="rgba(226,0,0,0.2)" stroke="rgba(226,0,0,0.2)" stroke-width="0.5"/>
<path d="M1462.1 2325.5C1675.2 2325.5 1675.2 2872.8 1888.2 2872.8L1888.2 2873.0C1675.2 2873.0 1675.2 2325.8 1462.1 2325.8Z" fill="rgba(226,0,0,0.2)" stroke="rgba(226,0,0,0.2)" stroke-width="0.5"/>
<path d="M1462.1 2325.8C1675.7 2325.8 1675.7 2934.2 1889.3 2934.2L1889.3 2934.4C1675.7 2934.4 1675.7 2326.0 1462.1 2326.0Z" fill="rgba(226,0,0,0.2)" stroke="rgba(226,0,0,0.2)" stroke-width="0.5"/>
<path d="M1462.1 2346.5C1670.6 2346.5 1670.6 2125.7 1879.1 2125.7L1879.1 2126.9C1670.6 2126.9 1670.6 2347.7 1462.1 2347.7Z" fill="rgba(0,160,72,0.2)" stroke="rgba(0,160,72,0.2)" stroke-width="0.5"/>
<path d="M1462.1 2347.7C1670.4 2347.7 1670.4 2202.0 1878.7 2202.0L1878.7 2203.5C1670.4 2203.5 1670.4 2349.2 1462.1 2349.2Z" fill="rgba(0,160,72,0.2)" stroke="rgba(0,160,72,0.2)" stroke-width="0.5"/>
<path d="M1462.1 2349.2C1670.2 2349.2 1670.2 2277.2 1878.3 2277.2L1878.3 2278.6C1670.2 2278.6 1670.2 2350.6 1462.1 2350.6Z" fill="rgba(0,160,72,0.2)" stroke="rgba(0,160,72,0.2)" stroke-width="0.5"/>
<path d="M1462.1 2350.6C1670.1 2350.6 1670.1 2343.1 1878.0 2343.1L1878.0 2344.1C1670.1 2344.1 1670.1 2351.5 1462.1 2351.5Z" fill="rgba(0,160,72,0.2)" stroke="rgba(0,160,72,0.2)" stroke-width="0.5"/>
<path d="M1462.1 2351.5C1670.2 2351.5 1670.2 2390.6 1878.4 2390.6L1878.4 2391.1C1670.2 2391.1 1670.2 2352.0 1462.1 2352.0Z" fill="rgba(0,160,72,0.2)" stroke="rgba(0,160,72,0.2)" stroke-width="0.5"/>
<path d="M1462.1 2352.0C1670.4 2352.0 1670.4 2430.1 1878.8 2430.1L1878.8 2430.5C1670.4 2430.5 1670.4 2352.4 1462.1 2352.4Z" fill="rgba(0,160,72,0.2)" stroke="rgba(0,160,72,0.2)" stroke-width="0.5"/>
<path d="M1462.1 2352.4C1670.6 2352.4 1670.6 2466.1 1879.1 2466.1L1879.1 2466.5C1670.6 2466.5 1670.6 2352.7 1462.1 2352.7Z" fill="rgba(0,160,72,0.2)" stroke="rgba(0,160,72,0.2)" stroke-width="0.5"/>
<path d="M1462.1 2352.7C1670.9 2352.7 1670.9 2507.0 1879.6 2507.0L1879.6 2507.4C1670.9 2507.4 1670.9 2353.2 1462.1 2353.2Z" fill="rgba(0,160,72,0.2)" stroke="rgba(0,160,72,0.2)" stroke-width="0.5"/>
<path d="M1462.1 2353.2C1673.1 2353.2 1673.1 2667.5 1884.0 2667.5L1884.0 2669.4C1673.1 2669.4 1673.1 2355.1 1462.1 2355.1Z" fill="rgba(0,160,72,0.2)" stroke="rgba(0,160,72,0.2)" stroke-width="0.5"/>
<path d="M1462.1 2355.1C1675.2 2355.1 1675.2 2873.0 1888.2 2873.0L1888.2 2873.3C1675.2 2873.3 1675.2 2355.3 1462.1 2355.3Z" fill="rgba(0,160,72,0.2)" stroke="rgba(0,160,72,0.2)" stroke-width="0.5"/>
<path d="M1462.1 2355.3C1675.7 2355.3 1675.7 2934.4 1889.3 2934.4L1889.3 2934.6C1675.7 2934.6 1675.7 2355.5 1462.1 2355.5Z" fill="rgba(0,160,72,0.2)" stroke="rgba(0,160,72,0.2)" stroke-width="0.5"/>
<path d="M1462.1 2375.6C1670.6 2375.6 1670.6 2126.9 1879.1 2126.9L1879.1 2128.3C1670.6 2128.3 1670.6 2377.0 1462.1 2377.0Z" fill="rgba(240,60,50,0.2)" stroke="rgba(240,60,50,0.2)" stroke-width="0.5"/>
<path d="M1462.1 2377.0C1670.4 2377.0 1670.4 2203.5 1878.7 2203.5L1878.7 2205.4C1670.4 2205.4 1670.4 2378.9 1462.1 2378.9Z" fill="rgba(240,60,50,0.2)" stroke="rgba(240,60,50,0.2)" stroke-width="0.5"/>
<path d="M1462.1 2378.9C1670.2 2378.9 1670.2 2278.6 1878.3 2278.6L1878.3 2280.3C1670.2 2280.3 1670.2 2380.5 1462.1 2380.5Z" fill="rgba(240,60,50,0.2)" stroke="rgba(240,60,50,0.2)" stroke-width="0.5"/>
<path d="M1462.1 2380.5C1670.1 2380.5 1670.1 2344.1 1878.0 2344.1L1878.0 2345.3C1670.1 2345.3 1670.1 2381.7 1462.1 2381.7Z" fill="rgba(240,60,50,0.2)" stroke="rgba(240,60,50,0.2)" stroke-width="0.5"/>
<path d="M1462.1 2381.7C1670.2 2381.7 1670.2 2391.1 1878.4 2391.1L1878.4 2391.7C1670.2 2391.7 1670.2 2382.3 1462.1 2382.3Z" fill="rgba(240,60,50,0.2)" stroke="rgba(240,60,50,0.2)" stroke-width="0.5"/>
<path d="M1462.1 2382.3C1670.4 2382.3 1670.4 2430.5 1878.8 2430.5L1878.8 2431.0C1670.4 2431.0 1670.4 2382.8 1462.1 2382.8Z" fill="rgba(240,60,50,0.2)" stroke="rgba(240,60,50,0.2)" stroke-width="0.5"/>
<path d="M1462.1 2382.8C1670.6 2382.8 1670.6 2466.5 1879.1 2466.5L1879.1 2466.9C1670.6 2466.9 1670.6 2383.3 1462.1 2383.3Z" fill="rgba(240,60,50,0.2)" stroke="rgba(240,60,50,0.2)" stroke-width="0.5"/>
<path d="M1462.1 2383.3C1670.9 2383.3 1670.9 2507.4 1879.6 2507.4L1879.6 2508.0C1670.9 2508.0 1670.9 2383.8 1462.1 2383.8Z" fill="rgba(240,60,50,0.2)" stroke="rgba(240,60,50,0.2)" stroke-width="0.5"/>
<path d="M1462.1 2383.8C1673.1 2383.8 1673.1 2669.4 1884.0 2669.4L1884.0 2672.0C1673.1 2672.0 1673.1 2386.4 1462.1 2386.4Z" fill="rgba(240,60,50,0.2)" stroke="rgba(240,60,50,0.2)" stroke-width="0.5"/>
<path d="M1462.1 2386.4C1675.2 2386.4 1675.2 2873.3 1888.2 2873.3L1888.2 2873.6C1675.2 2873.6 1675.2 2386.8 1462.1 2386.8Z" fill="rgba(240,60,50,0.2)" stroke="rgba(240,60,50,0.2)" stroke-width="0.5"/>
<path d="M1462.1 2386.8C1675.7 2386.8 1675.7 2934.6 1889.3 2934.6L1889.3 2934.8C1675.7 2934.8 1675.7 2387.0 1462.1 2387.0Z" fill="rgba(240,60,50,0.2)" stroke="rgba(240,60,50,0.2)" stroke-width="0.5"/>
<path d="M1462.1 2407.5C1670.6 2407.5 1670.6 2128.3 1879.1 2128.3L1879.1 2129.7C1670.6 2129.7 1670.6 2408.8 1462.1 2408.8Z" fill="rgba(60,180,130,0.18)" stroke="rgba(60,180,130,0.18)" stroke-width="0.5"/>
<path d="M1462.1 2408.8C1670.4 2408.8 1670.4 2205.4 1878.7 2205.4L1878.7 2207.2C1670.4 2207.2 1670.4 2410.6 1462.1 2410.6Z" fill="rgba(60,180,130,0.18)" stroke="rgba(60,180,130,0.18)" stroke-width="0.5"/>
<path d="M1462.1 2410.6C1670.2 2410.6 1670.2 2280.3 1878.3 2280.3L1878.3 2281.9C1670.2 2281.9 1670.2 2412.2 1462.1 2412.2Z" fill="rgba(60,180,130,0.18)" stroke="rgba(60,180,130,0.18)" stroke-width="0.5"/>
<path d="M1462.1 2412.2C1670.1 2412.2 1670.1 2345.3 1878.0 2345.3L1878.0 2346.5C1670.1 2346.5 1670.1 2413.4 1462.1 2413.4Z" fill="rgba(60,180,130,0.18)" stroke="rgba(60,180,130,0.18)" stroke-width="0.5"/>
<path d="M1462.1 2413.4C1670.2 2413.4 1670.2 2391.7 1878.4 2391.7L1878.4 2392.4C1670.2 2392.4 1670.2 2414.0 1462.1 2414.0Z" fill="rgba(60,180,130,0.18)" stroke="rgba(60,180,130,0.18)" stroke-width="0.5"/>
<path d="M1462.1 2414.0C1670.4 2414.0 1670.4 2431.0 1878.8 2431.0L1878.8 2431.5C1670.4 2431.5 1670.4 2414.5 1462.1 2414.5Z" fill="rgba(60,180,130,0.18)" stroke="rgba(60,180,130,0.18)" stroke-width="0.5"/>
<path d="M1462.1 2414.5C1670.6 2414.5 1670.6 2466.9 1879.1 2466.9L1879.1 2467.4C1670.6 2467.4 1670.6 2415.0 1462.1 2415.0Z" fill="rgba(60,180,130,0.18)" stroke="rgba(60,180,130,0.18)" stroke-width="0.5"/>
<path d="M1462.1 2415.0C1670.9 2415.0 1670.9 2508.0 1879.6 2508.0L1879.6 2508.5C1670.9 2508.5 1670.9 2415.6 1462.1 2415.6Z" fill="rgba(60,180,130,0.18)" stroke="rgba(60,180,130,0.18)" stroke-width="0.5"/>
<path d="M1462.1 2415.6C1673.1 2415.6 1673.1 2672.0 1884.0 2672.0L1884.0 2674.7C1673.1 2674.7 1673.1 2418.3 1462.1 2418.3Z" fill="rgba(60,180,130,0.18)" stroke="rgba(60,180,130,0.18)" stroke-width="0.5"/>
<path d="M1462.1 2418.3C1675.2 2418.3 1675.2 2873.6 1888.2 2873.6L1888.2 2874.0C1675.2 2874.0 1675.2 2418.7 1462.1 2418.7Z" fill="rgba(60,180,130,0.18)" stroke="rgba(60,180,130,0.18)" stroke-width="0.5"/>
<path d="M1462.1 2418.7C1675.7 2418.7 1675.7 2934.8 1889.3 2934.8L1889.3 2935.1C1675.7 2935.1 1675.7 2419.0 1462.1 2419.0Z" fill="rgba(60,180,130,0.18)" stroke="rgba(60,180,130,0.18)" stroke-width="0.5"/>
<path d="M1462.1 2439.7C1670.6 2439.7 1670.6 2129.7 1879.1 2129.7L1879.1 2130.8C1670.6 2130.8 1670.6 2440.8 1462.1 2440.8Z" fill="rgba(0,160,72,0.2)" stroke="rgba(0,160,72,0.2)" stroke-width="0.5"/>
<path d="M1462.1 2440.8C1670.4 2440.8 1670.4 2207.2 1878.7 2207.2L1878.7 2208.7C1670.4 2208.7 1670.4 2442.3 1462.1 2442.3Z" fill="rgba(0,160,72,0.2)" stroke="rgba(0,160,72,0.2)" stroke-width="0.5"/>
<path d="M1462.1 2442.3C1670.2 2442.3 1670.2 2281.9 1878.3 2281.9L1878.3 2283.3C1670.2 2283.3 1670.2 2443.7 1462.1 2443.7Z" fill="rgba(0,160,72,0.2)" stroke="rgba(0,160,72,0.2)" stroke-width="0.5"/>
<path d="M1462.1 2443.7C1670.1 2443.7 1670.1 2346.5 1878.0 2346.5L1878.0 2347.5C1670.1 2347.5 1670.1 2444.7 1462.1 2444.7Z" fill="rgba(0,160,72,0.2)" stroke="rgba(0,160,72,0.2)" stroke-width="0.5"/>
<path d="M1462.1 2444.7C1670.2 2444.7 1670.2 2392.4 1878.4 2392.4L1878.4 2392.9C1670.2 2392.9 1670.2 2445.3 1462.1 2445.3Z" fill="rgba(0,160,72,0.2)" stroke="rgba(0,160,72,0.2)" stroke-width="0.5"/>
<path d="M1462.1 2445.3C1670.4 2445.3 1670.4 2431.5 1878.8 2431.5L1878.8 2431.9C1670.4 2431.9 1670.4 2445.7 1462.1 2445.7Z" fill="rgba(0,160,72,0.2)" stroke="rgba(0,160,72,0.2)" stroke-width="0.5"/>
<path d="M1462.1 2445.7C1670.6 2445.7 1670.6 2467.4 1879.1 2467.4L1879.1 2467.9C1670.6 2467.9 1670.6 2446.1 1462.1 2446.1Z" fill="rgba(0,160,72,0.2)" stroke="rgba(0,160,72,0.2)" stroke-width="0.5"/>
<path d="M1462.1 2446.1C1670.9 2446.1 1670.9 2508.5 1879.6 2508.5L1879.6 2509.1C1670.9 2509.1 1670.9 2446.7 1462.1 2446.7Z" fill="rgba(0,160,72,0.2)" stroke="rgba(0,160,72,0.2)" stroke-width="0.5"/>
<path d="M1462.1 2446.7C1673.1 2446.7 1673.1 2674.7 1884.0 2674.7L1884.0 2677.3C1673.1 2677.3 1673.1 2449.3 1462.1 2449.3Z" fill="rgba(0,160,72,0.2)" stroke="rgba(0,160,72,0.2)" stroke-width="0.5"/>
<path d="M1462.1 2449.3C1675.2 2449.3 1675.2 2874.0 1888.2 2874.0L1888.2 2874.4C1675.2 2874.4 1675.2 2449.6 1462.1 2449.6Z" fill="rgba(0,160,72,0.2)" stroke="rgba(0,160,72,0.2)" stroke-width="0.5"/>
<path d="M1462.1 2449.6C1675.7 2449.6 1675.7 2935.1 1889.3 2935.1L1889.3 2935.4C1675.7 2935.4 1675.7 2449.9 1462.1 2449.9Z" fill="rgba(0,160,72,0.2)" stroke="rgba(0,160,72,0.2)" stroke-width="0.5"/>
<path d="M1462.1 2469.4C1670.6 2469.4 1670.6 2130.8 1879.1 2130.8L1879.1 2131.8C1670.6 2131.8 1670.6 2470.5 1462.1 2470.5Z" fill="rgba(60,180,130,0.18)" stroke="rgba(60,180,130,0.18)" stroke-width="0.5"/>
<path d="M1462.1 2470.5C1670.4 2470.5 1670.4 2208.7 1878.7 2208.7L1878.7 2210.1C1670.4 2210.1 1670.4 2471.9 1462.1 2471.9Z" fill="rgba(60,180,130,0.18)" stroke="rgba(60,180,130,0.18)" stroke-width="0.5"/>
<path d="M1462.1 2471.9C1670.2 2471.9 1670.2 2283.3 1878.3 2283.3L1878.3 2284.7C1670.2 2284.7 1670.2 2473.3 1462.1 2473.3Z" fill="rgba(60,180,130,0.18)" stroke="rgba(60,180,130,0.18)" stroke-width="0.5"/>
<path d="M1462.1 2473.3C1670.1 2473.3 1670.1 2347.5 1878.0 2347.5L1878.0 2348.5C1670.1 2348.5 1670.1 2474.4 1462.1 2474.4Z" fill="rgba(60,180,130,0.18)" stroke="rgba(60,180,130,0.18)" stroke-width="0.5"/>
<path d="M1462.1 2474.4C1670.2 2474.4 1670.2 2392.9 1878.4 2392.9L1878.4 2393.4C1670.2 2393.4 1670.2 2474.9 1462.1 2474.9Z" fill="rgba(60,180,130,0.18)" stroke="rgba(60,180,130,0.18)" stroke-width="0.5"/>
<path d="M1462.1 2474.9C1670.4 2474.9 1670.4 2431.9 1878.8 2431.9L1878.8 2432.3C1670.4 2432.3 1670.4 2475.4 1462.1 2475.4Z" fill="rgba(60,180,130,0.18)" stroke="rgba(60,180,130,0.18)" stroke-width="0.5"/>
<path d="M1462.1 2475.4C1670.6 2475.4 1670.6 2467.9 1879.1 2467.9L1879.1 2468.3C1670.6 2468.3 1670.6 2475.8 1462.1 2475.8Z" fill="rgba(60,180,130,0.18)" stroke="rgba(60,180,130,0.18)" stroke-width="0.5"/>
<path d="M1462.1 2475.8C1670.9 2475.8 1670.9 2509.1 1879.6 2509.1L1879.6 2509.6C1670.9 2509.6 1670.9 2476.3 1462.1 2476.3Z" fill="rgba(60,180,130,0.18)" stroke="rgba(60,180,130,0.18)" stroke-width="0.5"/>
<path d="M1462.1 2476.3C1673.1 2476.3 1673.1 2677.3 1884.0 2677.3L1884.0 2680.2C1673.1 2680.2 1673.1 2479.2 1462.1 2479.2Z" fill="rgba(60,180,130,0.18)" stroke="rgba(60,180,130,0.18)" stroke-width="0.5"/>
<path d="M1462.1 2479.2C1675.2 2479.2 1675.2 2874.4 1888.2 2874.4L1888.2 2874.8C1675.2 2874.8 1675.2 2479.6 1462.1 2479.6Z" fill="rgba(60,180,130,0.18)" stroke="rgba(60,180,130,0.18)" stroke-width="0.5"/>
<path d="M1462.1 2479.6C1675.7 2479.6 1675.7 2935.4 1889.3 2935.4L1889.3 2935.7C1675.7 2935.7 1675.7 2479.9 1462.1 2479.9Z" fill="rgba(60,180,130,0.18)" stroke="rgba(60,180,130,0.18)" stroke-width="0.5"/>
<path d="M1462.1 2500.3C1670.6 2500.3 1670.6 2131.8 1879.1 2131.8L1879.1 2132.8C1670.6 2132.8 1670.6 2501.3 1462.1 2501.3Z" fill="rgba(0,160,72,0.2)" stroke="rgba(0,160,72,0.2)" stroke-width="0.5"/>
<path d="M1462.1 2501.3C1670.4 2501.3 1670.4 2210.1 1878.7 2210.1L1878.7 2211.5C1670.4 2211.5 1670.4 2502.7 1462.1 2502.7Z" fill="rgba(0,160,72,0.2)" stroke="rgba(0,160,72,0.2)" stroke-width="0.5"/>
<path d="M1462.1 2502.7C1670.2 2502.7 1670.2 2284.7 1878.3 2284.7L1878.3 2286.0C1670.2 2286.0 1670.2 2504.1 1462.1 2504.1Z" fill="rgba(0,160,72,0.2)" stroke="rgba(0,160,72,0.2)" stroke-width="0.5"/>
<path d="M1462.1 2504.1C1670.1 2504.1 1670.1 2348.5 1878.0 2348.5L1878.0 2349.6C1670.1 2349.6 1670.1 2505.1 1462.1 2505.1Z" fill="rgba(0,160,72,0.2)" stroke="rgba(0,160,72,0.2)" stroke-width="0.5"/>
<path d="M1462.1 2505.1C1670.2 2505.1 1670.2 2393.4 1878.4 2393.4L1878.4 2394.0C1670.2 2394.0 1670.2 2505.6 1462.1 2505.6Z" fill="rgba(0,160,72,0.2)" stroke="rgba(0,160,72,0.2)" stroke-width="0.5"/>
<path d="M1462.1 2505.6C1670.4 2505.6 1670.4 2432.3 1878.8 2432.3L1878.8 2432.8C1670.4 2432.8 1670.4 2506.1 1462.1 2506.1Z" fill="rgba(0,160,72,0.2)" stroke="rgba(0,160,72,0.2)" stroke-width="0.5"/>
<path d="M1462.1 2506.1C1670.6 2506.1 1670.6 2468.3 1879.1 2468.3L1879.1 2468.8C1670.6 2468.8 1670.6 2506.5 1462.1 2506.5Z" fill="rgba(0,160,72,0.2)" stroke="rgba(0,160,72,0.2)" stroke-width="0.5"/>
<path d="M1462.1 2506.5C1670.9 2506.5 1670.9 2509.6 1879.6 2509.6L1879.6 2510.2C1670.9 2510.2 1670.9 2507.1 1462.1 2507.1Z" fill="rgba(0,160,72,0.2)" stroke="rgba(0,160,72,0.2)" stroke-width="0.5"/>
<path d="M1462.1 2507.1C1673.1 2507.1 1673.1 2680.2 1884.0 2680.2L1884.0 2683.2C1673.1 2683.2 1673.1 2510.1 1462.1 2510.1Z" fill="rgba(0,160,72,0.2)" stroke="rgba(0,160,72,0.2)" stroke-width="0.5"/>
<path d="M1462.1 2510.1C1675.2 2510.1 1675.2 2874.8 1888.2 2874.8L1888.2 2875.3C1675.2 2875.3 1675.2 2510.5 1462.1 2510.5Z" fill="rgba(0,160,72,0.2)" stroke="rgba(0,160,72,0.2)" stroke-width="0.5"/>
<path d="M1462.1 2510.5C1675.7 2510.5 1675.7 2935.7 1889.3 2935.7L1889.3 2936.0C1675.7 2936.0 1675.7 2510.9 1462.1 2510.9Z" fill="rgba(0,160,72,0.2)" stroke="rgba(0,160,72,0.2)" stroke-width="0.5"/>
<path d="M1462.1 2531.3C1670.6 2531.3 1670.6 2132.8 1879.1 2132.8L1879.1 2133.7C1670.6 2133.7 1670.6 2532.2 1462.1 2532.2Z" fill="rgba(60,180,130,0.18)" stroke="rgba(60,180,130,0.18)" stroke-width="0.5"/>
<path d="M1462.1 2532.2C1670.4 2532.2 1670.4 2211.5 1878.7 2211.5L1878.7 2212.8C1670.4 2212.8 1670.4 2533.4 1462.1 2533.4Z" fill="rgba(60,180,130,0.18)" stroke="rgba(60,180,130,0.18)" stroke-width="0.5"/>
<path d="M1462.1 2533.4C1670.2 2533.4 1670.2 2286.0 1878.3 2286.0L1878.3 2287.3C1670.2 2287.3 1670.2 2534.6 1462.1 2534.6Z" fill="rgba(60,180,130,0.18)" stroke="rgba(60,180,130,0.18)" stroke-width="0.5"/>
<path d="M1462.1 2534.6C1670.1 2534.6 1670.1 2349.6 1878.0 2349.6L1878.0 2350.5C1670.1 2350.5 1670.1 2535.5 1462.1 2535.5Z" fill="rgba(60,180,130,0.18)" stroke="rgba(60,180,130,0.18)" stroke-width="0.5"/>
<path d="M1462.1 2535.5C1670.2 2535.5 1670.2 2394.0 1878.4 2394.0L1878.4 2394.5C1670.2 2394.5 1670.2 2536.1 1462.1 2536.1Z" fill="rgba(60,180,130,0.18)" stroke="rgba(60,180,130,0.18)" stroke-width="0.5"/>
<path d="M1462.1 2536.1C1670.4 2536.1 1670.4 2432.8 1878.8 2432.8L1878.8 2433.2C1670.4 2433.2 1670.4 2536.5 1462.1 2536.5Z" fill="rgba(60,180,130,0.18)" stroke="rgba(60,180,130,0.18)" stroke-width="0.5"/>
<path d="M1462.1 2536.5C1670.6 2536.5 1670.6 2468.8 1879.1 2468.8L1879.1 2469.2C1670.6 2469.2 1670.6 2536.9 1462.1 2536.9Z" fill="rgba(60,180,130,0.18)" stroke="rgba(60,180,130,0.18)" stroke-width="0.5"/>
<path d="M1462.1 2536.9C1670.9 2536.9 1670.9 2510.2 1879.6 2510.2L1879.6 2510.7C1670.9 2510.7 1670.9 2537.4 1462.1 2537.4Z" fill="rgba(60,180,130,0.18)" stroke="rgba(60,180,130,0.18)" stroke-width="0.5"/>
<path d="M1462.1 2537.4C1673.1 2537.4 1673.1 2683.2 1884.0 2683.2L1884.0 2686.1C1673.1 2686.1 1673.1 2540.4 1462.1 2540.4Z" fill="rgba(60,180,130,0.18)" stroke="rgba(60,180,130,0.18)" stroke-width="0.5"/>
<path d="M1462.1 2540.4C1675.2 2540.4 1675.2 2875.3 1888.2 2875.3L1888.2 2875.7C1675.2 2875.7 1675.2 2540.8 1462.1 2540.8Z" fill="rgba(60,180,130,0.18)" stroke="rgba(60,180,130,0.18)" stroke-width="0.5"/>
<path d="M1462.1 2540.8C1675.7 2540.8 1675.7 2936.0 1889.3 2936.0L1889.3 2936.4C1675.7 2936.4 1675.7 2541.2 1462.1 2541.2Z" fill="rgba(60,180,130,0.18)" stroke="rgba(60,180,130,0.18)" stroke-width="0.5"/>
<path d="M1462.1 2560.4C1670.6 2560.4 1670.6 2133.7 1879.1 2133.7L1879.1 2134.5C1670.6 2134.5 1670.6 2561.2 1462.1 2561.2Z" fill="rgba(240,60,50,0.2)" stroke="rgba(240,60,50,0.2)" stroke-width="0.5"/>
<path d="M1462.1 2561.2C1670.4 2561.2 1670.4 2212.8 1878.7 2212.8L1878.7 2214.0C1670.4 2214.0 1670.4 2562.4 1462.1 2562.4Z" fill="rgba(240,60,50,0.2)" stroke="rgba(240,60,50,0.2)" stroke-width="0.5"/>
<path d="M1462.1 2562.4C1670.2 2562.4 1670.2 2287.3 1878.3 2287.3L1878.3 2288.5C1670.2 2288.5 1670.2 2563.6 1462.1 2563.6Z" fill="rgba(240,60,50,0.2)" stroke="rgba(240,60,50,0.2)" stroke-width="0.5"/>
<path d="M1462.1 2563.6C1670.1 2563.6 1670.1 2350.5 1878.0 2350.5L1878.0 2351.4C1670.1 2351.4 1670.1 2564.6 1462.1 2564.6Z" fill="rgba(240,60,50,0.2)" stroke="rgba(240,60,50,0.2)" stroke-width="0.5"/>
<path d="M1462.1 2564.6C1670.2 2564.6 1670.2 2394.5 1878.4 2394.5L1878.4 2395.0C1670.2 2395.0 1670.2 2565.1 1462.1 2565.1Z" fill="rgba(240,60,50,0.2)" stroke="rgba(240,60,50,0.2)" stroke-width="0.5"/>
<path d="M1462.1 2565.1C1670.4 2565.1 1670.4 2433.2 1878.8 2433.2L1878.8 2433.6C1670.4 2433.6 1670.4 2565.5 1462.1 2565.5Z" fill="rgba(240,60,50,0.2)" stroke="rgba(240,60,50,0.2)" stroke-width="0.5"/>
<path d="M1462.1 2565.5C1670.6 2565.5 1670.6 2469.2 1879.1 2469.2L1879.1 2469.7C1670.6 2469.7 1670.6 2565.9 1462.1 2565.9Z" fill="rgba(240,60,50,0.2)" stroke="rgba(240,60,50,0.2)" stroke-width="0.5"/>
<path d="M1462.1 2565.9C1670.9 2565.9 1670.9 2510.7 1879.6 2510.7L1879.6 2511.2C1670.9 2511.2 1670.9 2566.5 1462.1 2566.5Z" fill="rgba(240,60,50,0.2)" stroke="rgba(240,60,50,0.2)" stroke-width="0.5"/>
<path d="M1462.1 2566.5C1673.1 2566.5 1673.1 2686.1 1884.0 2686.1L1884.0 2689.3C1673.1 2689.3 1673.1 2569.7 1462.1 2569.7Z" fill="rgba(240,60,50,0.2)" stroke="rgba(240,60,50,0.2)" stroke-width="0.5"/>
<path d="M1462.1 2569.7C1675.2 2569.7 1675.2 2875.7 1888.2 2875.7L1888.2 2876.3C1675.2 2876.3 1675.2 2570.2 1462.1 2570.2Z" fill="rgba(240,60,50,0.2)" stroke="rgba(240,60,50,0.2)" stroke-width="0.5"/>
<path d="M1462.1 2570.2C1675.7 2570.2 1675.7 2936.4 1889.3 2936.4L1889.3 2936.8C1675.7 2936.8 1675.7 2570.6 1462.1 2570.6Z" fill="rgba(240,60,50,0.2)" stroke="rgba(240,60,50,0.2)" stroke-width="0.5"/>
<path d="M1462.1 2590.7C1670.6 2590.7 1670.6 2134.5 1879.1 2134.5L1879.1 2135.3C1670.6 2135.3 1670.6 2591.5 1462.1 2591.5Z" fill="rgba(240,60,50,0.2)" stroke="rgba(240,60,50,0.2)" stroke-width="0.5"/>
<path d="M1462.1 2591.5C1670.4 2591.5 1670.4 2214.0 1878.7 2214.0L1878.7 2215.2C1670.4 2215.2 1670.4 2592.7 1462.1 2592.7Z" fill="rgba(240,60,50,0.2)" stroke="rgba(240,60,50,0.2)" stroke-width="0.5"/>
<path d="M1462.1 2592.7C1670.2 2592.7 1670.2 2288.5 1878.3 2288.5L1878.3 2289.7C1670.2 2289.7 1670.2 2593.9 1462.1 2593.9Z" fill="rgba(240,60,50,0.2)" stroke="rgba(240,60,50,0.2)" stroke-width="0.5"/>
<path d="M1462.1 2593.9C1670.1 2593.9 1670.1 2351.4 1878.0 2351.4L1878.0 2352.4C1670.1 2352.4 1670.1 2594.9 1462.1 2594.9Z" fill="rgba(240,60,50,0.2)" stroke="rgba(240,60,50,0.2)" stroke-width="0.5"/>
<path d="M1462.1 2594.9C1670.2 2594.9 1670.2 2395.0 1878.4 2395.0L1878.4 2395.5C1670.2 2395.5 1670.2 2595.4 1462.1 2595.4Z" fill="rgba(240,60,50,0.2)" stroke="rgba(240,60,50,0.2)" stroke-width="0.5"/>
<path d="M1462.1 2595.4C1670.4 2595.4 1670.4 2433.6 1878.8 2433.6L1878.8 2434.1C1670.4 2434.1 1670.4 2595.9 1462.1 2595.9Z" fill="rgba(240,60,50,0.2)" stroke="rgba(240,60,50,0.2)" stroke-width="0.5"/>
<path d="M1462.1 2595.9C1670.6 2595.9 1670.6 2469.7 1879.1 2469.7L1879.1 2470.1C1670.6 2470.1 1670.6 2596.3 1462.1 2596.3Z" fill="rgba(240,60,50,0.2)" stroke="rgba(240,60,50,0.2)" stroke-width="0.5"/>
<path d="M1462.1 2596.3C1670.9 2596.3 1670.9 2511.2 1879.6 2511.2L1879.6 2511.8C1670.9 2511.8 1670.9 2596.9 1462.1 2596.9Z" fill="rgba(240,60,50,0.2)" stroke="rgba(240,60,50,0.2)" stroke-width="0.5"/>
<path d="M1462.1 2596.9C1673.1 2596.9 1673.1 2689.3 1884.0 2689.3L1884.0 2692.8C1673.1 2692.8 1673.1 2600.4 1462.1 2600.4Z" fill="rgba(240,60,50,0.2)" stroke="rgba(240,60,50,0.2)" stroke-width="0.5"/>
<path d="M1462.1 2600.4C1675.2 2600.4 1675.2 2876.3 1888.2 2876.3L1888.2 2876.9C1675.2 2876.9 1675.2 2601.0 1462.1 2601.0Z" fill="rgba(240,60,50,0.2)" stroke="rgba(240,60,50,0.2)" stroke-width="0.5"/>
<path d="M1462.1 2601.0C1675.7 2601.0 1675.7 2936.8 1889.3 2936.8L1889.3 2937.3C1675.7 2937.3 1675.7 2601.5 1462.1 2601.5Z" fill="rgba(240,60,50,0.2)" stroke="rgba(240,60,50,0.2)" stroke-width="0.5"/>
<path d="M1462.1 2620.1C1670.6 2620.1 1670.6 2135.3 1879.1 2135.3L1879.1 2136.1C1670.6 2136.1 1670.6 2620.8 1462.1 2620.8Z" fill="rgba(240,60,50,0.2)" stroke="rgba(240,60,50,0.2)" stroke-width="0.5"/>
<path d="M1462.1 2620.8C1670.4 2620.8 1670.4 2215.2 1878.7 2215.2L1878.7 2216.4C1670.4 2216.4 1670.4 2622.0 1462.1 2622.0Z" fill="rgba(240,60,50,0.2)" stroke="rgba(240,60,50,0.2)" stroke-width="0.5"/>
<path d="M1462.1 2622.0C1670.2 2622.0 1670.2 2289.7 1878.3 2289.7L1878.3 2290.9C1670.2 2290.9 1670.2 2623.2 1462.1 2623.2Z" fill="rgba(240,60,50,0.2)" stroke="rgba(240,60,50,0.2)" stroke-width="0.5"/>
<path d="M1462.1 2623.2C1670.1 2623.2 1670.1 2352.4 1878.0 2352.4L1878.0 2353.3C1670.1 2353.3 1670.1 2624.1 1462.1 2624.1Z" fill="rgba(240,60,50,0.2)" stroke="rgba(240,60,50,0.2)" stroke-width="0.5"/>
<path d="M1462.1 2624.1C1670.2 2624.1 1670.2 2395.5 1878.4 2395.5L1878.4 2396.1C1670.2 2396.1 1670.2 2624.6 1462.1 2624.6Z" fill="rgba(240,60,50,0.2)" stroke="rgba(240,60,50,0.2)" stroke-width="0.5"/>
<path d="M1462.1 2624.6C1670.4 2624.6 1670.4 2434.1 1878.8 2434.1L1878.8 2434.5C1670.4 2434.5 1670.4 2625.1 1462.1 2625.1Z" fill="rgba(240,60,50,0.2)" stroke="rgba(240,60,50,0.2)" stroke-width="0.5"/>
<path d="M1462.1 2625.1C1670.6 2625.1 1670.6 2470.1 1879.1 2470.1L1879.1 2470.6C1670.6 2470.6 1670.6 2625.5 1462.1 2625.5Z" fill="rgba(240,60,50,0.2)" stroke="rgba(240,60,50,0.2)" stroke-width="0.5"/>
<path d="M1462.1 2625.5C1670.9 2625.5 1670.9 2511.8 1879.6 2511.8L1879.6 2512.4C1670.9 2512.4 1670.9 2626.1 1462.1 2626.1Z" fill="rgba(240,60,50,0.2)" stroke="rgba(240,60,50,0.2)" stroke-width="0.5"/>
<path d="M1462.1 2626.1C1673.1 2626.1 1673.1 2692.8 1884.0 2692.8L1884.0 2696.5C1673.1 2696.5 1673.1 2629.8 1462.1 2629.8Z" fill="rgba(240,60,50,0.2)" stroke="rgba(240,60,50,0.2)" stroke-width="0.5"/>
<path d="M1462.1 2629.8C1675.2 2629.8 1675.2 2876.9 1888.2 2876.9L1888.2 2877.6C1675.2 2877.6 1675.2 2630.5 1462.1 2630.5Z" fill="rgba(240,60,50,0.2)" stroke="rgba(240,60,50,0.2)" stroke-width="0.5"/>
<path d="M1462.1 2630.5C1675.7 2630.5 1675.7 2937.3 1889.3 2937.3L1889.3 2937.8C1675.7 2937.8 1675.7 2631.0 1462.1 2631.0Z" fill="rgba(240,60,50,0.2)" stroke="rgba(240,60,50,0.2)" stroke-width="0.5"/>
<path d="M1462.1 2651.0C1670.6 2651.0 1670.6 2136.1 1879.1 2136.1L1879.1 2136.7C1670.6 2136.7 1670.6 2651.7 1462.1 2651.7Z" fill="rgba(60,180,130,0.18)" stroke="rgba(60,180,130,0.18)" stroke-width="0.5"/>
<path d="M1462.1 2651.7C1670.4 2651.7 1670.4 2216.4 1878.7 2216.4L1878.7 2217.4C1670.4 2217.4 1670.4 2652.8 1462.1 2652.8Z" fill="rgba(60,180,130,0.18)" stroke="rgba(60,180,130,0.18)" stroke-width="0.5"/>
<path d="M1462.1 2652.8C1670.2 2652.8 1670.2 2290.9 1878.3 2290.9L1878.3 2292.0C1670.2 2292.0 1670.2 2653.9 1462.1 2653.9Z" fill="rgba(60,180,130,0.18)" stroke="rgba(60,180,130,0.18)" stroke-width="0.5"/>
<path d="M1462.1 2653.9C1670.1 2653.9 1670.1 2353.3 1878.0 2353.3L1878.0 2354.3C1670.1 2354.3 1670.1 2654.8 1462.1 2654.8Z" fill="rgba(60,180,130,0.18)" stroke="rgba(60,180,130,0.18)" stroke-width="0.5"/>
<path d="M1462.1 2654.8C1670.2 2654.8 1670.2 2396.1 1878.4 2396.1L1878.4 2396.6C1670.2 2396.6 1670.2 2655.3 1462.1 2655.3Z" fill="rgba(60,180,130,0.18)" stroke="rgba(60,180,130,0.18)" stroke-width="0.5"/>
<path d="M1462.1 2655.3C1670.4 2655.3 1670.4 2434.5 1878.8 2434.5L1878.8 2434.9C1670.4 2434.9 1670.4 2655.7 1462.1 2655.7Z" fill="rgba(60,180,130,0.18)" stroke="rgba(60,180,130,0.18)" stroke-width="0.5"/>
<path d="M1462.1 2655.7C1670.6 2655.7 1670.6 2470.6 1879.1 2470.6L1879.1 2471.1C1670.6 2471.1 1670.6 2656.2 1462.1 2656.2Z" fill="rgba(60,180,130,0.18)" stroke="rgba(60,180,130,0.18)" stroke-width="0.5"/>
<path d="M1462.1 2656.2C1670.9 2656.2 1670.9 2512.4 1879.6 2512.4L1879.6 2513.0C1670.9 2513.0 1670.9 2656.8 1462.1 2656.8Z" fill="rgba(60,180,130,0.18)" stroke="rgba(60,180,130,0.18)" stroke-width="0.5"/>
<path d="M1462.1 2656.8C1673.1 2656.8 1673.1 2696.5 1884.0 2696.5L1884.0 2700.3C1673.1 2700.3 1673.1 2660.6 1462.1 2660.6Z" fill="rgba(60,180,130,0.18)" stroke="rgba(60,180,130,0.18)" stroke-width="0.5"/>
<path d="M1462.1 2660.6C1675.2 2660.6 1675.2 2877.6 1888.2 2877.6L1888.2 2878.3C1675.2 2878.3 1675.2 2661.3 1462.1 2661.3Z" fill="rgba(60,180,130,0.18)" stroke="rgba(60,180,130,0.18)" stroke-width="0.5"/>
<path d="M1462.1 2661.3C1675.7 2661.3 1675.7 2937.8 1889.3 2937.8L1889.3 2938.4C1675.7 2938.4 1675.7 2661.9 1462.1 2661.9Z" fill="rgba(60,180,130,0.18)" stroke="rgba(60,180,130,0.18)" stroke-width="0.5"/>
<path d="M1462.1 2680.5C1670.6 2680.5 1670.6 2136.7 1879.1 2136.7L1879.1 2137.5C1670.6 2137.5 1670.6 2681.2 1462.1 2681.2Z" fill="rgba(240,60,50,0.2)" stroke="rgba(240,60,50,0.2)" stroke-width="0.5"/>
<path d="M1462.1 2681.2C1670.4 2681.2 1670.4 2217.4 1878.7 2217.4L1878.7 2218.6C1670.4 2218.6 1670.4 2682.4 1462.1 2682.4Z" fill="rgba(240,60,50,0.2)" stroke="rgba(240,60,50,0.2)" stroke-width="0.5"/>
<path d="M1462.1 2682.4C1670.2 2682.4 1670.2 2292.0 1878.3 2292.0L1878.3 2293.2C1670.2 2293.2 1670.2 2683.6 1462.1 2683.6Z" fill="rgba(240,60,50,0.2)" stroke="rgba(240,60,50,0.2)" stroke-width="0.5"/>
<path d="M1462.1 2683.6C1670.1 2683.6 1670.1 2354.3 1878.0 2354.3L1878.0 2355.2C1670.1 2355.2 1670.1 2684.6 1462.1 2684.6Z" fill="rgba(240,60,50,0.2)" stroke="rgba(240,60,50,0.2)" stroke-width="0.5"/>
<path d="M1462.1 2684.6C1670.2 2684.6 1670.2 2396.6 1878.4 2396.6L1878.4 2397.1C1670.2 2397.1 1670.2 2685.1 1462.1 2685.1Z" fill="rgba(240,60,50,0.2)" stroke="rgba(240,60,50,0.2)" stroke-width="0.5"/>
<path d="M1462.1 2685.1C1670.4 2685.1 1670.4 2434.9 1878.8 2434.9L1878.8 2435.4C1670.4 2435.4 1670.4 2685.6 1462.1 2685.6Z" fill="rgba(240,60,50,0.2)" stroke="rgba(240,60,50,0.2)" stroke-width="0.5"/>
<path d="M1462.1 2685.6C1670.6 2685.6 1670.6 2471.1 1879.1 2471.1L1879.1 2471.6C1670.6 2471.6 1670.6 2686.1 1462.1 2686.1Z" fill="rgba(240,60,50,0.2)" stroke="rgba(240,60,50,0.2)" stroke-width="0.5"/>
<path d="M1462.1 2686.1C1670.9 2686.1 1670.9 2513.0 1879.6 2513.0L1879.6 2513.7C1670.9 2513.7 1670.9 2686.8 1462.1 2686.8Z" fill="rgba(240,60,50,0.2)" stroke="rgba(240,60,50,0.2)" stroke-width="0.5"/>
<path d="M1462.1 2686.8C1673.1 2686.8 1673.1 2700.3 1884.0 2700.3L1884.0 2704.9C1673.1 2704.9 1673.1 2691.3 1462.1 2691.3Z" fill="rgba(240,60,50,0.2)" stroke="rgba(240,60,50,0.2)" stroke-width="0.5"/>
<path d="M1462.1 2691.3C1675.2 2691.3 1675.2 2878.3 1888.2 2878.3L1888.2 2879.2C1675.2 2879.2 1675.2 2692.2 1462.1 2692.2Z" fill="rgba(240,60,50,0.2)" stroke="rgba(240,60,50,0.2)" stroke-width="0.5"/>
<path d="M1462.1 2692.2C1675.7 2692.2 1675.7 2938.4 1889.3 2938.4L1889.3 2939.1C1675.7 2939.1 1675.7 2692.9 1462.1 2692.9Z" fill="rgba(240,60,50,0.2)" stroke="rgba(240,60,50,0.2)" stroke-width="0.5"/>
<path d="M1462.1 2712.0C1670.6 2712.0 1670.6 2137.5 1879.1 2137.5L1879.1 2138.2C1670.6 2138.2 1670.6 2712.7 1462.1 2712.7Z" fill="rgba(240,60,50,0.2)" stroke="rgba(240,60,50,0.2)" stroke-width="0.5"/>
<path d="M1462.1 2712.7C1670.4 2712.7 1670.4 2218.6 1878.7 2218.6L1878.7 2219.7C1670.4 2219.7 1670.4 2713.9 1462.1 2713.9Z" fill="rgba(240,60,50,0.2)" stroke="rgba(240,60,50,0.2)" stroke-width="0.5"/>
<path d="M1462.1 2713.9C1670.2 2713.9 1670.2 2293.2 1878.3 2293.2L1878.3 2294.4C1670.2 2294.4 1670.2 2715.1 1462.1 2715.1Z" fill="rgba(240,60,50,0.2)" stroke="rgba(240,60,50,0.2)" stroke-width="0.5"/>
<path d="M1462.1 2715.1C1670.1 2715.1 1670.1 2355.2 1878.0 2355.2L1878.0 2356.3C1670.1 2356.3 1670.1 2716.1 1462.1 2716.1Z" fill="rgba(240,60,50,0.2)" stroke="rgba(240,60,50,0.2)" stroke-width="0.5"/>
<path d="M1462.1 2716.1C1670.2 2716.1 1670.2 2397.1 1878.4 2397.1L1878.4 2397.7C1670.2 2397.7 1670.2 2716.7 1462.1 2716.7Z" fill="rgba(240,60,50,0.2)" stroke="rgba(240,60,50,0.2)" stroke-width="0.5"/>
<path d="M1462.1 2716.7C1670.4 2716.7 1670.4 2435.4 1878.8 2435.4L1878.8 2435.9C1670.4 2435.9 1670.4 2717.2 1462.1 2717.2Z" fill="rgba(240,60,50,0.2)" stroke="rgba(240,60,50,0.2)" stroke-width="0.5"/>
<path d="M1462.1 2717.2C1670.6 2717.2 1670.6 2471.6 1879.1 2471.6L1879.1 2472.1C1670.6 2472.1 1670.6 2717.8 1462.1 2717.8Z" fill="rgba(240,60,50,0.2)" stroke="rgba(240,60,50,0.2)" stroke-width="0.5"/>
<path d="M1462.1 2717.8C1670.9 2717.8 1670.9 2513.7 1879.6 2513.7L1879.6 2514.4C1670.9 2514.4 1670.9 2718.5 1462.1 2718.5Z" fill="rgba(240,60,50,0.2)" stroke="rgba(240,60,50,0.2)" stroke-width="0.5"/>
<path d="M1462.1 2718.5C1673.1 2718.5 1673.1 2704.9 1884.0 2704.9L1884.0 2709.9C1673.1 2709.9 1673.1 2723.5 1462.1 2723.5Z" fill="rgba(240,60,50,0.2)" stroke="rgba(240,60,50,0.2)" stroke-width="0.5"/>
<path d="M1462.1 2723.5C1675.2 2723.5 1675.2 2879.2 1888.2 2879.2L1888.2 2880.2C1675.2 2880.2 1675.2 2724.5 1462.1 2724.5Z" fill="rgba(240,60,50,0.2)" stroke="rgba(240,60,50,0.2)" stroke-width="0.5"/>
<path d="M1462.1 2724.5C1675.7 2724.5 1675.7 2939.1 1889.3 2939.1L1889.3 2940.0C1675.7 2940.0 1675.7 2725.4 1462.1 2725.4Z" fill="rgba(240,60,50,0.2)" stroke="rgba(240,60,50,0.2)" stroke-width="0.5"/>
<path d="M1462.1 2743.9C1670.6 2743.9 1670.6 2138.2 1879.1 2138.2L1879.1 2138.7C1670.6 2138.7 1670.6 2744.4 1462.1 2744.4Z" fill="rgba(240,60,50,0.2)" stroke="rgba(240,60,50,0.2)" stroke-width="0.5"/>
<path d="M1462.1 2744.4C1670.4 2744.4 1670.4 2219.7 1878.7 2219.7L1878.7 2220.6C1670.4 2220.6 1670.4 2745.3 1462.1 2745.3Z" fill="rgba(240,60,50,0.2)" stroke="rgba(240,60,50,0.2)" stroke-width="0.5"/>
<path d="M1462.1 2745.3C1670.2 2745.3 1670.2 2294.4 1878.3 2294.4L1878.3 2295.3C1670.2 2295.3 1670.2 2746.2 1462.1 2746.2Z" fill="rgba(240,60,50,0.2)" stroke="rgba(240,60,50,0.2)" stroke-width="0.5"/>
<path d="M1462.1 2746.2C1670.1 2746.2 1670.1 2356.3 1878.0 2356.3L1878.0 2357.1C1670.1 2357.1 1670.1 2747.0 1462.1 2747.0Z" fill="rgba(240,60,50,0.2)" stroke="rgba(240,60,50,0.2)" stroke-width="0.5"/>
<path d="M1462.1 2747.0C1670.2 2747.0 1670.2 2397.7 1878.4 2397.7L1878.4 2398.2C1670.2 2398.2 1670.2 2747.5 1462.1 2747.5Z" fill="rgba(240,60,50,0.2)" stroke="rgba(240,60,50,0.2)" stroke-width="0.5"/>
<path d="M1462.1 2747.5C1670.4 2747.5 1670.4 2435.9 1878.8 2435.9L1878.8 2436.3C1670.4 2436.3 1670.4 2747.9 1462.1 2747.9Z" fill="rgba(240,60,50,0.2)" stroke="rgba(240,60,50,0.2)" stroke-width="0.5"/>
<path d="M1462.1 2747.9C1670.6 2747.9 1670.6 2472.1 1879.1 2472.1L1879.1 2472.6C1670.6 2472.6 1670.6 2748.3 1462.1 2748.3Z" fill="rgba(240,60,50,0.2)" stroke="rgba(240,60,50,0.2)" stroke-width="0.5"/>
<path d="M1462.1 2748.3C1670.9 2748.3 1670.9 2514.4 1879.6 2514.4L1879.6 2515.0C1670.9 2515.0 1670.9 2748.9 1462.1 2748.9Z" fill="rgba(240,60,50,0.2)" stroke="rgba(240,60,50,0.2)" stroke-width="0.5"/>
<path d="M1462.1 2748.9C1673.1 2748.9 1673.1 2709.9 1884.0 2709.9L1884.0 2714.2C1673.1 2714.2 1673.1 2753.1 1462.1 2753.1Z" fill="rgba(240,60,50,0.2)" stroke="rgba(240,60,50,0.2)" stroke-width="0.5"/>
<path d="M1462.1 2753.1C1675.2 2753.1 1675.2 2880.2 1888.2 2880.2L1888.2 2881.1C1675.2 2881.1 1675.2 2754.0 1462.1 2754.0Z" fill="rgba(240,60,50,0.2)" stroke="rgba(240,60,50,0.2)" stroke-width="0.5"/>
<path d="M1462.1 2754.0C1675.7 2754.0 1675.7 2940.0 1889.3 2940.0L1889.3 2940.7C1675.7 2940.7 1675.7 2754.8 1462.1 2754.8Z" fill="rgba(240,60,50,0.2)" stroke="rgba(240,60,50,0.2)" stroke-width="0.5"/>
<path d="M1462.1 2774.0C1670.6 2774.0 1670.6 2138.7 1879.1 2138.7L1879.1 2139.2C1670.6 2139.2 1670.6 2774.5 1462.1 2774.5Z" fill="rgba(240,60,50,0.2)" stroke="rgba(240,60,50,0.2)" stroke-width="0.5"/>
<path d="M1462.1 2774.5C1670.4 2774.5 1670.4 2220.6 1878.7 2220.6L1878.7 2221.5C1670.4 2221.5 1670.4 2775.4 1462.1 2775.4Z" fill="rgba(240,60,50,0.2)" stroke="rgba(240,60,50,0.2)" stroke-width="0.5"/>
<path d="M1462.1 2775.4C1670.2 2775.4 1670.2 2295.3 1878.3 2295.3L1878.3 2296.3C1670.2 2296.3 1670.2 2776.4 1462.1 2776.4Z" fill="rgba(240,60,50,0.2)" stroke="rgba(240,60,50,0.2)" stroke-width="0.5"/>
<path d="M1462.1 2776.4C1670.1 2776.4 1670.1 2357.1 1878.0 2357.1L1878.0 2357.9C1670.1 2357.9 1670.1 2777.2 1462.1 2777.2Z" fill="rgba(240,60,50,0.2)" stroke="rgba(240,60,50,0.2)" stroke-width="0.5"/>
<path d="M1462.1 2777.2C1670.2 2777.2 1670.2 2398.2 1878.4 2398.2L1878.4 2398.7C1670.2 2398.7 1670.2 2777.6 1462.1 2777.6Z" fill="rgba(240,60,50,0.2)" stroke="rgba(240,60,50,0.2)" stroke-width="0.5"/>
<path d="M1462.1 2777.6C1670.4 2777.6 1670.4 2436.3 1878.8 2436.3L1878.8 2436.7C1670.4 2436.7 1670.4 2778.1 1462.1 2778.1Z" fill="rgba(240,60,50,0.2)" stroke="rgba(240,60,50,0.2)" stroke-width="0.5"/>
<path d="M1462.1 2778.1C1670.6 2778.1 1670.6 2472.6 1879.1 2472.6L1879.1 2473.0C1670.6 2473.0 1670.6 2778.5 1462.1 2778.5Z" fill="rgba(240,60,50,0.2)" stroke="rgba(240,60,50,0.2)" stroke-width="0.5"/>
<path d="M1462.1 2778.5C1670.9 2778.5 1670.9 2515.0 1879.6 2515.0L1879.6 2515.6C1670.9 2515.6 1670.9 2779.1 1462.1 2779.1Z" fill="rgba(240,60,50,0.2)" stroke="rgba(240,60,50,0.2)" stroke-width="0.5"/>
<path d="M1462.1 2779.1C1673.1 2779.1 1673.1 2714.2 1884.0 2714.2L1884.0 2718.8C1673.1 2718.8 1673.1 2783.8 1462.1 2783.8Z" fill="rgba(240,60,50,0.2)" stroke="rgba(240,60,50,0.2)" stroke-width="0.5"/>
<path d="M1462.1 2783.8C1675.2 2783.8 1675.2 2881.1 1888.2 2881.1L1888.2 2882.1C1675.2 2882.1 1675.2 2784.8 1462.1 2784.8Z" fill="rgba(240,60,50,0.2)" stroke="rgba(240,60,50,0.2)" stroke-width="0.5"/>
<path d="M1462.1 2784.8C1675.7 2784.8 1675.7 2940.7 1889.3 2940.7L1889.3 2941.6C1675.7 2941.6 1675.7 2785.7 1462.1 2785.7Z" fill="rgba(240,60,50,0.2)" stroke="rgba(240,60,50,0.2)" stroke-width="0.5"/>
<path d="M1462.1 2805.8C1670.6 2805.8 1670.6 2139.2 1879.1 2139.2L1879.1 2139.8C1670.6 2139.8 1670.6 2806.3 1462.1 2806.3Z" fill="rgba(226,0,0,0.2)" stroke="rgba(226,0,0,0.2)" stroke-width="0.5"/>
<path d="M1462.1 2806.3C1670.4 2806.3 1670.4 2221.5 1878.7 2221.5L1878.7 2222.3C1670.4 2222.3 1670.4 2807.2 1462.1 2807.2Z" fill="rgba(226,0,0,0.2)" stroke="rgba(226,0,0,0.2)" stroke-width="0.5"/>
<path d="M1462.1 2807.2C1670.2 2807.2 1670.2 2296.3 1878.3 2296.3L1878.3 2297.2C1670.2 2297.2 1670.2 2808.1 1462.1 2808.1Z" fill="rgba(226,0,0,0.2)" stroke="rgba(226,0,0,0.2)" stroke-width="0.5"/>
<path d="M1462.1 2808.1C1670.1 2808.1 1670.1 2357.9 1878.0 2357.9L1878.0 2358.7C1670.1 2358.7 1670.1 2808.9 1462.1 2808.9Z" fill="rgba(226,0,0,0.2)" stroke="rgba(226,0,0,0.2)" stroke-width="0.5"/>
<path d="M1462.1 2808.9C1670.2 2808.9 1670.2 2398.7 1878.4 2398.7L1878.4 2399.1C1670.2 2399.1 1670.2 2809.4 1462.1 2809.4Z" fill="rgba(226,0,0,0.2)" stroke="rgba(226,0,0,0.2)" stroke-width="0.5"/>
<path d="M1462.1 2809.4C1670.4 2809.4 1670.4 2436.7 1878.8 2436.7L1878.8 2437.2C1670.4 2437.2 1670.4 2809.9 1462.1 2809.9Z" fill="rgba(226,0,0,0.2)" stroke="rgba(226,0,0,0.2)" stroke-width="0.5"/>
<path d="M1462.1 2809.9C1670.6 2809.9 1670.6 2473.0 1879.1 2473.0L1879.1 2473.5C1670.6 2473.5 1670.6 2810.3 1462.1 2810.3Z" fill="rgba(226,0,0,0.2)" stroke="rgba(226,0,0,0.2)" stroke-width="0.5"/>
<path d="M1462.1 2810.3C1670.9 2810.3 1670.9 2515.6 1879.6 2515.6L1879.6 2516.2C1670.9 2516.2 1670.9 2811.0 1462.1 2811.0Z" fill="rgba(226,0,0,0.2)" stroke="rgba(226,0,0,0.2)" stroke-width="0.5"/>
<path d="M1462.1 2811.0C1673.1 2811.0 1673.1 2718.8 1884.0 2718.8L1884.0 2723.9C1673.1 2723.9 1673.1 2816.0 1462.1 2816.0Z" fill="rgba(226,0,0,0.2)" stroke="rgba(226,0,0,0.2)" stroke-width="0.5"/>
<path d="M1462.1 2816.0C1675.2 2816.0 1675.2 2882.1 1888.2 2882.1L1888.2 2883.3C1675.2 2883.3 1675.2 2817.2 1462.1 2817.2Z" fill="rgba(226,0,0,0.2)" stroke="rgba(226,0,0,0.2)" stroke-width="0.5"/>
<path d="M1462.1 2817.2C1675.7 2817.2 1675.7 2941.6 1889.3 2941.6L1889.3 2942.6C1675.7 2942.6 1675.7 2818.2 1462.1 2818.2Z" fill="rgba(226,0,0,0.2)" stroke="rgba(226,0,0,0.2)" stroke-width="0.5"/>
<path d="M1462.1 2836.8C1670.6 2836.8 1670.6 2139.8 1879.1 2139.8L1879.1 2140.2C1670.6 2140.2 1670.6 2837.3 1462.1 2837.3Z" fill="rgba(240,60,50,0.2)" stroke="rgba(240,60,50,0.2)" stroke-width="0.5"/>
<path d="M1462.1 2837.3C1670.4 2837.3 1670.4 2222.3 1878.7 2222.3L1878.7 2223.1C1670.4 2223.1 1670.4 2838.0 1462.1 2838.0Z" fill="rgba(240,60,50,0.2)" stroke="rgba(240,60,50,0.2)" stroke-width="0.5"/>
<path d="M1462.1 2838.0C1670.2 2838.0 1670.2 2297.2 1878.3 2297.2L1878.3 2298.1C1670.2 2298.1 1670.2 2838.9 1462.1 2838.9Z" fill="rgba(240,60,50,0.2)" stroke="rgba(240,60,50,0.2)" stroke-width="0.5"/>
<path d="M1462.1 2838.9C1670.1 2838.9 1670.1 2358.7 1878.0 2358.7L1878.0 2359.5C1670.1 2359.5 1670.1 2839.6 1462.1 2839.6Z" fill="rgba(240,60,50,0.2)" stroke="rgba(240,60,50,0.2)" stroke-width="0.5"/>
<path d="M1462.1 2839.6C1670.2 2839.6 1670.2 2399.1 1878.4 2399.1L1878.4 2399.6C1670.2 2399.6 1670.2 2840.1 1462.1 2840.1Z" fill="rgba(240,60,50,0.2)" stroke="rgba(240,60,50,0.2)" stroke-width="0.5"/>
<path d="M1462.1 2840.1C1670.4 2840.1 1670.4 2437.2 1878.8 2437.2L1878.8 2437.6C1670.4 2437.6 1670.4 2840.5 1462.1 2840.5Z" fill="rgba(240,60,50,0.2)" stroke="rgba(240,60,50,0.2)" stroke-width="0.5"/>
<path d="M1462.1 2840.5C1670.6 2840.5 1670.6 2473.5 1879.1 2473.5L1879.1 2474.0C1670.6 2474.0 1670.6 2840.9 1462.1 2840.9Z" fill="rgba(240,60,50,0.2)" stroke="rgba(240,60,50,0.2)" stroke-width="0.5"/>
<path d="M1462.1 2840.9C1670.9 2840.9 1670.9 2516.2 1879.6 2516.2L1879.6 2516.8C1670.9 2516.8 1670.9 2841.5 1462.1 2841.5Z" fill="rgba(240,60,50,0.2)" stroke="rgba(240,60,50,0.2)" stroke-width="0.5"/>
<path d="M1462.1 2841.5C1673.1 2841.5 1673.1 2723.9 1884.0 2723.9L1884.0 2728.8C1673.1 2728.8 1673.1 2846.5 1462.1 2846.5Z" fill="rgba(240,60,50,0.2)" stroke="rgba(240,60,50,0.2)" stroke-width="0.5"/>
<path d="M1462.1 2846.5C1675.2 2846.5 1675.2 2883.3 1888.2 2883.3L1888.2 2884.5C1675.2 2884.5 1675.2 2847.7 1462.1 2847.7Z" fill="rgba(240,60,50,0.2)" stroke="rgba(240,60,50,0.2)" stroke-width="0.5"/>
<path d="M1462.1 2847.7C1675.7 2847.7 1675.7 2942.6 1889.3 2942.6L1889.3 2943.7C1675.7 2943.7 1675.7 2848.7 1462.1 2848.7Z" fill="rgba(240,60,50,0.2)" stroke="rgba(240,60,50,0.2)" stroke-width="0.5"/>
<path d="M1462.1 2870.0C1670.6 2870.0 1670.6 2140.2 1879.1 2140.2L1879.1 2140.6C1670.6 2140.6 1670.6 2870.4 1462.1 2870.4Z" fill="rgba(60,180,130,0.18)" stroke="rgba(60,180,130,0.18)" stroke-width="0.5"/>
<path d="M1462.1 2870.4C1670.4 2870.4 1670.4 2223.1 1878.7 2223.1L1878.7 2223.7C1670.4 2223.7 1670.4 2871.0 1462.1 2871.0Z" fill="rgba(60,180,130,0.18)" stroke="rgba(60,180,130,0.18)" stroke-width="0.5"/>
<path d="M1462.1 2871.0C1670.2 2871.0 1670.2 2298.1 1878.3 2298.1L1878.3 2298.8C1670.2 2298.8 1670.2 2871.7 1462.1 2871.7Z" fill="rgba(60,180,130,0.18)" stroke="rgba(60,180,130,0.18)" stroke-width="0.5"/>
<path d="M1462.1 2871.7C1670.1 2871.7 1670.1 2359.5 1878.0 2359.5L1878.0 2360.1C1670.1 2360.1 1670.1 2872.3 1462.1 2872.3Z" fill="rgba(60,180,130,0.18)" stroke="rgba(60,180,130,0.18)" stroke-width="0.5"/>
<path d="M1462.1 2872.3C1670.2 2872.3 1670.2 2399.6 1878.4 2399.6L1878.4 2400.0C1670.2 2400.0 1670.2 2872.6 1462.1 2872.6Z" fill="rgba(60,180,130,0.18)" stroke="rgba(60,180,130,0.18)" stroke-width="0.5"/>
<path d="M1462.1 2872.6C1670.4 2872.6 1670.4 2437.6 1878.8 2437.6L1878.8 2437.9C1670.4 2437.9 1670.4 2873.0 1462.1 2873.0Z" fill="rgba(60,180,130,0.18)" stroke="rgba(60,180,130,0.18)" stroke-width="0.5"/>
<path d="M1462.1 2873.0C1670.6 2873.0 1670.6 2474.0 1879.1 2474.0L1879.1 2474.3C1670.6 2474.3 1670.6 2873.3 1462.1 2873.3Z" fill="rgba(60,180,130,0.18)" stroke="rgba(60,180,130,0.18)" stroke-width="0.5"/>
<path d="M1462.1 2873.3C1670.9 2873.3 1670.9 2516.8 1879.6 2516.8L1879.6 2517.3C1670.9 2517.3 1670.9 2873.8 1462.1 2873.8Z" fill="rgba(60,180,130,0.18)" stroke="rgba(60,180,130,0.18)" stroke-width="0.5"/>
<path d="M1462.1 2873.8C1673.1 2873.8 1673.1 2728.8 1884.0 2728.8L1884.0 2733.1C1673.1 2733.1 1673.1 2878.1 1462.1 2878.1Z" fill="rgba(60,180,130,0.18)" stroke="rgba(60,180,130,0.18)" stroke-width="0.5"/>
<path d="M1462.1 2878.1C1675.2 2878.1 1675.2 2884.5 1888.2 2884.5L1888.2 2885.6C1675.2 2885.6 1675.2 2879.2 1462.1 2879.2Z" fill="rgba(60,180,130,0.18)" stroke="rgba(60,180,130,0.18)" stroke-width="0.5"/>
<path d="M1462.1 2879.2C1675.7 2879.2 1675.7 2943.7 1889.3 2943.7L1889.3 2944.6C1675.7 2944.6 1675.7 2880.2 1462.1 2880.2Z" fill="rgba(60,180,130,0.18)" stroke="rgba(60,180,130,0.18)" stroke-width="0.5"/>
<path d="M1462.1 2901.0C1670.6 2901.0 1670.6 2140.6 1879.1 2140.6L1879.1 2140.9C1670.6 2140.9 1670.6 2901.4 1462.1 2901.4Z" fill="rgba(60,180,130,0.18)" stroke="rgba(60,180,130,0.18)" stroke-width="0.5"/>
<path d="M1462.1 2901.4C1670.4 2901.4 1670.4 2223.7 1878.7 2223.7L1878.7 2224.3C1670.4 2224.3 1670.4 2902.0 1462.1 2902.0Z" fill="rgba(60,180,130,0.18)" stroke="rgba(60,180,130,0.18)" stroke-width="0.5"/>
<path d="M1462.1 2902.0C1670.2 2902.0 1670.2 2298.8 1878.3 2298.8L1878.3 2299.5C1670.2 2299.5 1670.2 2902.6 1462.1 2902.6Z" fill="rgba(60,180,130,0.18)" stroke="rgba(60,180,130,0.18)" stroke-width="0.5"/>
<path d="M1462.1 2902.6C1670.1 2902.6 1670.1 2360.1 1878.0 2360.1L1878.0 2360.7C1670.1 2360.7 1670.1 2903.2 1462.1 2903.2Z" fill="rgba(60,180,130,0.18)" stroke="rgba(60,180,130,0.18)" stroke-width="0.5"/>
<path d="M1462.1 2903.2C1670.2 2903.2 1670.2 2400.0 1878.4 2400.0L1878.4 2400.3C1670.2 2400.3 1670.2 2903.6 1462.1 2903.6Z" fill="rgba(60,180,130,0.18)" stroke="rgba(60,180,130,0.18)" stroke-width="0.5"/>
<path d="M1462.1 2903.6C1670.4 2903.6 1670.4 2437.9 1878.8 2437.9L1878.8 2438.2C1670.4 2438.2 1670.4 2903.9 1462.1 2903.9Z" fill="rgba(60,180,130,0.18)" stroke="rgba(60,180,130,0.18)" stroke-width="0.5"/>
<path d="M1462.1 2903.9C1670.6 2903.9 1670.6 2474.3 1879.1 2474.3L1879.1 2474.7C1670.6 2474.7 1670.6 2904.3 1462.1 2904.3Z" fill="rgba(60,180,130,0.18)" stroke="rgba(60,180,130,0.18)" stroke-width="0.5"/>
<path d="M1462.1 2904.3C1670.9 2904.3 1670.9 2517.3 1879.6 2517.3L1879.6 2517.8C1670.9 2517.8 1670.9 2904.8 1462.1 2904.8Z" fill="rgba(60,180,130,0.18)" stroke="rgba(60,180,130,0.18)" stroke-width="0.5"/>
<path d="M1462.1 2904.8C1673.1 2904.8 1673.1 2733.1 1884.0 2733.1L1884.0 2737.8C1673.1 2737.8 1673.1 2909.5 1462.1 2909.5Z" fill="rgba(60,180,130,0.18)" stroke="rgba(60,180,130,0.18)" stroke-width="0.5"/>
<path d="M1462.1 2909.5C1675.2 2909.5 1675.2 2885.6 1888.2 2885.6L1888.2 2886.8C1675.2 2886.8 1675.2 2910.7 1462.1 2910.7Z" fill="rgba(60,180,130,0.18)" stroke="rgba(60,180,130,0.18)" stroke-width="0.5"/>
<path d="M1462.1 2910.7C1675.7 2910.7 1675.7 2944.6 1889.3 2944.6L1889.3 2945.7C1675.7 2945.7 1675.7 2911.8 1462.1 2911.8Z" fill="rgba(60,180,130,0.18)" stroke="rgba(60,180,130,0.18)" stroke-width="0.5"/>
<path d="M1462.1 2932.0C1670.6 2932.0 1670.6 2140.9 1879.1 2140.9L1879.1 2141.3C1670.6 2141.3 1670.6 2932.3 1462.1 2932.3Z" fill="rgba(60,180,130,0.18)" stroke="rgba(60,180,130,0.18)" stroke-width="0.5"/>
<path d="M1462.1 2932.3C1670.4 2932.3 1670.4 2224.3 1878.7 2224.3L1878.7 2224.9C1670.4 2224.9 1670.4 2932.9 1462.1 2932.9Z" fill="rgba(60,180,130,0.18)" stroke="rgba(60,180,130,0.18)" stroke-width="0.5"/>
<path d="M1462.1 2932.9C1670.2 2932.9 1670.2 2299.5 1878.3 2299.5L1878.3 2300.1C1670.2 2300.1 1670.2 2933.5 1462.1 2933.5Z" fill="rgba(60,180,130,0.18)" stroke="rgba(60,180,130,0.18)" stroke-width="0.5"/>
<path d="M1462.1 2933.5C1670.1 2933.5 1670.1 2360.7 1878.0 2360.7L1878.0 2361.3C1670.1 2361.3 1670.1 2934.1 1462.1 2934.1Z" fill="rgba(60,180,130,0.18)" stroke="rgba(60,180,130,0.18)" stroke-width="0.5"/>
<path d="M1462.1 2934.1C1670.2 2934.1 1670.2 2400.3 1878.4 2400.3L1878.4 2400.7C1670.2 2400.7 1670.2 2934.5 1462.1 2934.5Z" fill="rgba(60,180,130,0.18)" stroke="rgba(60,180,130,0.18)" stroke-width="0.5"/>
<path d="M1462.1 2934.5C1670.4 2934.5 1670.4 2438.2 1878.8 2438.2L1878.8 2438.6C1670.4 2438.6 1670.4 2934.8 1462.1 2934.8Z" fill="rgba(60,180,130,0.18)" stroke="rgba(60,180,130,0.18)" stroke-width="0.5"/>
<path d="M1462.1 2934.8C1670.6 2934.8 1670.6 2474.7 1879.1 2474.7L1879.1 2475.1C1670.6 2475.1 1670.6 2935.2 1462.1 2935.2Z" fill="rgba(60,180,130,0.18)" stroke="rgba(60,180,130,0.18)" stroke-width="0.5"/>
<path d="M1462.1 2935.2C1670.9 2935.2 1670.9 2517.8 1879.6 2517.8L1879.6 2518.3C1670.9 2518.3 1670.9 2935.7 1462.1 2935.7Z" fill="rgba(60,180,130,0.18)" stroke="rgba(60,180,130,0.18)" stroke-width="0.5"/>
<path d="M1462.1 2935.7C1673.1 2935.7 1673.1 2737.8 1884.0 2737.8L1884.0 2742.5C1673.1 2742.5 1673.1 2940.3 1462.1 2940.3Z" fill="rgba(60,180,130,0.18)" stroke="rgba(60,180,130,0.18)" stroke-width="0.5"/>
<path d="M1462.1 2940.3C1675.2 2940.3 1675.2 2886.8 1888.2 2886.8L1888.2 2888.1C1675.2 2888.1 1675.2 2941.6 1462.1 2941.6Z" fill="rgba(60,180,130,0.18)" stroke="rgba(60,180,130,0.18)" stroke-width="0.5"/>
<path d="M1462.1 2941.6C1675.7 2941.6 1675.7 2945.7 1889.3 2945.7L1889.3 2946.9C1675.7 2946.9 1675.7 2942.8 1462.1 2942.8Z" fill="rgba(60,180,130,0.18)" stroke="rgba(60,180,130,0.18)" stroke-width="0.5"/>
<path d="M1462.1 2963.2C1670.6 2963.2 1670.6 2141.3 1879.1 2141.3L1879.1 2141.6C1670.6 2141.6 1670.6 2963.6 1462.1 2963.6Z" fill="rgba(60,180,130,0.18)" stroke="rgba(60,180,130,0.18)" stroke-width="0.5"/>
<path d="M1462.1 2963.6C1670.4 2963.6 1670.4 2224.9 1878.7 2224.9L1878.7 2225.5C1670.4 2225.5 1670.4 2964.1 1462.1 2964.1Z" fill="rgba(60,180,130,0.18)" stroke="rgba(60,180,130,0.18)" stroke-width="0.5"/>
<path d="M1462.1 2964.1C1670.2 2964.1 1670.2 2300.1 1878.3 2300.1L1878.3 2300.8C1670.2 2300.8 1670.2 2964.8 1462.1 2964.8Z" fill="rgba(60,180,130,0.18)" stroke="rgba(60,180,130,0.18)" stroke-width="0.5"/>
<path d="M1462.1 2964.8C1670.1 2964.8 1670.1 2361.3 1878.0 2361.3L1878.0 2361.9C1670.1 2361.9 1670.1 2965.4 1462.1 2965.4Z" fill="rgba(60,180,130,0.18)" stroke="rgba(60,180,130,0.18)" stroke-width="0.5"/>
<path d="M1462.1 2965.4C1670.2 2965.4 1670.2 2400.7 1878.4 2400.7L1878.4 2401.1C1670.2 2401.1 1670.2 2965.8 1462.1 2965.8Z" fill="rgba(60,180,130,0.18)" stroke="rgba(60,180,130,0.18)" stroke-width="0.5"/>
<path d="M1462.1 2965.8C1670.4 2965.8 1670.4 2438.6 1878.8 2438.6L1878.8 2438.9C1670.4 2438.9 1670.4 2966.1 1462.1 2966.1Z" fill="rgba(60,180,130,0.18)" stroke="rgba(60,180,130,0.18)" stroke-width="0.5"/>
<path d="M1462.1 2966.1C1670.6 2966.1 1670.6 2475.1 1879.1 2475.1L1879.1 2475.5C1670.6 2475.5 1670.6 2966.5 1462.1 2966.5Z" fill="rgba(60,180,130,0.18)" stroke="rgba(60,180,130,0.18)" stroke-width="0.5"/>
<path d="M1462.1 2966.5C1670.9 2966.5 1670.9 2518.3 1879.6 2518.3L1879.6 2518.9C1670.9 2518.9 1670.9 2967.1 1462.1 2967.1Z" fill="rgba(60,180,130,0.18)" stroke="rgba(60,180,130,0.18)" stroke-width="0.5"/>
<path d="M1462.1 2967.1C1673.1 2967.1 1673.1 2742.5 1884.0 2742.5L1884.0 2747.8C1673.1 2747.8 1673.1 2972.4 1462.1 2972.4Z" fill="rgba(60,180,130,0.18)" stroke="rgba(60,180,130,0.18)" stroke-width="0.5"/>
<path d="M1462.1 2972.4C1675.2 2972.4 1675.2 2888.1 1888.2 2888.1L1888.2 2889.7C1675.2 2889.7 1675.2 2973.9 1462.1 2973.9Z" fill="rgba(60,180,130,0.18)" stroke="rgba(60,180,130,0.18)" stroke-width="0.5"/>
<path d="M1462.1 2973.9C1675.7 2973.9 1675.7 2946.9 1889.3 2946.9L1889.3 2948.3C1675.7 2948.3 1675.7 2975.3 1462.1 2975.3Z" fill="rgba(60,180,130,0.18)" stroke="rgba(60,180,130,0.18)" stroke-width="0.5"/>
<path d="M1462.1 2995.7C1670.6 2995.7 1670.6 2141.6 1879.1 2141.6L1879.1 2141.9C1670.6 2141.9 1670.6 2996.0 1462.1 2996.0Z" fill="rgba(240,60,50,0.2)" stroke="rgba(240,60,50,0.2)" stroke-width="0.5"/>
<path d="M1462.1 2996.0C1670.4 2996.0 1670.4 2225.5 1878.7 2225.5L1878.7 2225.9C1670.4 2225.9 1670.4 2996.5 1462.1 2996.5Z" fill="rgba(240,60,50,0.2)" stroke="rgba(240,60,50,0.2)" stroke-width="0.5"/>
<path d="M1462.1 2996.5C1670.2 2996.5 1670.2 2300.8 1878.3 2300.8L1878.3 2301.3C1670.2 2301.3 1670.2 2997.0 1462.1 2997.0Z" fill="rgba(240,60,50,0.2)" stroke="rgba(240,60,50,0.2)" stroke-width="0.5"/>
<path d="M1462.1 2997.0C1670.1 2997.0 1670.1 2361.9 1878.0 2361.9L1878.0 2362.4C1670.1 2362.4 1670.1 2997.5 1462.1 2997.5Z" fill="rgba(240,60,50,0.2)" stroke="rgba(240,60,50,0.2)" stroke-width="0.5"/>
<path d="M1462.1 2997.5C1670.2 2997.5 1670.2 2401.1 1878.4 2401.1L1878.4 2401.4C1670.2 2401.4 1670.2 2997.8 1462.1 2997.8Z" fill="rgba(240,60,50,0.2)" stroke="rgba(240,60,50,0.2)" stroke-width="0.5"/>
<path d="M1462.1 2997.8C1670.4 2997.8 1670.4 2438.9 1878.8 2438.9L1878.8 2439.2C1670.4 2439.2 1670.4 2998.1 1462.1 2998.1Z" fill="rgba(240,60,50,0.2)" stroke="rgba(240,60,50,0.2)" stroke-width="0.5"/>
<path d="M1462.1 2998.1C1670.6 2998.1 1670.6 2475.5 1879.1 2475.5L1879.1 2475.8C1670.6 2475.8 1670.6 2998.4 1462.1 2998.4Z" fill="rgba(240,60,50,0.2)" stroke="rgba(240,60,50,0.2)" stroke-width="0.5"/>
<path d="M1462.1 2998.4C1670.9 2998.4 1670.9 2518.9 1879.6 2518.9L1879.6 2519.4C1670.9 2519.4 1670.9 2998.9 1462.1 2998.9Z" fill="rgba(240,60,50,0.2)" stroke="rgba(240,60,50,0.2)" stroke-width="0.5"/>
<path d="M1462.1 2998.9C1673.1 2998.9 1673.1 2747.8 1884.0 2747.8L1884.0 2752.4C1673.1 2752.4 1673.1 3003.5 1462.1 3003.5Z" fill="rgba(240,60,50,0.2)" stroke="rgba(240,60,50,0.2)" stroke-width="0.5"/>
<path d="M1462.1 3003.5C1675.2 3003.5 1675.2 2889.7 1888.2 2889.7L1888.2 2891.0C1675.2 2891.0 1675.2 3004.9 1462.1 3004.9Z" fill="rgba(240,60,50,0.2)" stroke="rgba(240,60,50,0.2)" stroke-width="0.5"/>
<path d="M1462.1 3004.9C1675.7 3004.9 1675.7 2948.3 1889.3 2948.3L1889.3 2949.6C1675.7 2949.6 1675.7 3006.2 1462.1 3006.2Z" fill="rgba(240,60,50,0.2)" stroke="rgba(240,60,50,0.2)" stroke-width="0.5"/>
<path d="M1462.1 3026.6C1670.6 3026.6 1670.6 2141.9 1879.1 2141.9L1879.1 2142.2C1670.6 2142.2 1670.6 3026.9 1462.1 3026.9Z" fill="rgba(240,60,50,0.2)" stroke="rgba(240,60,50,0.2)" stroke-width="0.5"/>
<path d="M1462.1 3026.9C1670.4 3026.9 1670.4 2225.9 1878.7 2225.9L1878.7 2226.4C1670.4 2226.4 1670.4 3027.3 1462.1 3027.3Z" fill="rgba(240,60,50,0.2)" stroke="rgba(240,60,50,0.2)" stroke-width="0.5"/>
<path d="M1462.1 3027.3C1670.2 3027.3 1670.2 2301.3 1878.3 2301.3L1878.3 2301.9C1670.2 2301.9 1670.2 3027.9 1462.1 3027.9Z" fill="rgba(240,60,50,0.2)" stroke="rgba(240,60,50,0.2)" stroke-width="0.5"/>
<path d="M1462.1 3027.9C1670.1 3027.9 1670.1 2362.4 1878.0 2362.4L1878.0 2362.9C1670.1 2362.9 1670.1 3028.3 1462.1 3028.3Z" fill="rgba(240,60,50,0.2)" stroke="rgba(240,60,50,0.2)" stroke-width="0.5"/>
<path d="M1462.1 3028.3C1670.2 3028.3 1670.2 2401.4 1878.4 2401.4L1878.4 2401.7C1670.2 2401.7 1670.2 3028.6 1462.1 3028.6Z" fill="rgba(240,60,50,0.2)" stroke="rgba(240,60,50,0.2)" stroke-width="0.5"/>
<path d="M1462.1 3028.6C1670.4 3028.6 1670.4 2439.2 1878.8 2439.2L1878.8 2439.5C1670.4 2439.5 1670.4 3028.9 1462.1 3028.9Z" fill="rgba(240,60,50,0.2)" stroke="rgba(240,60,50,0.2)" stroke-width="0.5"/>
<path d="M1462.1 3028.9C1670.6 3028.9 1670.6 2475.8 1879.1 2475.8L1879.1 2476.1C1670.6 2476.1 1670.6 3029.2 1462.1 3029.2Z" fill="rgba(240,60,50,0.2)" stroke="rgba(240,60,50,0.2)" stroke-width="0.5"/>
<path d="M1462.1 3029.2C1670.9 3029.2 1670.9 2519.4 1879.6 2519.4L1879.6 2519.8C1670.9 2519.8 1670.9 3029.7 1462.1 3029.7Z" fill="rgba(240,60,50,0.2)" stroke="rgba(240,60,50,0.2)" stroke-width="0.5"/>
<path d="M1462.1 3029.7C1673.1 3029.7 1673.1 2752.4 1884.0 2752.4L1884.0 2757.1C1673.1 2757.1 1673.1 3034.4 1462.1 3034.4Z" fill="rgba(240,60,50,0.2)" stroke="rgba(240,60,50,0.2)" stroke-width="0.5"/>
<path d="M1462.1 3034.4C1675.2 3034.4 1675.2 2891.0 1888.2 2891.0L1888.2 2892.5C1675.2 2892.5 1675.2 3035.8 1462.1 3035.8Z" fill="rgba(240,60,50,0.2)" stroke="rgba(240,60,50,0.2)" stroke-width="0.5"/>
<path d="M1462.1 3035.8C1675.7 3035.8 1675.7 2949.6 1889.3 2949.6L1889.3 2951.0C1675.7 2951.0 1675.7 3037.2 1462.1 3037.2Z" fill="rgba(240,60,50,0.2)" stroke="rgba(240,60,50,0.2)" stroke-width="0.5"/>
<path d="M1462.1 3056.7C1670.6 3056.7 1670.6 2142.2 1879.1 2142.2L1879.1 2142.5C1670.6 2142.5 1670.6 3057.0 1462.1 3057.0Z" fill="rgba(0,160,72,0.2)" stroke="rgba(0,160,72,0.2)" stroke-width="0.5"/>
<path d="M1462.1 3057.0C1670.4 3057.0 1670.4 2226.4 1878.7 2226.4L1878.7 2226.8C1670.4 2226.8 1670.4 3057.4 1462.1 3057.4Z" fill="rgba(0,160,72,0.2)" stroke="rgba(0,160,72,0.2)" stroke-width="0.5"/>
<path d="M1462.1 3057.4C1670.2 3057.4 1670.2 2301.9 1878.3 2301.9L1878.3 2302.4C1670.2 2302.4 1670.2 3057.9 1462.1 3057.9Z" fill="rgba(0,160,72,0.2)" stroke="rgba(0,160,72,0.2)" stroke-width="0.5"/>
<path d="M1462.1 3057.9C1670.1 3057.9 1670.1 2362.9 1878.0 2362.9L1878.0 2363.3C1670.1 2363.3 1670.1 3058.4 1462.1 3058.4Z" fill="rgba(0,160,72,0.2)" stroke="rgba(0,160,72,0.2)" stroke-width="0.5"/>
<path d="M1462.1 3058.4C1670.2 3058.4 1670.2 2401.7 1878.4 2401.7L1878.4 2402.0C1670.2 2402.0 1670.2 3058.7 1462.1 3058.7Z" fill="rgba(0,160,72,0.2)" stroke="rgba(0,160,72,0.2)" stroke-width="0.5"/>
<path d="M1462.1 3058.7C1670.4 3058.7 1670.4 2439.5 1878.8 2439.5L1878.8 2439.7C1670.4 2439.7 1670.4 3059.0 1462.1 3059.0Z" fill="rgba(0,160,72,0.2)" stroke="rgba(0,160,72,0.2)" stroke-width="0.5"/>
<path d="M1462.1 3059.0C1670.6 3059.0 1670.6 2476.1 1879.1 2476.1L1879.1 2476.5C1670.6 2476.5 1670.6 3059.3 1462.1 3059.3Z" fill="rgba(0,160,72,0.2)" stroke="rgba(0,160,72,0.2)" stroke-width="0.5"/>
<path d="M1462.1 3059.3C1670.9 3059.3 1670.9 2519.8 1879.6 2519.8L1879.6 2520.3C1670.9 2520.3 1670.9 3059.7 1462.1 3059.7Z" fill="rgba(0,160,72,0.2)" stroke="rgba(0,160,72,0.2)" stroke-width="0.5"/>
<path d="M1462.1 3059.7C1673.1 3059.7 1673.1 2757.1 1884.0 2757.1L1884.0 2761.9C1673.1 2761.9 1673.1 3064.5 1462.1 3064.5Z" fill="rgba(0,160,72,0.2)" stroke="rgba(0,160,72,0.2)" stroke-width="0.5"/>
<path d="M1462.1 3064.5C1675.2 3064.5 1675.2 2892.5 1888.2 2892.5L1888.2 2894.1C1675.2 2894.1 1675.2 3066.0 1462.1 3066.0Z" fill="rgba(0,160,72,0.2)" stroke="rgba(0,160,72,0.2)" stroke-width="0.5"/>
<path d="M1462.1 3066.0C1675.7 3066.0 1675.7 2951.0 1889.3 2951.0L1889.3 2952.5C1675.7 2952.5 1675.7 3067.5 1462.1 3067.5Z" fill="rgba(0,160,72,0.2)" stroke="rgba(0,160,72,0.2)" stroke-width="0.5"/>
<path d="M1462.1 3087.6C1670.6 3087.6 1670.6 2142.5 1879.1 2142.5L1879.1 2142.8C1670.6 2142.8 1670.6 3087.9 1462.1 3087.9Z" fill="rgba(240,60,50,0.2)" stroke="rgba(240,60,50,0.2)" stroke-width="0.5"/>
<path d="M1462.1 3087.9C1670.4 3087.9 1670.4 2226.8 1878.7 2226.8L1878.7 2227.3C1670.4 2227.3 1670.4 3088.3 1462.1 3088.3Z" fill="rgba(240,60,50,0.2)" stroke="rgba(240,60,50,0.2)" stroke-width="0.5"/>
<path d="M1462.1 3088.3C1670.2 3088.3 1670.2 2302.4 1878.3 2302.4L1878.3 2302.8C1670.2 2302.8 1670.2 3088.8 1462.1 3088.8Z" fill="rgba(240,60,50,0.2)" stroke="rgba(240,60,50,0.2)" stroke-width="0.5"/>
<path d="M1462.1 3088.8C1670.1 3088.8 1670.1 2363.3 1878.0 2363.3L1878.0 2363.8C1670.1 2363.8 1670.1 3089.2 1462.1 3089.2Z" fill="rgba(240,60,50,0.2)" stroke="rgba(240,60,50,0.2)" stroke-width="0.5"/>
<path d="M1462.1 3089.2C1670.2 3089.2 1670.2 2402.0 1878.4 2402.0L1878.4 2402.2C1670.2 2402.2 1670.2 3089.5 1462.1 3089.5Z" fill="rgba(240,60,50,0.2)" stroke="rgba(240,60,50,0.2)" stroke-width="0.5"/>
<path d="M1462.1 3089.5C1670.4 3089.5 1670.4 2439.7 1878.8 2439.7L1878.8 2440.0C1670.4 2440.0 1670.4 3089.8 1462.1 3089.8Z" fill="rgba(240,60,50,0.2)" stroke="rgba(240,60,50,0.2)" stroke-width="0.5"/>
<path d="M1462.1 3089.8C1670.6 3089.8 1670.6 2476.5 1879.1 2476.5L1879.1 2476.8C1670.6 2476.8 1670.6 3090.1 1462.1 3090.1Z" fill="rgba(240,60,50,0.2)" stroke="rgba(240,60,50,0.2)" stroke-width="0.5"/>
<path d="M1462.1 3090.1C1670.9 3090.1 1670.9 2520.3 1879.6 2520.3L1879.6 2520.7C1670.9 2520.7 1670.9 3090.5 1462.1 3090.5Z" fill="rgba(240,60,50,0.2)" stroke="rgba(240,60,50,0.2)" stroke-width="0.5"/>
<path d="M1462.1 3090.5C1673.1 3090.5 1673.1 2761.9 1884.0 2761.9L1884.0 2766.6C1673.1 2766.6 1673.1 3095.2 1462.1 3095.2Z" fill="rgba(240,60,50,0.2)" stroke="rgba(240,60,50,0.2)" stroke-width="0.5"/>
<path d="M1462.1 3095.2C1675.2 3095.2 1675.2 2894.1 1888.2 2894.1L1888.2 2895.7C1675.2 2895.7 1675.2 3096.8 1462.1 3096.8Z" fill="rgba(240,60,50,0.2)" stroke="rgba(240,60,50,0.2)" stroke-width="0.5"/>
<path d="M1462.1 3096.8C1675.7 3096.8 1675.7 2952.5 1889.3 2952.5L1889.3 2954.0C1675.7 2954.0 1675.7 3098.4 1462.1 3098.4Z" fill="rgba(240,60,50,0.2)" stroke="rgba(240,60,50,0.2)" stroke-width="0.5"/>
<path d="M1462.1 3118.6C1670.6 3118.6 1670.6 2142.8 1879.1 2142.8L1879.1 2143.0C1670.6 2143.0 1670.6 3118.9 1462.1 3118.9Z" fill="rgba(240,60,50,0.2)" stroke="rgba(240,60,50,0.2)" stroke-width="0.5"/>
<path d="M1462.1 3118.9C1670.4 3118.9 1670.4 2227.3 1878.7 2227.3L1878.7 2227.6C1670.4 2227.6 1670.4 3119.2 1462.1 3119.2Z" fill="rgba(240,60,50,0.2)" stroke="rgba(240,60,50,0.2)" stroke-width="0.5"/>
<path d="M1462.1 3119.2C1670.2 3119.2 1670.2 2302.8 1878.3 2302.8L1878.3 2303.3C1670.2 2303.3 1670.2 3119.7 1462.1 3119.7Z" fill="rgba(240,60,50,0.2)" stroke="rgba(240,60,50,0.2)" stroke-width="0.5"/>
<path d="M1462.1 3119.7C1670.1 3119.7 1670.1 2363.8 1878.0 2363.8L1878.0 2364.2C1670.1 2364.2 1670.1 3120.0 1462.1 3120.0Z" fill="rgba(240,60,50,0.2)" stroke="rgba(240,60,50,0.2)" stroke-width="0.5"/>
<path d="M1462.1 3120.0C1670.2 3120.0 1670.2 2402.2 1878.4 2402.2L1878.4 2402.5C1670.2 2402.5 1670.2 3120.3 1462.1 3120.3Z" fill="rgba(240,60,50,0.2)" stroke="rgba(240,60,50,0.2)" stroke-width="0.5"/>
<path d="M1462.1 3120.3C1670.4 3120.3 1670.4 2440.0 1878.8 2440.0L1878.8 2440.2C1670.4 2440.2 1670.4 3120.5 1462.1 3120.5Z" fill="rgba(240,60,50,0.2)" stroke="rgba(240,60,50,0.2)" stroke-width="0.5"/>
<path d="M1462.1 3120.5C1670.6 3120.5 1670.6 2476.8 1879.1 2476.8L1879.1 2477.0C1670.6 2477.0 1670.6 3120.8 1462.1 3120.8Z" fill="rgba(240,60,50,0.2)" stroke="rgba(240,60,50,0.2)" stroke-width="0.5"/>
<path d="M1462.1 3120.8C1670.9 3120.8 1670.9 2520.7 1879.6 2520.7L1879.6 2521.1C1670.9 2521.1 1670.9 3121.2 1462.1 3121.2Z" fill="rgba(240,60,50,0.2)" stroke="rgba(240,60,50,0.2)" stroke-width="0.5"/>
<path d="M1462.1 3121.2C1673.1 3121.2 1673.1 2766.6 1884.0 2766.6L1884.0 2770.9C1673.1 2770.9 1673.1 3125.5 1462.1 3125.5Z" fill="rgba(240,60,50,0.2)" stroke="rgba(240,60,50,0.2)" stroke-width="0.5"/>
<path d="M1462.1 3125.5C1675.2 3125.5 1675.2 2895.7 1888.2 2895.7L1888.2 2897.2C1675.2 2897.2 1675.2 3127.0 1462.1 3127.0Z" fill="rgba(240,60,50,0.2)" stroke="rgba(240,60,50,0.2)" stroke-width="0.5"/>
<path d="M1462.1 3127.0C1675.7 3127.0 1675.7 2954.0 1889.3 2954.0L1889.3 2955.5C1675.7 2955.5 1675.7 3128.5 1462.1 3128.5Z" fill="rgba(240,60,50,0.2)" stroke="rgba(240,60,50,0.2)" stroke-width="0.5"/>
<path d="M1462.1 3148.6C1670.6 3148.6 1670.6 2143.0 1879.1 2143.0L1879.1 2143.3C1670.6 2143.3 1670.6 3148.9 1462.1 3148.9Z" fill="rgba(226,0,0,0.2)" stroke="rgba(226,0,0,0.2)" stroke-width="0.5"/>
<path d="M1462.1 3148.9C1670.4 3148.9 1670.4 2227.6 1878.7 2227.6L1878.7 2228.1C1670.4 2228.1 1670.4 3149.4 1462.1 3149.4Z" fill="rgba(226,0,0,0.2)" stroke="rgba(226,0,0,0.2)" stroke-width="0.5"/>
<path d="M1462.1 3149.4C1670.2 3149.4 1670.2 2303.3 1878.3 2303.3L1878.3 2303.8C1670.2 2303.8 1670.2 3149.8 1462.1 3149.8Z" fill="rgba(226,0,0,0.2)" stroke="rgba(226,0,0,0.2)" stroke-width="0.5"/>
<path d="M1462.1 3149.8C1670.1 3149.8 1670.1 2364.2 1878.0 2364.2L1878.0 2364.6C1670.1 2364.6 1670.1 3150.3 1462.1 3150.3Z" fill="rgba(226,0,0,0.2)" stroke="rgba(226,0,0,0.2)" stroke-width="0.5"/>
<path d="M1462.1 3150.3C1670.2 3150.3 1670.2 2402.5 1878.4 2402.5L1878.4 2402.8C1670.2 2402.8 1670.2 3150.6 1462.1 3150.6Z" fill="rgba(226,0,0,0.2)" stroke="rgba(226,0,0,0.2)" stroke-width="0.5"/>
<path d="M1462.1 3150.6C1670.4 3150.6 1670.4 2440.2 1878.8 2440.2L1878.8 2440.5C1670.4 2440.5 1670.4 3150.8 1462.1 3150.8Z" fill="rgba(226,0,0,0.2)" stroke="rgba(226,0,0,0.2)" stroke-width="0.5"/>
<path d="M1462.1 3150.8C1670.6 3150.8 1670.6 2477.0 1879.1 2477.0L1879.1 2477.3C1670.6 2477.3 1670.6 3151.1 1462.1 3151.1Z" fill="rgba(226,0,0,0.2)" stroke="rgba(226,0,0,0.2)" stroke-width="0.5"/>
<path d="M1462.1 3151.1C1670.9 3151.1 1670.9 2521.1 1879.6 2521.1L1879.6 2521.5C1670.9 2521.5 1670.9 3151.6 1462.1 3151.6Z" fill="rgba(226,0,0,0.2)" stroke="rgba(226,0,0,0.2)" stroke-width="0.5"/>
<path d="M1462.1 3151.6C1673.1 3151.6 1673.1 2770.9 1884.0 2770.9L1884.0 2776.1C1673.1 2776.1 1673.1 3156.7 1462.1 3156.7Z" fill="rgba(226,0,0,0.2)" stroke="rgba(226,0,0,0.2)" stroke-width="0.5"/>
<path d="M1462.1 3156.7C1675.2 3156.7 1675.2 2897.2 1888.2 2897.2L1888.2 2899.0C1675.2 2899.0 1675.2 3158.5 1462.1 3158.5Z" fill="rgba(226,0,0,0.2)" stroke="rgba(226,0,0,0.2)" stroke-width="0.5"/>
<path d="M1462.1 3158.5C1675.7 3158.5 1675.7 2955.5 1889.3 2955.5L1889.3 2957.4C1675.7 2957.4 1675.7 3160.4 1462.1 3160.4Z" fill="rgba(226,0,0,0.2)" stroke="rgba(226,0,0,0.2)" stroke-width="0.5"/>
<path d="M1462.1 3179.9C1670.6 3179.9 1670.6 2143.3 1879.1 2143.3L1879.1 2143.6C1670.6 2143.6 1670.6 3180.2 1462.1 3180.2Z" fill="rgba(60,180,130,0.18)" stroke="rgba(60,180,130,0.18)" stroke-width="0.5"/>
<path d="M1462.1 3180.2C1670.4 3180.2 1670.4 2228.1 1878.7 2228.1L1878.7 2228.5C1670.4 2228.5 1670.4 3180.6 1462.1 3180.6Z" fill="rgba(60,180,130,0.18)" stroke="rgba(60,180,130,0.18)" stroke-width="0.5"/>
<path d="M1462.1 3180.6C1670.2 3180.6 1670.2 2303.8 1878.3 2303.8L1878.3 2304.2C1670.2 2304.2 1670.2 3181.0 1462.1 3181.0Z" fill="rgba(60,180,130,0.18)" stroke="rgba(60,180,130,0.18)" stroke-width="0.5"/>
<path d="M1462.1 3181.0C1670.1 3181.0 1670.1 2364.6 1878.0 2364.6L1878.0 2365.0C1670.1 2365.0 1670.1 3181.4 1462.1 3181.4Z" fill="rgba(60,180,130,0.18)" stroke="rgba(60,180,130,0.18)" stroke-width="0.5"/>
<path d="M1462.1 3181.4C1670.2 3181.4 1670.2 2402.8 1878.4 2402.8L1878.4 2403.0C1670.2 2403.0 1670.2 3181.7 1462.1 3181.7Z" fill="rgba(60,180,130,0.18)" stroke="rgba(60,180,130,0.18)" stroke-width="0.5"/>
<path d="M1462.1 3181.7C1670.4 3181.7 1670.4 2440.5 1878.8 2440.5L1878.8 2440.7C1670.4 2440.7 1670.4 3181.9 1462.1 3181.9Z" fill="rgba(60,180,130,0.18)" stroke="rgba(60,180,130,0.18)" stroke-width="0.5"/>
<path d="M1462.1 3181.9C1670.6 3181.9 1670.6 2477.3 1879.1 2477.3L1879.1 2477.6C1670.6 2477.6 1670.6 3182.2 1462.1 3182.2Z" fill="rgba(60,180,130,0.18)" stroke="rgba(60,180,130,0.18)" stroke-width="0.5"/>
<path d="M1462.1 3182.2C1670.9 3182.2 1670.9 2521.5 1879.6 2521.5L1879.6 2521.9C1670.9 2521.9 1670.9 3182.5 1462.1 3182.5Z" fill="rgba(60,180,130,0.18)" stroke="rgba(60,180,130,0.18)" stroke-width="0.5"/>
<path d="M1462.1 3182.5C1673.1 3182.5 1673.1 2776.1 1884.0 2776.1L1884.0 2780.7C1673.1 2780.7 1673.1 3187.2 1462.1 3187.2Z" fill="rgba(60,180,130,0.18)" stroke="rgba(60,180,130,0.18)" stroke-width="0.5"/>
<path d="M1462.1 3187.2C1675.2 3187.2 1675.2 2899.0 1888.2 2899.0L1888.2 2900.8C1675.2 2900.8 1675.2 3188.9 1462.1 3188.9Z" fill="rgba(60,180,130,0.18)" stroke="rgba(60,180,130,0.18)" stroke-width="0.5"/>
<path d="M1462.1 3188.9C1675.7 3188.9 1675.7 2957.4 1889.3 2957.4L1889.3 2959.2C1675.7 2959.2 1675.7 3190.7 1462.1 3190.7Z" fill="rgba(60,180,130,0.18)" stroke="rgba(60,180,130,0.18)" stroke-width="0.5"/>
<path d="M1928.1 2056.9C2059.6 2056.9 2059.6 2107.8 2191.1 2107.8L2191.1 2195.8C2059.6 2195.8 2059.6 2143.6 1928.1 2143.6Z" fill="rgba(226,0,0,0.2)"/>
<path d="M1927.7 2164.7C2059.3 2164.7 2059.3 2304.9 2190.8 2304.9L2190.8 2369.9C2059.3 2369.9 2059.3 2228.5 1927.7 2228.5Z" fill="rgba(226,0,0,0.2)"/>
<path d="M1927.3 2246.2C2059.1 2246.2 2059.1 2369.9 2190.8 2369.9L2190.8 2411.1C2059.1 2411.1 2059.1 2286.2 1927.3 2286.2Z" fill="rgba(226,0,0,0.2)"/>
<path d="M1927.3 2286.2C2059.2 2286.2 2059.2 2195.8 2191.1 2195.8L2191.1 2214.0C2059.2 2214.0 2059.2 2304.2 1927.3 2304.2Z" fill="rgba(226,0,0,0.2)"/>
<path d="M1927.0 2321.9C2059.1 2321.9 2059.1 2214.0 2191.1 2214.0L2191.1 2234.2C2059.1 2234.2 2059.1 2341.9 1927.0 2341.9Z" fill="rgba(226,0,0,0.2)"/>
<path d="M1927.0 2341.9C2058.9 2341.9 2058.9 2411.1 2190.8 2411.1L2190.8 2434.8C2058.9 2434.8 2058.9 2365.0 1927.0 2365.0Z" fill="rgba(226,0,0,0.2)"/>
<path d="M1927.4 2381.7C2059.3 2381.7 2059.3 2234.2 2191.1 2234.2L2191.1 2244.3C2059.3 2244.3 2059.3 2391.8 1927.4 2391.8Z" fill="rgba(226,0,0,0.2)"/>
<path d="M1927.4 2391.8C2059.1 2391.8 2059.1 2434.8 2190.8 2434.8L2190.8 2446.2C2059.1 2446.2 2059.1 2403.0 1927.4 2403.0Z" fill="rgba(226,0,0,0.2)"/>
<path d="M1927.8 2422.3C2059.4 2422.3 2059.4 2244.3 2191.1 2244.3L2191.1 2253.4C2059.4 2253.4 2059.4 2431.3 1927.8 2431.3Z" fill="rgba(226,0,0,0.2)"/>
<path d="M1927.8 2431.3C2059.3 2431.3 2059.3 2446.2 2190.8 2446.2L2190.8 2455.9C2059.3 2455.9 2059.3 2440.7 1927.8 2440.7Z" fill="rgba(226,0,0,0.2)"/>
<path d="M1928.1 2458.4C2059.6 2458.4 2059.6 2253.4 2191.1 2253.4L2191.1 2263.6C2059.6 2263.6 2059.6 2468.5 1928.1 2468.5Z" fill="rgba(226,0,0,0.2)"/>
<path d="M1928.1 2468.5C2059.5 2468.5 2059.5 2455.9 2190.8 2455.9L2190.8 2465.2C2059.5 2465.2 2059.5 2477.6 1928.1 2477.6Z" fill="rgba(226,0,0,0.2)"/>
<path d="M1928.6 2497.9C2059.9 2497.9 2059.9 2263.6 2191.1 2263.6L2191.1 2275.7C2059.9 2275.7 2059.9 2509.9 1928.6 2509.9Z" fill="rgba(226,0,0,0.2)"/>
<path d="M1928.6 2509.9C2059.7 2509.9 2059.7 2465.2 2190.8 2465.2L2190.8 2477.6C2059.7 2477.6 2059.7 2521.9 1928.6 2521.9Z" fill="rgba(226,0,0,0.2)"/>
<path d="M1933.0 2599.9C2061.8 2599.9 2061.8 2522.6 2190.6 2522.6L2190.6 2572.4C2061.8 2572.4 2061.8 2650.6 1933.0 2650.6Z" fill="rgba(0,160,72,0.2)"/>
<path d="M1933.0 2650.6C2061.9 2650.6 2061.9 2596.9 2190.7 2596.9L2190.7 2644.1C2061.9 2644.1 2061.9 2698.7 1933.0 2698.7Z" fill="rgba(0,160,72,0.2)"/>
<path d="M1933.0 2698.7C2062.2 2698.7 2062.2 2667.0 2191.4 2667.0L2191.4 2708.4C2062.2 2708.4 2062.2 2740.9 1933.0 2740.9Z" fill="rgba(0,160,72,0.2)"/>
<path d="M1933.0 2740.9C2062.5 2740.9 2062.5 2734.2 2192.0 2734.2L2192.0 2773.3C2062.5 2773.3 2062.5 2780.7 1933.0 2780.7Z" fill="rgba(0,160,72,0.2)"/>
<path d="M1937.2 2860.0C2065.2 2860.0 2065.2 2821.3 2193.2 2821.3L2193.2 2841.0C2065.2 2841.0 2065.2 2879.9 1937.2 2879.9Z" fill="rgba(226,0,0,0.2)"/>
<path d="M1937.2 2879.9C2065.9 2879.9 2065.9 2887.7 2194.5 2887.7L2194.5 2909.3C2065.9 2909.3 2065.9 2900.8 1937.2 2900.8Z" fill="rgba(226,0,0,0.2)"/>
<path d="M1938.3 2926.6C2065.7 2926.6 2065.7 2841.0 2193.2 2841.0L2193.2 2858.2C2065.7 2858.2 2065.7 2943.9 1938.3 2943.9Z" fill="rgba(226,0,0,0.2)"/>
<path d="M1938.3 2943.9C2066.4 2943.9 2066.4 2909.3 2194.5 2909.3L2194.5 2925.3C2066.4 2925.3 2066.4 2959.2 1938.3 2959.2Z" fill="rgba(226,0,0,0.2)"/>
<rect x="37.5" y="2175.0" width="49" height="598.8" fill="#fe988a"/>
<rect x="289.8" y="2173.3" width="49" height="598.9" fill="#fe988a"/>
<rect x="531.3" y="2143.9" width="49" height="484.7" fill="#e20000"/>
<rect x="531.3" y="2653.2" width="49" height="70.8" fill="#fe988a"/>
<rect x="531.3" y="2743.8" width="49" height="20.3" fill="#83cab1"/>
<rect x="531.3" y="2785.5" width="49" height="21.5" fill="#83cab1"/>
<rect x="808.0" y="2082.9" width="49" height="272.9" fill="#e20000"/>
<rect x="807.7" y="2381.7" width="49" height="142.9" fill="#83cab1"/>
<rect x="807.6" y="2542.5" width="49" height="44.5" fill="#fe988a"/>
<rect x="807.5" y="2610.8" width="49" height="11.7" fill="#83cab1"/>
<rect x="807.5" y="2645.4" width="49" height="11.3" fill="#fe988a"/>
<rect x="808.0" y="2684.2" width="49" height="12.5" fill="#fe988a"/>
<rect x="808.8" y="2719.6" width="49" height="57.1" fill="#fe988a"/>
<rect x="809.5" y="2795.4" width="49" height="11.3" fill="#fe988a"/>
<rect x="810.0" y="2828.8" width="49" height="10.4" fill="#fe988a"/>
<rect x="810.5" y="2863.3" width="49" height="21.7" fill="#83cab1"/>
<rect x="1132.0" y="2027.9" width="49" height="272.9" fill="#e20000"/>
<rect x="1132.0" y="2326.7" width="49" height="100.8" fill="#83cab1"/>
<rect x="1132.0" y="2447.5" width="49" height="31.2" fill="#fe988a"/>
<rect x="1132.2" y="2501.7" width="49" height="9.1" fill="#fe988a"/>
<rect x="1132.5" y="2535.0" width="49" height="43.8" fill="#fe988a"/>
<rect x="1132.8" y="2605.0" width="49" height="11.2" fill="#83cab1"/>
<rect x="1133.2" y="2642.0" width="49" height="11.8" fill="#fe988a"/>
<rect x="1134.1" y="2683.0" width="49" height="11.0" fill="#fe988a"/>
<rect x="1135.1" y="2720.4" width="49" height="34.2" fill="#83cab1"/>
<rect x="1135.6" y="2774.6" width="49" height="10.4" fill="#00a048"/>
<rect x="1135.9" y="2810.4" width="49" height="11.3" fill="#fe988a"/>
<rect x="1136.3" y="2849.6" width="49" height="11.2" fill="#fe988a"/>
<rect x="1136.9" y="2888.0" width="49" height="9.5" fill="#fe988a"/>
<rect x="1137.6" y="2925.8" width="49" height="12.5" fill="#fe988a"/>
<rect x="1140.4" y="2969.6" width="49" height="9.2" fill="#83cab1"/>
<rect x="1413.1" y="1863.2" width="49" height="152.6" fill="#e20000"/>
<rect x="1413.1" y="2035.6" width="49" height="41.2" fill="#e20000"/>
<rect x="1413.1" y="2096.3" width="49" height="10.8" fill="#fe988a"/>
<rect x="1413.1" y="2127.9" width="49" height="10.8" fill="#fe988a"/>
<rect x="1413.1" y="2158.8" width="49" height="10.8" fill="#83cab1"/>
<rect x="1413.1" y="2189.8" width="49" height="11.4" fill="#83cab1"/>
<rect x="1413.1" y="2222.3" width="49" height="11.4" fill="#fe988a"/>
<rect x="1413.1" y="2254.8" width="49" height="7.7" fill="#fe988a"/>
<rect x="1413.1" y="2282.6" width="49" height="11.8" fill="#83cab1"/>
<rect x="1413.1" y="2315.1" width="49" height="10.9" fill="#e20000"/>
<rect x="1413.1" y="2346.5" width="49" height="9.0" fill="#00a048"/>
<rect x="1413.1" y="2375.6" width="49" height="11.4" fill="#fe988a"/>
<rect x="1413.1" y="2407.5" width="49" height="11.5" fill="#83cab1"/>
<rect x="1413.1" y="2439.7" width="49" height="10.2" fill="#00a048"/>
<rect x="1413.1" y="2469.4" width="49" height="10.5" fill="#83cab1"/>
<rect x="1413.1" y="2500.3" width="49" height="10.6" fill="#00a048"/>
<rect x="1413.1" y="2531.3" width="49" height="9.9" fill="#83cab1"/>
<rect x="1413.1" y="2560.4" width="49" height="10.2" fill="#fe988a"/>
<rect x="1413.1" y="2590.7" width="49" height="10.8" fill="#fe988a"/>
<rect x="1413.1" y="2620.1" width="49" height="10.9" fill="#fe988a"/>
<rect x="1413.1" y="2651.0" width="49" height="10.9" fill="#83cab1"/>
<rect x="1413.1" y="2680.5" width="49" height="12.4" fill="#fe988a"/>
<rect x="1413.1" y="2712.0" width="49" height="13.4" fill="#fe988a"/>
<rect x="1413.1" y="2743.9" width="49" height="10.9" fill="#fe988a"/>
<rect x="1413.1" y="2774.0" width="49" height="11.7" fill="#fe988a"/>
<rect x="1413.1" y="2805.8" width="49" height="12.4" fill="#e20000"/>
<rect x="1413.1" y="2836.8" width="49" height="11.9" fill="#fe988a"/>
<rect x="1413.1" y="2870.0" width="49" height="10.2" fill="#83cab1"/>
<rect x="1413.1" y="2901.0" width="49" height="10.8" fill="#83cab1"/>
<rect x="1413.1" y="2932.0" width="49" height="10.8" fill="#83cab1"/>
<rect x="1413.1" y="2963.2" width="49" height="12.1" fill="#83cab1"/>
<rect x="1413.1" y="2995.7" width="49" height="10.5" fill="#fe988a"/>
<rect x="1413.1" y="3026.6" width="49" height="10.6" fill="#fe988a"/>
<rect x="1413.1" y="3056.7" width="49" height="10.8" fill="#00a048"/>
<rect x="1413.1" y="3087.6" width="49" height="10.8" fill="#fe988a"/>
<rect x="1413.1" y="3118.6" width="49" height="9.9" fill="#fe988a"/>
<rect x="1413.1" y="3148.6" width="49" height="11.8" fill="#e20000"/>
<rect x="1413.1" y="3179.9" width="49" height="10.8" fill="#83cab1"/>
<rect x="1879.1" y="2056.9" width="49" height="86.7" fill="#e20000"/>
<rect x="1878.7" y="2164.7" width="49" height="63.8" fill="#e20000"/>
<rect x="1878.3" y="2246.2" width="49" height="58.0" fill="#e20000"/>
<rect x="1878.0" y="2321.9" width="49" height="43.1" fill="#e20000"/>
<rect x="1878.4" y="2381.7" width="49" height="21.3" fill="#e20000"/>
<rect x="1878.8" y="2422.3" width="49" height="18.4" fill="#e20000"/>
<rect x="1879.1" y="2458.4" width="49" height="19.2" fill="#e20000"/>
<rect x="1879.6" y="2497.9" width="49" height="24.0" fill="#e20000"/>
<rect x="1884.0" y="2599.9" width="49" height="180.8" fill="#e20000"/>
<rect x="1888.2" y="2860.0" width="49" height="40.8" fill="#e20000"/>
<rect x="1889.3" y="2926.6" width="49" height="32.6" fill="#e20000"/>
<rect x="2191.1" y="2107.8" width="49" height="167.9" fill="#e20000"/>
<rect x="2190.8" y="2304.9" width="49" height="172.7" fill="#e20000"/>
<rect x="2190.6" y="2522.6" width="49" height="49.8" fill="#00a048"/>
<rect x="2190.7" y="2596.9" width="49" height="47.2" fill="#00a048"/>
<rect x="2191.4" y="2667.0" width="49" height="41.4" fill="#00a048"/>
<rect x="2192.0" y="2734.2" width="49" height="39.1" fill="#00a048"/>
<rect x="2193.2" y="2821.3" width="49" height="36.9" fill="#e20000"/>
<rect x="2194.5" y="2887.7" width="49" height="37.6" fill="#e20000"/>
<g font-size="22" font-weight="bold" fill="#333" stroke="#fff" stroke-width="3.2" stroke-opacity="0.85" paint-order="stroke" stroke-linejoin="round"><text x="98.5" y="2480.9">p_Bacteroidota</text><text x="350.8" y="2479.2">c_Bacteroidia</text><text x="592.3" y="2392.8">o_Bacteroidales</text><text x="592.3" y="2695.1">o_Flavobacteriales</text><text x="592.3" y="2760.4">o_Cytophagales</text><text x="592.3" y="2802.8">o_Chitinophagales</text><text x="869.0" y="2225.9">f_Bacteroidaceae</text><text x="868.7" y="2459.6">f_Prevotellaceae</text><text x="868.6" y="2571.2">f_Porphyromonadaceae</text><text x="868.5" y="2623.2">f_Dysgonomonadaceae</text><text x="868.5" y="2657.6">f_Tannerellaceae</text><text x="869.0" y="2696.9">f_Flavobacteriaceae</text><text x="869.8" y="2754.6">f_Weeksellaceae</text><text x="870.5" y="2807.6">f_Hymenobacteraceae</text><text x="871.0" y="2840.5">f_Spirosomaceae</text><text x="871.5" y="2880.7">f_Chitinophagaceae</text><text x="1193.0" y="2170.9">g_Bacteroides</text><text x="1193.0" y="2383.6">g_Prevotella</text><text x="1193.0" y="2469.6">g_Prevotella_7</text><text x="1193.2" y="2512.8">g_Prevotella_9</text><text x="1193.5" y="2563.4">g_Porphyromonas</text><text x="1193.8" y="2617.1">g_Dysgonomonas</text><text x="1194.2" y="2654.4">g_Flavobacterium</text><text x="1195.1" y="2695.0">g_Empedobacter</text><text x="1196.1" y="2744.0">g_Chryseobacterium</text><text x="1196.6" y="2786.3">g_Parabacteroides</text><text x="1196.9" y="2822.6">g_Cloacibacterium</text><text x="1197.3" y="2861.7">g_Rufibacter</text><text x="1197.9" y="2899.2">g_Rhabdobacter</text><text x="1198.6" y="2938.6">g_Flavisolibacter</text><text x="1201.4" y="2980.7">g_Cnuella</text><text x="1474.1" y="1946.0">s_Bacteroides_thetaiotaomicron</text><text x="1474.1" y="2062.7">s_Bacteroides_fragilis</text><text x="1474.1" y="2108.2">s_Phocaeicola_dorei</text><text x="1474.1" y="2139.8">s_Bacteroides_acidifaciens</text><text x="1474.1" y="2170.7">s_Bacteroides_uniformis</text><text x="1474.1" y="2202.0">s_Bacteroides_vulgatus</text><text x="1474.1" y="2234.5">s_Phocaeicola_massiliensis</text><text x="1474.1" y="2265.2">s_Bacteroides_ovatus</text><text x="1474.1" y="2295.0">s_Prevotella_colorans</text><text x="1474.1" y="2327.1">s_Phocaeicola_plebeius</text><text x="1474.1" y="2357.5">s_Prevotella_disiens</text><text x="1474.1" y="2387.8">s_Prevotella_nigrescens</text><text x="1474.1" y="2419.8">s_Prevotella_salivae</text><text x="1474.1" y="2451.3">s_Prevotella_buccalis</text><text x="1474.1" y="2481.2">s_Prevotella_bivia</text><text x="1474.1" y="2512.1">s_Chlamydia_trachomatis</text><text x="1474.1" y="2542.8">s_Prevotella_corporis</text><text x="1474.1" y="2572.0">s_Trichuris_trichiura__human_whipworm</text><text x="1474.1" y="2602.6">s_Prevotella_bergensis</text><text x="1474.1" y="2632.1">s_Metaprevotella_massiliensis</text><text x="1474.1" y="2662.9">s_Prevotella_melaninogenica</text><text x="1474.1" y="2693.2">s_Prevotella_pleuritidis</text><text x="1474.1" y="2725.2">s_Flavobacterium_lindanitolerans</text><text x="1474.1" y="2755.9">s_Porphyromonas_somerae</text><text x="1474.1" y="2786.3">s_Porphyromonas_asaccharolytica</text><text x="1474.1" y="2818.5">s_Porphyromonas_bennonis</text><text x="1474.1" y="2849.2">s_Empedobacter_brevis</text><text x="1474.1" y="2881.6">s_Porphyromonas_pasteri</text><text x="1474.1" y="2912.9">s_Dysgonomonas_alginatilytica</text><text x="1474.1" y="2943.9">s_Chryseobacterium_scophthalmum</text><text x="1474.1" y="2975.8">s_Kaistella_anthropi</text><text x="1474.1" y="3007.4">s_Cloacibacterium_normanense</text><text x="1474.1" y="3038.4">s_Chryseobacterium_polytrichastri</text><text x="1474.1" y="3068.6">s_Parabacteroides_merdae</text><text x="1474.1" y="3099.5">s_Rufibacter_immobilis</text><text x="1474.1" y="3130.1">s_Rhabdobacter_roseus</text><text x="1474.1" y="3161.0">s_Flavisolibacter_ginsengisoli</text><text x="1474.1" y="3191.8">s_Paracnuella_aquatica</text><text x="1940.1" y="2106.8">CERS2</text><text x="1939.7" y="2203.1">CERS6</text><text x="1939.3" y="2281.7">CERS5</text><text x="1939.0" y="2349.9">UGT8</text><text x="1939.4" y="2398.8">SMPD1</text><text x="1939.8" y="2438.0">SMPD2</text><text x="1940.1" y="2474.5">SMPD3</text><text x="1940.6" y="2516.4">SMPD4</text><text x="1945.0" y="2696.8">GCS</text><text x="1949.2" y="2886.9">SGMS1</text><text x="1950.3" y="2949.4">SGMS2</text><text x="2252.1" y="2198.2">Cer(d18:1/16:0)</text><text x="2251.8" y="2397.8">Cer(d18:1/24:1)</text><text x="2251.6" y="2554.0">Hex1Cer(d18:1/24:1)</text><text x="2251.7" y="2627.0">Hex1Cer(d18:1/16:0)</text><text x="2252.4" y="2694.2">Hex2Cer(d18:1/16:0)</text><text x="2253.0" y="2760.2">Hex2Cer(d18:1/24:1)</text><text x="2254.2" y="2846.2">SM(d18:1/16:0)</text><text x="2255.5" y="2913.0">SM(d18:1/24:1)</text></g>
<text transform="translate(727.6,2078.4) rotate(-45)" font-size="192" fill="#e7e7e7" style="mix-blend-mode:multiply">Journal Pre-proof</text>
</svg>
</body></html>
